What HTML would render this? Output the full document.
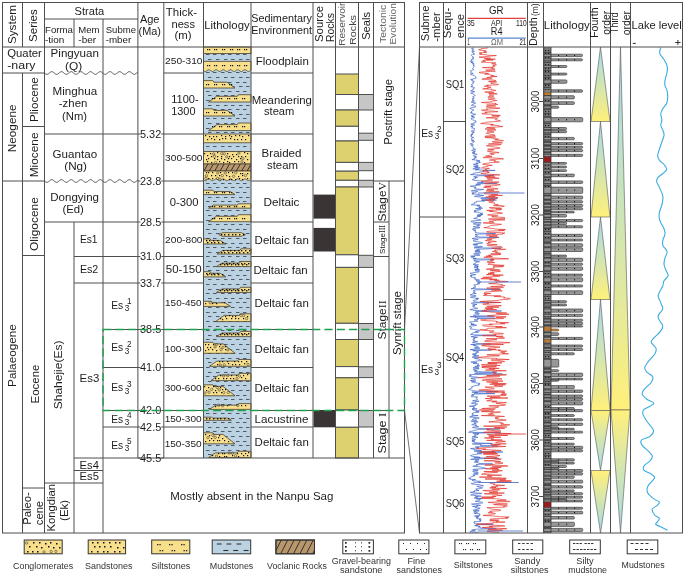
<!DOCTYPE html>
<html><head><meta charset="utf-8"><style>
html,body{margin:0;padding:0;background:#fff;}
svg{display:block;font-family:"Liberation Sans", sans-serif;will-change:transform;}
</style></head><body>
<svg width="685" height="576" viewBox="0 0 685 576">
<rect x="0" y="0" width="685" height="576" fill="#fff"/>
<rect x="335.5" y="74" width="23.0" height="20.5" fill="#dcd16e" stroke="#4e4e4e" stroke-width="1"/>
<rect x="335.5" y="94.5" width="23.0" height="15.5" fill="#ffffff" stroke="#4e4e4e" stroke-width="1"/>
<rect x="335.5" y="110" width="23.0" height="16.299999999999997" fill="#dcd16e" stroke="#4e4e4e" stroke-width="1"/>
<rect x="335.5" y="126.3" width="23.0" height="14.700000000000003" fill="#ffffff" stroke="#4e4e4e" stroke-width="1"/>
<rect x="335.5" y="141" width="23.0" height="21.400000000000006" fill="#dcd16e" stroke="#4e4e4e" stroke-width="1"/>
<rect x="335.5" y="162.4" width="23.0" height="8.799999999999983" fill="#ffffff" stroke="#4e4e4e" stroke-width="1"/>
<rect x="335.5" y="171.2" width="23.0" height="9.100000000000023" fill="#dcd16e" stroke="#4e4e4e" stroke-width="1"/>
<rect x="335.5" y="180.3" width="23.0" height="6.699999999999989" fill="#ffffff" stroke="#4e4e4e" stroke-width="1"/>
<rect x="335.5" y="187" width="23.0" height="67.80000000000001" fill="#dcd16e" stroke="#4e4e4e" stroke-width="1"/>
<rect x="335.5" y="254.8" width="23.0" height="12.599999999999966" fill="#ffffff" stroke="#4e4e4e" stroke-width="1"/>
<rect x="335.5" y="267.4" width="23.0" height="55.900000000000034" fill="#dcd16e" stroke="#4e4e4e" stroke-width="1"/>
<rect x="335.5" y="323.3" width="23.0" height="16.19999999999999" fill="#ffffff" stroke="#4e4e4e" stroke-width="1"/>
<rect x="335.5" y="339.5" width="23.0" height="27.100000000000023" fill="#dcd16e" stroke="#4e4e4e" stroke-width="1"/>
<rect x="335.5" y="366.6" width="23.0" height="11.199999999999989" fill="#ffffff" stroke="#4e4e4e" stroke-width="1"/>
<rect x="335.5" y="377.8" width="23.0" height="32.19999999999999" fill="#dcd16e" stroke="#4e4e4e" stroke-width="1"/>
<rect x="335.5" y="410" width="23.0" height="17.30000000000001" fill="#ffffff" stroke="#4e4e4e" stroke-width="1"/>
<rect x="335.5" y="427.3" width="23.0" height="30.69999999999999" fill="#dcd16e" stroke="#4e4e4e" stroke-width="1"/>
<rect x="358.5" y="94.5" width="15.0" height="15.5" fill="#c6c6c6" stroke="#4e4e4e" stroke-width="1"/>
<rect x="358.5" y="133.2" width="15.0" height="7.100000000000023" fill="#c6c6c6" stroke="#4e4e4e" stroke-width="1"/>
<rect x="358.5" y="162.4" width="15.0" height="8.299999999999983" fill="#c6c6c6" stroke="#4e4e4e" stroke-width="1"/>
<rect x="358.5" y="180.3" width="15.0" height="6.699999999999989" fill="#c6c6c6" stroke="#4e4e4e" stroke-width="1"/>
<rect x="358.5" y="255.3" width="15.0" height="12.099999999999966" fill="#c6c6c6" stroke="#4e4e4e" stroke-width="1"/>
<rect x="358.5" y="323.5" width="15.0" height="16.0" fill="#c6c6c6" stroke="#4e4e4e" stroke-width="1"/>
<rect x="358.5" y="366.8" width="15.0" height="10.800000000000011" fill="#c6c6c6" stroke="#4e4e4e" stroke-width="1"/>
<rect x="358.5" y="410.5" width="15.0" height="16.5" fill="#c6c6c6" stroke="#4e4e4e" stroke-width="1"/>
<rect x="313.5" y="194.6" width="21.5" height="24.0" fill="#3b3434" stroke="none" stroke-width="1"/>
<rect x="313.5" y="227.9" width="21.5" height="23.599999999999994" fill="#3b3434" stroke="none" stroke-width="1"/>
<rect x="313.5" y="410" width="21.5" height="17.30000000000001" fill="#3b3434" stroke="none" stroke-width="1"/>
<rect x="203.5" y="47" width="47.5" height="411" fill="#bad2e2" stroke="none" stroke-width="1"/>
<line x1="208" y1="50.5" x2="211.5" y2="50.5" stroke="#4f5a64" stroke-width="1"/>
<line x1="216" y1="50.5" x2="219.5" y2="50.5" stroke="#4f5a64" stroke-width="1"/>
<line x1="224" y1="50.5" x2="227.5" y2="50.5" stroke="#4f5a64" stroke-width="1"/>
<line x1="231" y1="50.5" x2="234.5" y2="50.5" stroke="#4f5a64" stroke-width="1"/>
<line x1="239" y1="50.5" x2="242.5" y2="50.5" stroke="#4f5a64" stroke-width="1"/>
<line x1="246" y1="50.5" x2="249.5" y2="50.5" stroke="#4f5a64" stroke-width="1"/>
<line x1="206" y1="54.5" x2="209.5" y2="54.5" stroke="#4f5a64" stroke-width="1"/>
<line x1="213" y1="54.5" x2="216.5" y2="54.5" stroke="#4f5a64" stroke-width="1"/>
<line x1="221" y1="54.5" x2="224.5" y2="54.5" stroke="#4f5a64" stroke-width="1"/>
<line x1="228" y1="54.5" x2="231.5" y2="54.5" stroke="#4f5a64" stroke-width="1"/>
<line x1="236" y1="54.5" x2="239.5" y2="54.5" stroke="#4f5a64" stroke-width="1"/>
<line x1="243" y1="54.5" x2="246.5" y2="54.5" stroke="#4f5a64" stroke-width="1"/>
<line x1="208" y1="59.5" x2="211.5" y2="59.5" stroke="#4f5a64" stroke-width="1"/>
<line x1="216" y1="59.5" x2="219.5" y2="59.5" stroke="#4f5a64" stroke-width="1"/>
<line x1="224" y1="59.5" x2="227.5" y2="59.5" stroke="#4f5a64" stroke-width="1"/>
<line x1="231" y1="59.5" x2="234.5" y2="59.5" stroke="#4f5a64" stroke-width="1"/>
<line x1="239" y1="59.5" x2="242.5" y2="59.5" stroke="#4f5a64" stroke-width="1"/>
<line x1="246" y1="59.5" x2="249.5" y2="59.5" stroke="#4f5a64" stroke-width="1"/>
<line x1="206" y1="63.5" x2="209.5" y2="63.5" stroke="#4f5a64" stroke-width="1"/>
<line x1="213" y1="63.5" x2="216.5" y2="63.5" stroke="#4f5a64" stroke-width="1"/>
<line x1="221" y1="63.5" x2="224.5" y2="63.5" stroke="#4f5a64" stroke-width="1"/>
<line x1="228" y1="63.5" x2="231.5" y2="63.5" stroke="#4f5a64" stroke-width="1"/>
<line x1="236" y1="63.5" x2="239.5" y2="63.5" stroke="#4f5a64" stroke-width="1"/>
<line x1="243" y1="63.5" x2="246.5" y2="63.5" stroke="#4f5a64" stroke-width="1"/>
<line x1="208" y1="68.5" x2="211.5" y2="68.5" stroke="#4f5a64" stroke-width="1"/>
<line x1="216" y1="68.5" x2="219.5" y2="68.5" stroke="#4f5a64" stroke-width="1"/>
<line x1="224" y1="68.5" x2="227.5" y2="68.5" stroke="#4f5a64" stroke-width="1"/>
<line x1="231" y1="68.5" x2="234.5" y2="68.5" stroke="#4f5a64" stroke-width="1"/>
<line x1="239" y1="68.5" x2="242.5" y2="68.5" stroke="#4f5a64" stroke-width="1"/>
<line x1="246" y1="68.5" x2="249.5" y2="68.5" stroke="#4f5a64" stroke-width="1"/>
<line x1="206" y1="72.5" x2="209.5" y2="72.5" stroke="#4f5a64" stroke-width="1"/>
<line x1="213" y1="72.5" x2="216.5" y2="72.5" stroke="#4f5a64" stroke-width="1"/>
<line x1="221" y1="72.5" x2="224.5" y2="72.5" stroke="#4f5a64" stroke-width="1"/>
<line x1="228" y1="72.5" x2="231.5" y2="72.5" stroke="#4f5a64" stroke-width="1"/>
<line x1="236" y1="72.5" x2="239.5" y2="72.5" stroke="#4f5a64" stroke-width="1"/>
<line x1="243" y1="72.5" x2="246.5" y2="72.5" stroke="#4f5a64" stroke-width="1"/>
<line x1="208" y1="77.5" x2="211.5" y2="77.5" stroke="#4f5a64" stroke-width="1"/>
<line x1="216" y1="77.5" x2="219.5" y2="77.5" stroke="#4f5a64" stroke-width="1"/>
<line x1="224" y1="77.5" x2="227.5" y2="77.5" stroke="#4f5a64" stroke-width="1"/>
<line x1="231" y1="77.5" x2="234.5" y2="77.5" stroke="#4f5a64" stroke-width="1"/>
<line x1="239" y1="77.5" x2="242.5" y2="77.5" stroke="#4f5a64" stroke-width="1"/>
<line x1="246" y1="77.5" x2="249.5" y2="77.5" stroke="#4f5a64" stroke-width="1"/>
<line x1="206" y1="82.5" x2="209.5" y2="82.5" stroke="#4f5a64" stroke-width="1"/>
<line x1="213" y1="82.5" x2="216.5" y2="82.5" stroke="#4f5a64" stroke-width="1"/>
<line x1="221" y1="82.5" x2="224.5" y2="82.5" stroke="#4f5a64" stroke-width="1"/>
<line x1="228" y1="82.5" x2="231.5" y2="82.5" stroke="#4f5a64" stroke-width="1"/>
<line x1="236" y1="82.5" x2="239.5" y2="82.5" stroke="#4f5a64" stroke-width="1"/>
<line x1="243" y1="82.5" x2="246.5" y2="82.5" stroke="#4f5a64" stroke-width="1"/>
<line x1="208" y1="86.5" x2="211.5" y2="86.5" stroke="#4f5a64" stroke-width="1"/>
<line x1="216" y1="86.5" x2="219.5" y2="86.5" stroke="#4f5a64" stroke-width="1"/>
<line x1="224" y1="86.5" x2="227.5" y2="86.5" stroke="#4f5a64" stroke-width="1"/>
<line x1="231" y1="86.5" x2="234.5" y2="86.5" stroke="#4f5a64" stroke-width="1"/>
<line x1="239" y1="86.5" x2="242.5" y2="86.5" stroke="#4f5a64" stroke-width="1"/>
<line x1="246" y1="86.5" x2="249.5" y2="86.5" stroke="#4f5a64" stroke-width="1"/>
<line x1="206" y1="91.5" x2="209.5" y2="91.5" stroke="#4f5a64" stroke-width="1"/>
<line x1="213" y1="91.5" x2="216.5" y2="91.5" stroke="#4f5a64" stroke-width="1"/>
<line x1="221" y1="91.5" x2="224.5" y2="91.5" stroke="#4f5a64" stroke-width="1"/>
<line x1="228" y1="91.5" x2="231.5" y2="91.5" stroke="#4f5a64" stroke-width="1"/>
<line x1="236" y1="91.5" x2="239.5" y2="91.5" stroke="#4f5a64" stroke-width="1"/>
<line x1="243" y1="91.5" x2="246.5" y2="91.5" stroke="#4f5a64" stroke-width="1"/>
<line x1="208" y1="95.5" x2="211.5" y2="95.5" stroke="#4f5a64" stroke-width="1"/>
<line x1="216" y1="95.5" x2="219.5" y2="95.5" stroke="#4f5a64" stroke-width="1"/>
<line x1="224" y1="95.5" x2="227.5" y2="95.5" stroke="#4f5a64" stroke-width="1"/>
<line x1="231" y1="95.5" x2="234.5" y2="95.5" stroke="#4f5a64" stroke-width="1"/>
<line x1="239" y1="95.5" x2="242.5" y2="95.5" stroke="#4f5a64" stroke-width="1"/>
<line x1="246" y1="95.5" x2="249.5" y2="95.5" stroke="#4f5a64" stroke-width="1"/>
<line x1="206" y1="100.5" x2="209.5" y2="100.5" stroke="#4f5a64" stroke-width="1"/>
<line x1="213" y1="100.5" x2="216.5" y2="100.5" stroke="#4f5a64" stroke-width="1"/>
<line x1="221" y1="100.5" x2="224.5" y2="100.5" stroke="#4f5a64" stroke-width="1"/>
<line x1="228" y1="100.5" x2="231.5" y2="100.5" stroke="#4f5a64" stroke-width="1"/>
<line x1="236" y1="100.5" x2="239.5" y2="100.5" stroke="#4f5a64" stroke-width="1"/>
<line x1="243" y1="100.5" x2="246.5" y2="100.5" stroke="#4f5a64" stroke-width="1"/>
<line x1="208" y1="105.5" x2="211.5" y2="105.5" stroke="#4f5a64" stroke-width="1"/>
<line x1="216" y1="105.5" x2="219.5" y2="105.5" stroke="#4f5a64" stroke-width="1"/>
<line x1="224" y1="105.5" x2="227.5" y2="105.5" stroke="#4f5a64" stroke-width="1"/>
<line x1="231" y1="105.5" x2="234.5" y2="105.5" stroke="#4f5a64" stroke-width="1"/>
<line x1="239" y1="105.5" x2="242.5" y2="105.5" stroke="#4f5a64" stroke-width="1"/>
<line x1="246" y1="105.5" x2="249.5" y2="105.5" stroke="#4f5a64" stroke-width="1"/>
<line x1="206" y1="109.5" x2="209.5" y2="109.5" stroke="#4f5a64" stroke-width="1"/>
<line x1="213" y1="109.5" x2="216.5" y2="109.5" stroke="#4f5a64" stroke-width="1"/>
<line x1="221" y1="109.5" x2="224.5" y2="109.5" stroke="#4f5a64" stroke-width="1"/>
<line x1="228" y1="109.5" x2="231.5" y2="109.5" stroke="#4f5a64" stroke-width="1"/>
<line x1="236" y1="109.5" x2="239.5" y2="109.5" stroke="#4f5a64" stroke-width="1"/>
<line x1="243" y1="109.5" x2="246.5" y2="109.5" stroke="#4f5a64" stroke-width="1"/>
<line x1="208" y1="114.5" x2="211.5" y2="114.5" stroke="#4f5a64" stroke-width="1"/>
<line x1="216" y1="114.5" x2="219.5" y2="114.5" stroke="#4f5a64" stroke-width="1"/>
<line x1="224" y1="114.5" x2="227.5" y2="114.5" stroke="#4f5a64" stroke-width="1"/>
<line x1="231" y1="114.5" x2="234.5" y2="114.5" stroke="#4f5a64" stroke-width="1"/>
<line x1="239" y1="114.5" x2="242.5" y2="114.5" stroke="#4f5a64" stroke-width="1"/>
<line x1="246" y1="114.5" x2="249.5" y2="114.5" stroke="#4f5a64" stroke-width="1"/>
<line x1="206" y1="118.5" x2="209.5" y2="118.5" stroke="#4f5a64" stroke-width="1"/>
<line x1="213" y1="118.5" x2="216.5" y2="118.5" stroke="#4f5a64" stroke-width="1"/>
<line x1="221" y1="118.5" x2="224.5" y2="118.5" stroke="#4f5a64" stroke-width="1"/>
<line x1="228" y1="118.5" x2="231.5" y2="118.5" stroke="#4f5a64" stroke-width="1"/>
<line x1="236" y1="118.5" x2="239.5" y2="118.5" stroke="#4f5a64" stroke-width="1"/>
<line x1="243" y1="118.5" x2="246.5" y2="118.5" stroke="#4f5a64" stroke-width="1"/>
<line x1="208" y1="123.5" x2="211.5" y2="123.5" stroke="#4f5a64" stroke-width="1"/>
<line x1="216" y1="123.5" x2="219.5" y2="123.5" stroke="#4f5a64" stroke-width="1"/>
<line x1="224" y1="123.5" x2="227.5" y2="123.5" stroke="#4f5a64" stroke-width="1"/>
<line x1="231" y1="123.5" x2="234.5" y2="123.5" stroke="#4f5a64" stroke-width="1"/>
<line x1="239" y1="123.5" x2="242.5" y2="123.5" stroke="#4f5a64" stroke-width="1"/>
<line x1="246" y1="123.5" x2="249.5" y2="123.5" stroke="#4f5a64" stroke-width="1"/>
<line x1="206" y1="128.5" x2="209.5" y2="128.5" stroke="#4f5a64" stroke-width="1"/>
<line x1="213" y1="128.5" x2="216.5" y2="128.5" stroke="#4f5a64" stroke-width="1"/>
<line x1="221" y1="128.5" x2="224.5" y2="128.5" stroke="#4f5a64" stroke-width="1"/>
<line x1="228" y1="128.5" x2="231.5" y2="128.5" stroke="#4f5a64" stroke-width="1"/>
<line x1="236" y1="128.5" x2="239.5" y2="128.5" stroke="#4f5a64" stroke-width="1"/>
<line x1="243" y1="128.5" x2="246.5" y2="128.5" stroke="#4f5a64" stroke-width="1"/>
<line x1="208" y1="132.5" x2="211.5" y2="132.5" stroke="#4f5a64" stroke-width="1"/>
<line x1="216" y1="132.5" x2="219.5" y2="132.5" stroke="#4f5a64" stroke-width="1"/>
<line x1="224" y1="132.5" x2="227.5" y2="132.5" stroke="#4f5a64" stroke-width="1"/>
<line x1="231" y1="132.5" x2="234.5" y2="132.5" stroke="#4f5a64" stroke-width="1"/>
<line x1="239" y1="132.5" x2="242.5" y2="132.5" stroke="#4f5a64" stroke-width="1"/>
<line x1="246" y1="132.5" x2="249.5" y2="132.5" stroke="#4f5a64" stroke-width="1"/>
<line x1="206" y1="137.5" x2="209.5" y2="137.5" stroke="#4f5a64" stroke-width="1"/>
<line x1="213" y1="137.5" x2="216.5" y2="137.5" stroke="#4f5a64" stroke-width="1"/>
<line x1="221" y1="137.5" x2="224.5" y2="137.5" stroke="#4f5a64" stroke-width="1"/>
<line x1="228" y1="137.5" x2="231.5" y2="137.5" stroke="#4f5a64" stroke-width="1"/>
<line x1="236" y1="137.5" x2="239.5" y2="137.5" stroke="#4f5a64" stroke-width="1"/>
<line x1="243" y1="137.5" x2="246.5" y2="137.5" stroke="#4f5a64" stroke-width="1"/>
<line x1="208" y1="141.5" x2="211.5" y2="141.5" stroke="#4f5a64" stroke-width="1"/>
<line x1="216" y1="141.5" x2="219.5" y2="141.5" stroke="#4f5a64" stroke-width="1"/>
<line x1="224" y1="141.5" x2="227.5" y2="141.5" stroke="#4f5a64" stroke-width="1"/>
<line x1="231" y1="141.5" x2="234.5" y2="141.5" stroke="#4f5a64" stroke-width="1"/>
<line x1="239" y1="141.5" x2="242.5" y2="141.5" stroke="#4f5a64" stroke-width="1"/>
<line x1="246" y1="141.5" x2="249.5" y2="141.5" stroke="#4f5a64" stroke-width="1"/>
<line x1="206" y1="146.5" x2="209.5" y2="146.5" stroke="#4f5a64" stroke-width="1"/>
<line x1="213" y1="146.5" x2="216.5" y2="146.5" stroke="#4f5a64" stroke-width="1"/>
<line x1="221" y1="146.5" x2="224.5" y2="146.5" stroke="#4f5a64" stroke-width="1"/>
<line x1="228" y1="146.5" x2="231.5" y2="146.5" stroke="#4f5a64" stroke-width="1"/>
<line x1="236" y1="146.5" x2="239.5" y2="146.5" stroke="#4f5a64" stroke-width="1"/>
<line x1="243" y1="146.5" x2="246.5" y2="146.5" stroke="#4f5a64" stroke-width="1"/>
<line x1="208" y1="151.5" x2="211.5" y2="151.5" stroke="#4f5a64" stroke-width="1"/>
<line x1="216" y1="151.5" x2="219.5" y2="151.5" stroke="#4f5a64" stroke-width="1"/>
<line x1="224" y1="151.5" x2="227.5" y2="151.5" stroke="#4f5a64" stroke-width="1"/>
<line x1="231" y1="151.5" x2="234.5" y2="151.5" stroke="#4f5a64" stroke-width="1"/>
<line x1="239" y1="151.5" x2="242.5" y2="151.5" stroke="#4f5a64" stroke-width="1"/>
<line x1="246" y1="151.5" x2="249.5" y2="151.5" stroke="#4f5a64" stroke-width="1"/>
<line x1="206" y1="155.5" x2="209.5" y2="155.5" stroke="#4f5a64" stroke-width="1"/>
<line x1="213" y1="155.5" x2="216.5" y2="155.5" stroke="#4f5a64" stroke-width="1"/>
<line x1="221" y1="155.5" x2="224.5" y2="155.5" stroke="#4f5a64" stroke-width="1"/>
<line x1="228" y1="155.5" x2="231.5" y2="155.5" stroke="#4f5a64" stroke-width="1"/>
<line x1="236" y1="155.5" x2="239.5" y2="155.5" stroke="#4f5a64" stroke-width="1"/>
<line x1="243" y1="155.5" x2="246.5" y2="155.5" stroke="#4f5a64" stroke-width="1"/>
<line x1="208" y1="160.5" x2="211.5" y2="160.5" stroke="#4f5a64" stroke-width="1"/>
<line x1="216" y1="160.5" x2="219.5" y2="160.5" stroke="#4f5a64" stroke-width="1"/>
<line x1="224" y1="160.5" x2="227.5" y2="160.5" stroke="#4f5a64" stroke-width="1"/>
<line x1="231" y1="160.5" x2="234.5" y2="160.5" stroke="#4f5a64" stroke-width="1"/>
<line x1="239" y1="160.5" x2="242.5" y2="160.5" stroke="#4f5a64" stroke-width="1"/>
<line x1="246" y1="160.5" x2="249.5" y2="160.5" stroke="#4f5a64" stroke-width="1"/>
<line x1="206" y1="164.5" x2="209.5" y2="164.5" stroke="#4f5a64" stroke-width="1"/>
<line x1="213" y1="164.5" x2="216.5" y2="164.5" stroke="#4f5a64" stroke-width="1"/>
<line x1="221" y1="164.5" x2="224.5" y2="164.5" stroke="#4f5a64" stroke-width="1"/>
<line x1="228" y1="164.5" x2="231.5" y2="164.5" stroke="#4f5a64" stroke-width="1"/>
<line x1="236" y1="164.5" x2="239.5" y2="164.5" stroke="#4f5a64" stroke-width="1"/>
<line x1="243" y1="164.5" x2="246.5" y2="164.5" stroke="#4f5a64" stroke-width="1"/>
<line x1="208" y1="169.5" x2="211.5" y2="169.5" stroke="#4f5a64" stroke-width="1"/>
<line x1="216" y1="169.5" x2="219.5" y2="169.5" stroke="#4f5a64" stroke-width="1"/>
<line x1="224" y1="169.5" x2="227.5" y2="169.5" stroke="#4f5a64" stroke-width="1"/>
<line x1="231" y1="169.5" x2="234.5" y2="169.5" stroke="#4f5a64" stroke-width="1"/>
<line x1="239" y1="169.5" x2="242.5" y2="169.5" stroke="#4f5a64" stroke-width="1"/>
<line x1="246" y1="169.5" x2="249.5" y2="169.5" stroke="#4f5a64" stroke-width="1"/>
<line x1="206" y1="174.5" x2="209.5" y2="174.5" stroke="#4f5a64" stroke-width="1"/>
<line x1="213" y1="174.5" x2="216.5" y2="174.5" stroke="#4f5a64" stroke-width="1"/>
<line x1="221" y1="174.5" x2="224.5" y2="174.5" stroke="#4f5a64" stroke-width="1"/>
<line x1="228" y1="174.5" x2="231.5" y2="174.5" stroke="#4f5a64" stroke-width="1"/>
<line x1="236" y1="174.5" x2="239.5" y2="174.5" stroke="#4f5a64" stroke-width="1"/>
<line x1="243" y1="174.5" x2="246.5" y2="174.5" stroke="#4f5a64" stroke-width="1"/>
<line x1="208" y1="178.5" x2="211.5" y2="178.5" stroke="#4f5a64" stroke-width="1"/>
<line x1="216" y1="178.5" x2="219.5" y2="178.5" stroke="#4f5a64" stroke-width="1"/>
<line x1="224" y1="178.5" x2="227.5" y2="178.5" stroke="#4f5a64" stroke-width="1"/>
<line x1="231" y1="178.5" x2="234.5" y2="178.5" stroke="#4f5a64" stroke-width="1"/>
<line x1="239" y1="178.5" x2="242.5" y2="178.5" stroke="#4f5a64" stroke-width="1"/>
<line x1="246" y1="178.5" x2="249.5" y2="178.5" stroke="#4f5a64" stroke-width="1"/>
<line x1="206" y1="183.5" x2="209.5" y2="183.5" stroke="#4f5a64" stroke-width="1"/>
<line x1="213" y1="183.5" x2="216.5" y2="183.5" stroke="#4f5a64" stroke-width="1"/>
<line x1="221" y1="183.5" x2="224.5" y2="183.5" stroke="#4f5a64" stroke-width="1"/>
<line x1="228" y1="183.5" x2="231.5" y2="183.5" stroke="#4f5a64" stroke-width="1"/>
<line x1="236" y1="183.5" x2="239.5" y2="183.5" stroke="#4f5a64" stroke-width="1"/>
<line x1="243" y1="183.5" x2="246.5" y2="183.5" stroke="#4f5a64" stroke-width="1"/>
<line x1="208" y1="187.5" x2="211.5" y2="187.5" stroke="#4f5a64" stroke-width="1"/>
<line x1="216" y1="187.5" x2="219.5" y2="187.5" stroke="#4f5a64" stroke-width="1"/>
<line x1="224" y1="187.5" x2="227.5" y2="187.5" stroke="#4f5a64" stroke-width="1"/>
<line x1="231" y1="187.5" x2="234.5" y2="187.5" stroke="#4f5a64" stroke-width="1"/>
<line x1="239" y1="187.5" x2="242.5" y2="187.5" stroke="#4f5a64" stroke-width="1"/>
<line x1="246" y1="187.5" x2="249.5" y2="187.5" stroke="#4f5a64" stroke-width="1"/>
<line x1="206" y1="192.5" x2="209.5" y2="192.5" stroke="#4f5a64" stroke-width="1"/>
<line x1="213" y1="192.5" x2="216.5" y2="192.5" stroke="#4f5a64" stroke-width="1"/>
<line x1="221" y1="192.5" x2="224.5" y2="192.5" stroke="#4f5a64" stroke-width="1"/>
<line x1="228" y1="192.5" x2="231.5" y2="192.5" stroke="#4f5a64" stroke-width="1"/>
<line x1="236" y1="192.5" x2="239.5" y2="192.5" stroke="#4f5a64" stroke-width="1"/>
<line x1="243" y1="192.5" x2="246.5" y2="192.5" stroke="#4f5a64" stroke-width="1"/>
<line x1="208" y1="197.5" x2="211.5" y2="197.5" stroke="#4f5a64" stroke-width="1"/>
<line x1="216" y1="197.5" x2="219.5" y2="197.5" stroke="#4f5a64" stroke-width="1"/>
<line x1="224" y1="197.5" x2="227.5" y2="197.5" stroke="#4f5a64" stroke-width="1"/>
<line x1="231" y1="197.5" x2="234.5" y2="197.5" stroke="#4f5a64" stroke-width="1"/>
<line x1="239" y1="197.5" x2="242.5" y2="197.5" stroke="#4f5a64" stroke-width="1"/>
<line x1="246" y1="197.5" x2="249.5" y2="197.5" stroke="#4f5a64" stroke-width="1"/>
<line x1="206" y1="201.5" x2="209.5" y2="201.5" stroke="#4f5a64" stroke-width="1"/>
<line x1="213" y1="201.5" x2="216.5" y2="201.5" stroke="#4f5a64" stroke-width="1"/>
<line x1="221" y1="201.5" x2="224.5" y2="201.5" stroke="#4f5a64" stroke-width="1"/>
<line x1="228" y1="201.5" x2="231.5" y2="201.5" stroke="#4f5a64" stroke-width="1"/>
<line x1="236" y1="201.5" x2="239.5" y2="201.5" stroke="#4f5a64" stroke-width="1"/>
<line x1="243" y1="201.5" x2="246.5" y2="201.5" stroke="#4f5a64" stroke-width="1"/>
<line x1="208" y1="206.5" x2="211.5" y2="206.5" stroke="#4f5a64" stroke-width="1"/>
<line x1="216" y1="206.5" x2="219.5" y2="206.5" stroke="#4f5a64" stroke-width="1"/>
<line x1="224" y1="206.5" x2="227.5" y2="206.5" stroke="#4f5a64" stroke-width="1"/>
<line x1="231" y1="206.5" x2="234.5" y2="206.5" stroke="#4f5a64" stroke-width="1"/>
<line x1="239" y1="206.5" x2="242.5" y2="206.5" stroke="#4f5a64" stroke-width="1"/>
<line x1="246" y1="206.5" x2="249.5" y2="206.5" stroke="#4f5a64" stroke-width="1"/>
<line x1="206" y1="210.5" x2="209.5" y2="210.5" stroke="#4f5a64" stroke-width="1"/>
<line x1="213" y1="210.5" x2="216.5" y2="210.5" stroke="#4f5a64" stroke-width="1"/>
<line x1="221" y1="210.5" x2="224.5" y2="210.5" stroke="#4f5a64" stroke-width="1"/>
<line x1="228" y1="210.5" x2="231.5" y2="210.5" stroke="#4f5a64" stroke-width="1"/>
<line x1="236" y1="210.5" x2="239.5" y2="210.5" stroke="#4f5a64" stroke-width="1"/>
<line x1="243" y1="210.5" x2="246.5" y2="210.5" stroke="#4f5a64" stroke-width="1"/>
<line x1="208" y1="215.5" x2="211.5" y2="215.5" stroke="#4f5a64" stroke-width="1"/>
<line x1="216" y1="215.5" x2="219.5" y2="215.5" stroke="#4f5a64" stroke-width="1"/>
<line x1="224" y1="215.5" x2="227.5" y2="215.5" stroke="#4f5a64" stroke-width="1"/>
<line x1="231" y1="215.5" x2="234.5" y2="215.5" stroke="#4f5a64" stroke-width="1"/>
<line x1="239" y1="215.5" x2="242.5" y2="215.5" stroke="#4f5a64" stroke-width="1"/>
<line x1="246" y1="215.5" x2="249.5" y2="215.5" stroke="#4f5a64" stroke-width="1"/>
<line x1="206" y1="220.5" x2="209.5" y2="220.5" stroke="#4f5a64" stroke-width="1"/>
<line x1="213" y1="220.5" x2="216.5" y2="220.5" stroke="#4f5a64" stroke-width="1"/>
<line x1="221" y1="220.5" x2="224.5" y2="220.5" stroke="#4f5a64" stroke-width="1"/>
<line x1="228" y1="220.5" x2="231.5" y2="220.5" stroke="#4f5a64" stroke-width="1"/>
<line x1="236" y1="220.5" x2="239.5" y2="220.5" stroke="#4f5a64" stroke-width="1"/>
<line x1="243" y1="220.5" x2="246.5" y2="220.5" stroke="#4f5a64" stroke-width="1"/>
<line x1="208" y1="224.5" x2="211.5" y2="224.5" stroke="#4f5a64" stroke-width="1"/>
<line x1="216" y1="224.5" x2="219.5" y2="224.5" stroke="#4f5a64" stroke-width="1"/>
<line x1="224" y1="224.5" x2="227.5" y2="224.5" stroke="#4f5a64" stroke-width="1"/>
<line x1="231" y1="224.5" x2="234.5" y2="224.5" stroke="#4f5a64" stroke-width="1"/>
<line x1="239" y1="224.5" x2="242.5" y2="224.5" stroke="#4f5a64" stroke-width="1"/>
<line x1="246" y1="224.5" x2="249.5" y2="224.5" stroke="#4f5a64" stroke-width="1"/>
<line x1="206" y1="229.5" x2="209.5" y2="229.5" stroke="#4f5a64" stroke-width="1"/>
<line x1="213" y1="229.5" x2="216.5" y2="229.5" stroke="#4f5a64" stroke-width="1"/>
<line x1="221" y1="229.5" x2="224.5" y2="229.5" stroke="#4f5a64" stroke-width="1"/>
<line x1="228" y1="229.5" x2="231.5" y2="229.5" stroke="#4f5a64" stroke-width="1"/>
<line x1="236" y1="229.5" x2="239.5" y2="229.5" stroke="#4f5a64" stroke-width="1"/>
<line x1="243" y1="229.5" x2="246.5" y2="229.5" stroke="#4f5a64" stroke-width="1"/>
<line x1="208" y1="233.5" x2="211.5" y2="233.5" stroke="#4f5a64" stroke-width="1"/>
<line x1="216" y1="233.5" x2="219.5" y2="233.5" stroke="#4f5a64" stroke-width="1"/>
<line x1="224" y1="233.5" x2="227.5" y2="233.5" stroke="#4f5a64" stroke-width="1"/>
<line x1="231" y1="233.5" x2="234.5" y2="233.5" stroke="#4f5a64" stroke-width="1"/>
<line x1="239" y1="233.5" x2="242.5" y2="233.5" stroke="#4f5a64" stroke-width="1"/>
<line x1="246" y1="233.5" x2="249.5" y2="233.5" stroke="#4f5a64" stroke-width="1"/>
<line x1="206" y1="238.5" x2="209.5" y2="238.5" stroke="#4f5a64" stroke-width="1"/>
<line x1="213" y1="238.5" x2="216.5" y2="238.5" stroke="#4f5a64" stroke-width="1"/>
<line x1="221" y1="238.5" x2="224.5" y2="238.5" stroke="#4f5a64" stroke-width="1"/>
<line x1="228" y1="238.5" x2="231.5" y2="238.5" stroke="#4f5a64" stroke-width="1"/>
<line x1="236" y1="238.5" x2="239.5" y2="238.5" stroke="#4f5a64" stroke-width="1"/>
<line x1="243" y1="238.5" x2="246.5" y2="238.5" stroke="#4f5a64" stroke-width="1"/>
<line x1="208" y1="243.5" x2="211.5" y2="243.5" stroke="#4f5a64" stroke-width="1"/>
<line x1="216" y1="243.5" x2="219.5" y2="243.5" stroke="#4f5a64" stroke-width="1"/>
<line x1="224" y1="243.5" x2="227.5" y2="243.5" stroke="#4f5a64" stroke-width="1"/>
<line x1="231" y1="243.5" x2="234.5" y2="243.5" stroke="#4f5a64" stroke-width="1"/>
<line x1="239" y1="243.5" x2="242.5" y2="243.5" stroke="#4f5a64" stroke-width="1"/>
<line x1="246" y1="243.5" x2="249.5" y2="243.5" stroke="#4f5a64" stroke-width="1"/>
<line x1="206" y1="247.5" x2="209.5" y2="247.5" stroke="#4f5a64" stroke-width="1"/>
<line x1="213" y1="247.5" x2="216.5" y2="247.5" stroke="#4f5a64" stroke-width="1"/>
<line x1="221" y1="247.5" x2="224.5" y2="247.5" stroke="#4f5a64" stroke-width="1"/>
<line x1="228" y1="247.5" x2="231.5" y2="247.5" stroke="#4f5a64" stroke-width="1"/>
<line x1="236" y1="247.5" x2="239.5" y2="247.5" stroke="#4f5a64" stroke-width="1"/>
<line x1="243" y1="247.5" x2="246.5" y2="247.5" stroke="#4f5a64" stroke-width="1"/>
<line x1="208" y1="252.5" x2="211.5" y2="252.5" stroke="#4f5a64" stroke-width="1"/>
<line x1="216" y1="252.5" x2="219.5" y2="252.5" stroke="#4f5a64" stroke-width="1"/>
<line x1="224" y1="252.5" x2="227.5" y2="252.5" stroke="#4f5a64" stroke-width="1"/>
<line x1="231" y1="252.5" x2="234.5" y2="252.5" stroke="#4f5a64" stroke-width="1"/>
<line x1="239" y1="252.5" x2="242.5" y2="252.5" stroke="#4f5a64" stroke-width="1"/>
<line x1="246" y1="252.5" x2="249.5" y2="252.5" stroke="#4f5a64" stroke-width="1"/>
<line x1="206" y1="256.5" x2="209.5" y2="256.5" stroke="#4f5a64" stroke-width="1"/>
<line x1="213" y1="256.5" x2="216.5" y2="256.5" stroke="#4f5a64" stroke-width="1"/>
<line x1="221" y1="256.5" x2="224.5" y2="256.5" stroke="#4f5a64" stroke-width="1"/>
<line x1="228" y1="256.5" x2="231.5" y2="256.5" stroke="#4f5a64" stroke-width="1"/>
<line x1="236" y1="256.5" x2="239.5" y2="256.5" stroke="#4f5a64" stroke-width="1"/>
<line x1="243" y1="256.5" x2="246.5" y2="256.5" stroke="#4f5a64" stroke-width="1"/>
<line x1="208" y1="261.5" x2="211.5" y2="261.5" stroke="#4f5a64" stroke-width="1"/>
<line x1="216" y1="261.5" x2="219.5" y2="261.5" stroke="#4f5a64" stroke-width="1"/>
<line x1="224" y1="261.5" x2="227.5" y2="261.5" stroke="#4f5a64" stroke-width="1"/>
<line x1="231" y1="261.5" x2="234.5" y2="261.5" stroke="#4f5a64" stroke-width="1"/>
<line x1="239" y1="261.5" x2="242.5" y2="261.5" stroke="#4f5a64" stroke-width="1"/>
<line x1="246" y1="261.5" x2="249.5" y2="261.5" stroke="#4f5a64" stroke-width="1"/>
<line x1="206" y1="266.5" x2="209.5" y2="266.5" stroke="#4f5a64" stroke-width="1"/>
<line x1="213" y1="266.5" x2="216.5" y2="266.5" stroke="#4f5a64" stroke-width="1"/>
<line x1="221" y1="266.5" x2="224.5" y2="266.5" stroke="#4f5a64" stroke-width="1"/>
<line x1="228" y1="266.5" x2="231.5" y2="266.5" stroke="#4f5a64" stroke-width="1"/>
<line x1="236" y1="266.5" x2="239.5" y2="266.5" stroke="#4f5a64" stroke-width="1"/>
<line x1="243" y1="266.5" x2="246.5" y2="266.5" stroke="#4f5a64" stroke-width="1"/>
<line x1="208" y1="270.5" x2="211.5" y2="270.5" stroke="#4f5a64" stroke-width="1"/>
<line x1="216" y1="270.5" x2="219.5" y2="270.5" stroke="#4f5a64" stroke-width="1"/>
<line x1="224" y1="270.5" x2="227.5" y2="270.5" stroke="#4f5a64" stroke-width="1"/>
<line x1="231" y1="270.5" x2="234.5" y2="270.5" stroke="#4f5a64" stroke-width="1"/>
<line x1="239" y1="270.5" x2="242.5" y2="270.5" stroke="#4f5a64" stroke-width="1"/>
<line x1="246" y1="270.5" x2="249.5" y2="270.5" stroke="#4f5a64" stroke-width="1"/>
<line x1="206" y1="275.5" x2="209.5" y2="275.5" stroke="#4f5a64" stroke-width="1"/>
<line x1="213" y1="275.5" x2="216.5" y2="275.5" stroke="#4f5a64" stroke-width="1"/>
<line x1="221" y1="275.5" x2="224.5" y2="275.5" stroke="#4f5a64" stroke-width="1"/>
<line x1="228" y1="275.5" x2="231.5" y2="275.5" stroke="#4f5a64" stroke-width="1"/>
<line x1="236" y1="275.5" x2="239.5" y2="275.5" stroke="#4f5a64" stroke-width="1"/>
<line x1="243" y1="275.5" x2="246.5" y2="275.5" stroke="#4f5a64" stroke-width="1"/>
<line x1="208" y1="279.5" x2="211.5" y2="279.5" stroke="#4f5a64" stroke-width="1"/>
<line x1="216" y1="279.5" x2="219.5" y2="279.5" stroke="#4f5a64" stroke-width="1"/>
<line x1="224" y1="279.5" x2="227.5" y2="279.5" stroke="#4f5a64" stroke-width="1"/>
<line x1="231" y1="279.5" x2="234.5" y2="279.5" stroke="#4f5a64" stroke-width="1"/>
<line x1="239" y1="279.5" x2="242.5" y2="279.5" stroke="#4f5a64" stroke-width="1"/>
<line x1="246" y1="279.5" x2="249.5" y2="279.5" stroke="#4f5a64" stroke-width="1"/>
<line x1="206" y1="284.5" x2="209.5" y2="284.5" stroke="#4f5a64" stroke-width="1"/>
<line x1="213" y1="284.5" x2="216.5" y2="284.5" stroke="#4f5a64" stroke-width="1"/>
<line x1="221" y1="284.5" x2="224.5" y2="284.5" stroke="#4f5a64" stroke-width="1"/>
<line x1="228" y1="284.5" x2="231.5" y2="284.5" stroke="#4f5a64" stroke-width="1"/>
<line x1="236" y1="284.5" x2="239.5" y2="284.5" stroke="#4f5a64" stroke-width="1"/>
<line x1="243" y1="284.5" x2="246.5" y2="284.5" stroke="#4f5a64" stroke-width="1"/>
<line x1="208" y1="289.5" x2="211.5" y2="289.5" stroke="#4f5a64" stroke-width="1"/>
<line x1="216" y1="289.5" x2="219.5" y2="289.5" stroke="#4f5a64" stroke-width="1"/>
<line x1="224" y1="289.5" x2="227.5" y2="289.5" stroke="#4f5a64" stroke-width="1"/>
<line x1="231" y1="289.5" x2="234.5" y2="289.5" stroke="#4f5a64" stroke-width="1"/>
<line x1="239" y1="289.5" x2="242.5" y2="289.5" stroke="#4f5a64" stroke-width="1"/>
<line x1="246" y1="289.5" x2="249.5" y2="289.5" stroke="#4f5a64" stroke-width="1"/>
<line x1="206" y1="293.5" x2="209.5" y2="293.5" stroke="#4f5a64" stroke-width="1"/>
<line x1="213" y1="293.5" x2="216.5" y2="293.5" stroke="#4f5a64" stroke-width="1"/>
<line x1="221" y1="293.5" x2="224.5" y2="293.5" stroke="#4f5a64" stroke-width="1"/>
<line x1="228" y1="293.5" x2="231.5" y2="293.5" stroke="#4f5a64" stroke-width="1"/>
<line x1="236" y1="293.5" x2="239.5" y2="293.5" stroke="#4f5a64" stroke-width="1"/>
<line x1="243" y1="293.5" x2="246.5" y2="293.5" stroke="#4f5a64" stroke-width="1"/>
<line x1="208" y1="298.5" x2="211.5" y2="298.5" stroke="#4f5a64" stroke-width="1"/>
<line x1="216" y1="298.5" x2="219.5" y2="298.5" stroke="#4f5a64" stroke-width="1"/>
<line x1="224" y1="298.5" x2="227.5" y2="298.5" stroke="#4f5a64" stroke-width="1"/>
<line x1="231" y1="298.5" x2="234.5" y2="298.5" stroke="#4f5a64" stroke-width="1"/>
<line x1="239" y1="298.5" x2="242.5" y2="298.5" stroke="#4f5a64" stroke-width="1"/>
<line x1="246" y1="298.5" x2="249.5" y2="298.5" stroke="#4f5a64" stroke-width="1"/>
<line x1="206" y1="302.5" x2="209.5" y2="302.5" stroke="#4f5a64" stroke-width="1"/>
<line x1="213" y1="302.5" x2="216.5" y2="302.5" stroke="#4f5a64" stroke-width="1"/>
<line x1="221" y1="302.5" x2="224.5" y2="302.5" stroke="#4f5a64" stroke-width="1"/>
<line x1="228" y1="302.5" x2="231.5" y2="302.5" stroke="#4f5a64" stroke-width="1"/>
<line x1="236" y1="302.5" x2="239.5" y2="302.5" stroke="#4f5a64" stroke-width="1"/>
<line x1="243" y1="302.5" x2="246.5" y2="302.5" stroke="#4f5a64" stroke-width="1"/>
<line x1="208" y1="307.5" x2="211.5" y2="307.5" stroke="#4f5a64" stroke-width="1"/>
<line x1="216" y1="307.5" x2="219.5" y2="307.5" stroke="#4f5a64" stroke-width="1"/>
<line x1="224" y1="307.5" x2="227.5" y2="307.5" stroke="#4f5a64" stroke-width="1"/>
<line x1="231" y1="307.5" x2="234.5" y2="307.5" stroke="#4f5a64" stroke-width="1"/>
<line x1="239" y1="307.5" x2="242.5" y2="307.5" stroke="#4f5a64" stroke-width="1"/>
<line x1="246" y1="307.5" x2="249.5" y2="307.5" stroke="#4f5a64" stroke-width="1"/>
<line x1="206" y1="312.5" x2="209.5" y2="312.5" stroke="#4f5a64" stroke-width="1"/>
<line x1="213" y1="312.5" x2="216.5" y2="312.5" stroke="#4f5a64" stroke-width="1"/>
<line x1="221" y1="312.5" x2="224.5" y2="312.5" stroke="#4f5a64" stroke-width="1"/>
<line x1="228" y1="312.5" x2="231.5" y2="312.5" stroke="#4f5a64" stroke-width="1"/>
<line x1="236" y1="312.5" x2="239.5" y2="312.5" stroke="#4f5a64" stroke-width="1"/>
<line x1="243" y1="312.5" x2="246.5" y2="312.5" stroke="#4f5a64" stroke-width="1"/>
<line x1="208" y1="316.5" x2="211.5" y2="316.5" stroke="#4f5a64" stroke-width="1"/>
<line x1="216" y1="316.5" x2="219.5" y2="316.5" stroke="#4f5a64" stroke-width="1"/>
<line x1="224" y1="316.5" x2="227.5" y2="316.5" stroke="#4f5a64" stroke-width="1"/>
<line x1="231" y1="316.5" x2="234.5" y2="316.5" stroke="#4f5a64" stroke-width="1"/>
<line x1="239" y1="316.5" x2="242.5" y2="316.5" stroke="#4f5a64" stroke-width="1"/>
<line x1="246" y1="316.5" x2="249.5" y2="316.5" stroke="#4f5a64" stroke-width="1"/>
<line x1="206" y1="321.5" x2="209.5" y2="321.5" stroke="#4f5a64" stroke-width="1"/>
<line x1="213" y1="321.5" x2="216.5" y2="321.5" stroke="#4f5a64" stroke-width="1"/>
<line x1="221" y1="321.5" x2="224.5" y2="321.5" stroke="#4f5a64" stroke-width="1"/>
<line x1="228" y1="321.5" x2="231.5" y2="321.5" stroke="#4f5a64" stroke-width="1"/>
<line x1="236" y1="321.5" x2="239.5" y2="321.5" stroke="#4f5a64" stroke-width="1"/>
<line x1="243" y1="321.5" x2="246.5" y2="321.5" stroke="#4f5a64" stroke-width="1"/>
<line x1="208" y1="326.5" x2="211.5" y2="326.5" stroke="#4f5a64" stroke-width="1"/>
<line x1="216" y1="326.5" x2="219.5" y2="326.5" stroke="#4f5a64" stroke-width="1"/>
<line x1="224" y1="326.5" x2="227.5" y2="326.5" stroke="#4f5a64" stroke-width="1"/>
<line x1="231" y1="326.5" x2="234.5" y2="326.5" stroke="#4f5a64" stroke-width="1"/>
<line x1="239" y1="326.5" x2="242.5" y2="326.5" stroke="#4f5a64" stroke-width="1"/>
<line x1="246" y1="326.5" x2="249.5" y2="326.5" stroke="#4f5a64" stroke-width="1"/>
<line x1="206" y1="330.5" x2="209.5" y2="330.5" stroke="#4f5a64" stroke-width="1"/>
<line x1="213" y1="330.5" x2="216.5" y2="330.5" stroke="#4f5a64" stroke-width="1"/>
<line x1="221" y1="330.5" x2="224.5" y2="330.5" stroke="#4f5a64" stroke-width="1"/>
<line x1="228" y1="330.5" x2="231.5" y2="330.5" stroke="#4f5a64" stroke-width="1"/>
<line x1="236" y1="330.5" x2="239.5" y2="330.5" stroke="#4f5a64" stroke-width="1"/>
<line x1="243" y1="330.5" x2="246.5" y2="330.5" stroke="#4f5a64" stroke-width="1"/>
<line x1="208" y1="335.5" x2="211.5" y2="335.5" stroke="#4f5a64" stroke-width="1"/>
<line x1="216" y1="335.5" x2="219.5" y2="335.5" stroke="#4f5a64" stroke-width="1"/>
<line x1="224" y1="335.5" x2="227.5" y2="335.5" stroke="#4f5a64" stroke-width="1"/>
<line x1="231" y1="335.5" x2="234.5" y2="335.5" stroke="#4f5a64" stroke-width="1"/>
<line x1="239" y1="335.5" x2="242.5" y2="335.5" stroke="#4f5a64" stroke-width="1"/>
<line x1="246" y1="335.5" x2="249.5" y2="335.5" stroke="#4f5a64" stroke-width="1"/>
<line x1="206" y1="339.5" x2="209.5" y2="339.5" stroke="#4f5a64" stroke-width="1"/>
<line x1="213" y1="339.5" x2="216.5" y2="339.5" stroke="#4f5a64" stroke-width="1"/>
<line x1="221" y1="339.5" x2="224.5" y2="339.5" stroke="#4f5a64" stroke-width="1"/>
<line x1="228" y1="339.5" x2="231.5" y2="339.5" stroke="#4f5a64" stroke-width="1"/>
<line x1="236" y1="339.5" x2="239.5" y2="339.5" stroke="#4f5a64" stroke-width="1"/>
<line x1="243" y1="339.5" x2="246.5" y2="339.5" stroke="#4f5a64" stroke-width="1"/>
<line x1="208" y1="344.5" x2="211.5" y2="344.5" stroke="#4f5a64" stroke-width="1"/>
<line x1="216" y1="344.5" x2="219.5" y2="344.5" stroke="#4f5a64" stroke-width="1"/>
<line x1="224" y1="344.5" x2="227.5" y2="344.5" stroke="#4f5a64" stroke-width="1"/>
<line x1="231" y1="344.5" x2="234.5" y2="344.5" stroke="#4f5a64" stroke-width="1"/>
<line x1="239" y1="344.5" x2="242.5" y2="344.5" stroke="#4f5a64" stroke-width="1"/>
<line x1="246" y1="344.5" x2="249.5" y2="344.5" stroke="#4f5a64" stroke-width="1"/>
<line x1="206" y1="349.5" x2="209.5" y2="349.5" stroke="#4f5a64" stroke-width="1"/>
<line x1="213" y1="349.5" x2="216.5" y2="349.5" stroke="#4f5a64" stroke-width="1"/>
<line x1="221" y1="349.5" x2="224.5" y2="349.5" stroke="#4f5a64" stroke-width="1"/>
<line x1="228" y1="349.5" x2="231.5" y2="349.5" stroke="#4f5a64" stroke-width="1"/>
<line x1="236" y1="349.5" x2="239.5" y2="349.5" stroke="#4f5a64" stroke-width="1"/>
<line x1="243" y1="349.5" x2="246.5" y2="349.5" stroke="#4f5a64" stroke-width="1"/>
<line x1="208" y1="353.5" x2="211.5" y2="353.5" stroke="#4f5a64" stroke-width="1"/>
<line x1="216" y1="353.5" x2="219.5" y2="353.5" stroke="#4f5a64" stroke-width="1"/>
<line x1="224" y1="353.5" x2="227.5" y2="353.5" stroke="#4f5a64" stroke-width="1"/>
<line x1="231" y1="353.5" x2="234.5" y2="353.5" stroke="#4f5a64" stroke-width="1"/>
<line x1="239" y1="353.5" x2="242.5" y2="353.5" stroke="#4f5a64" stroke-width="1"/>
<line x1="246" y1="353.5" x2="249.5" y2="353.5" stroke="#4f5a64" stroke-width="1"/>
<line x1="206" y1="358.5" x2="209.5" y2="358.5" stroke="#4f5a64" stroke-width="1"/>
<line x1="213" y1="358.5" x2="216.5" y2="358.5" stroke="#4f5a64" stroke-width="1"/>
<line x1="221" y1="358.5" x2="224.5" y2="358.5" stroke="#4f5a64" stroke-width="1"/>
<line x1="228" y1="358.5" x2="231.5" y2="358.5" stroke="#4f5a64" stroke-width="1"/>
<line x1="236" y1="358.5" x2="239.5" y2="358.5" stroke="#4f5a64" stroke-width="1"/>
<line x1="243" y1="358.5" x2="246.5" y2="358.5" stroke="#4f5a64" stroke-width="1"/>
<line x1="208" y1="362.5" x2="211.5" y2="362.5" stroke="#4f5a64" stroke-width="1"/>
<line x1="216" y1="362.5" x2="219.5" y2="362.5" stroke="#4f5a64" stroke-width="1"/>
<line x1="224" y1="362.5" x2="227.5" y2="362.5" stroke="#4f5a64" stroke-width="1"/>
<line x1="231" y1="362.5" x2="234.5" y2="362.5" stroke="#4f5a64" stroke-width="1"/>
<line x1="239" y1="362.5" x2="242.5" y2="362.5" stroke="#4f5a64" stroke-width="1"/>
<line x1="246" y1="362.5" x2="249.5" y2="362.5" stroke="#4f5a64" stroke-width="1"/>
<line x1="206" y1="367.5" x2="209.5" y2="367.5" stroke="#4f5a64" stroke-width="1"/>
<line x1="213" y1="367.5" x2="216.5" y2="367.5" stroke="#4f5a64" stroke-width="1"/>
<line x1="221" y1="367.5" x2="224.5" y2="367.5" stroke="#4f5a64" stroke-width="1"/>
<line x1="228" y1="367.5" x2="231.5" y2="367.5" stroke="#4f5a64" stroke-width="1"/>
<line x1="236" y1="367.5" x2="239.5" y2="367.5" stroke="#4f5a64" stroke-width="1"/>
<line x1="243" y1="367.5" x2="246.5" y2="367.5" stroke="#4f5a64" stroke-width="1"/>
<line x1="208" y1="372.5" x2="211.5" y2="372.5" stroke="#4f5a64" stroke-width="1"/>
<line x1="216" y1="372.5" x2="219.5" y2="372.5" stroke="#4f5a64" stroke-width="1"/>
<line x1="224" y1="372.5" x2="227.5" y2="372.5" stroke="#4f5a64" stroke-width="1"/>
<line x1="231" y1="372.5" x2="234.5" y2="372.5" stroke="#4f5a64" stroke-width="1"/>
<line x1="239" y1="372.5" x2="242.5" y2="372.5" stroke="#4f5a64" stroke-width="1"/>
<line x1="246" y1="372.5" x2="249.5" y2="372.5" stroke="#4f5a64" stroke-width="1"/>
<line x1="206" y1="376.5" x2="209.5" y2="376.5" stroke="#4f5a64" stroke-width="1"/>
<line x1="213" y1="376.5" x2="216.5" y2="376.5" stroke="#4f5a64" stroke-width="1"/>
<line x1="221" y1="376.5" x2="224.5" y2="376.5" stroke="#4f5a64" stroke-width="1"/>
<line x1="228" y1="376.5" x2="231.5" y2="376.5" stroke="#4f5a64" stroke-width="1"/>
<line x1="236" y1="376.5" x2="239.5" y2="376.5" stroke="#4f5a64" stroke-width="1"/>
<line x1="243" y1="376.5" x2="246.5" y2="376.5" stroke="#4f5a64" stroke-width="1"/>
<line x1="208" y1="381.5" x2="211.5" y2="381.5" stroke="#4f5a64" stroke-width="1"/>
<line x1="216" y1="381.5" x2="219.5" y2="381.5" stroke="#4f5a64" stroke-width="1"/>
<line x1="224" y1="381.5" x2="227.5" y2="381.5" stroke="#4f5a64" stroke-width="1"/>
<line x1="231" y1="381.5" x2="234.5" y2="381.5" stroke="#4f5a64" stroke-width="1"/>
<line x1="239" y1="381.5" x2="242.5" y2="381.5" stroke="#4f5a64" stroke-width="1"/>
<line x1="246" y1="381.5" x2="249.5" y2="381.5" stroke="#4f5a64" stroke-width="1"/>
<line x1="206" y1="385.5" x2="209.5" y2="385.5" stroke="#4f5a64" stroke-width="1"/>
<line x1="213" y1="385.5" x2="216.5" y2="385.5" stroke="#4f5a64" stroke-width="1"/>
<line x1="221" y1="385.5" x2="224.5" y2="385.5" stroke="#4f5a64" stroke-width="1"/>
<line x1="228" y1="385.5" x2="231.5" y2="385.5" stroke="#4f5a64" stroke-width="1"/>
<line x1="236" y1="385.5" x2="239.5" y2="385.5" stroke="#4f5a64" stroke-width="1"/>
<line x1="243" y1="385.5" x2="246.5" y2="385.5" stroke="#4f5a64" stroke-width="1"/>
<line x1="208" y1="390.5" x2="211.5" y2="390.5" stroke="#4f5a64" stroke-width="1"/>
<line x1="216" y1="390.5" x2="219.5" y2="390.5" stroke="#4f5a64" stroke-width="1"/>
<line x1="224" y1="390.5" x2="227.5" y2="390.5" stroke="#4f5a64" stroke-width="1"/>
<line x1="231" y1="390.5" x2="234.5" y2="390.5" stroke="#4f5a64" stroke-width="1"/>
<line x1="239" y1="390.5" x2="242.5" y2="390.5" stroke="#4f5a64" stroke-width="1"/>
<line x1="246" y1="390.5" x2="249.5" y2="390.5" stroke="#4f5a64" stroke-width="1"/>
<line x1="206" y1="395.5" x2="209.5" y2="395.5" stroke="#4f5a64" stroke-width="1"/>
<line x1="213" y1="395.5" x2="216.5" y2="395.5" stroke="#4f5a64" stroke-width="1"/>
<line x1="221" y1="395.5" x2="224.5" y2="395.5" stroke="#4f5a64" stroke-width="1"/>
<line x1="228" y1="395.5" x2="231.5" y2="395.5" stroke="#4f5a64" stroke-width="1"/>
<line x1="236" y1="395.5" x2="239.5" y2="395.5" stroke="#4f5a64" stroke-width="1"/>
<line x1="243" y1="395.5" x2="246.5" y2="395.5" stroke="#4f5a64" stroke-width="1"/>
<line x1="208" y1="399.5" x2="211.5" y2="399.5" stroke="#4f5a64" stroke-width="1"/>
<line x1="216" y1="399.5" x2="219.5" y2="399.5" stroke="#4f5a64" stroke-width="1"/>
<line x1="224" y1="399.5" x2="227.5" y2="399.5" stroke="#4f5a64" stroke-width="1"/>
<line x1="231" y1="399.5" x2="234.5" y2="399.5" stroke="#4f5a64" stroke-width="1"/>
<line x1="239" y1="399.5" x2="242.5" y2="399.5" stroke="#4f5a64" stroke-width="1"/>
<line x1="246" y1="399.5" x2="249.5" y2="399.5" stroke="#4f5a64" stroke-width="1"/>
<line x1="206" y1="404.5" x2="209.5" y2="404.5" stroke="#4f5a64" stroke-width="1"/>
<line x1="213" y1="404.5" x2="216.5" y2="404.5" stroke="#4f5a64" stroke-width="1"/>
<line x1="221" y1="404.5" x2="224.5" y2="404.5" stroke="#4f5a64" stroke-width="1"/>
<line x1="228" y1="404.5" x2="231.5" y2="404.5" stroke="#4f5a64" stroke-width="1"/>
<line x1="236" y1="404.5" x2="239.5" y2="404.5" stroke="#4f5a64" stroke-width="1"/>
<line x1="243" y1="404.5" x2="246.5" y2="404.5" stroke="#4f5a64" stroke-width="1"/>
<line x1="208" y1="408.5" x2="211.5" y2="408.5" stroke="#4f5a64" stroke-width="1"/>
<line x1="216" y1="408.5" x2="219.5" y2="408.5" stroke="#4f5a64" stroke-width="1"/>
<line x1="224" y1="408.5" x2="227.5" y2="408.5" stroke="#4f5a64" stroke-width="1"/>
<line x1="231" y1="408.5" x2="234.5" y2="408.5" stroke="#4f5a64" stroke-width="1"/>
<line x1="239" y1="408.5" x2="242.5" y2="408.5" stroke="#4f5a64" stroke-width="1"/>
<line x1="246" y1="408.5" x2="249.5" y2="408.5" stroke="#4f5a64" stroke-width="1"/>
<line x1="206" y1="413.5" x2="209.5" y2="413.5" stroke="#4f5a64" stroke-width="1"/>
<line x1="213" y1="413.5" x2="216.5" y2="413.5" stroke="#4f5a64" stroke-width="1"/>
<line x1="221" y1="413.5" x2="224.5" y2="413.5" stroke="#4f5a64" stroke-width="1"/>
<line x1="228" y1="413.5" x2="231.5" y2="413.5" stroke="#4f5a64" stroke-width="1"/>
<line x1="236" y1="413.5" x2="239.5" y2="413.5" stroke="#4f5a64" stroke-width="1"/>
<line x1="243" y1="413.5" x2="246.5" y2="413.5" stroke="#4f5a64" stroke-width="1"/>
<line x1="208" y1="418.5" x2="211.5" y2="418.5" stroke="#4f5a64" stroke-width="1"/>
<line x1="216" y1="418.5" x2="219.5" y2="418.5" stroke="#4f5a64" stroke-width="1"/>
<line x1="224" y1="418.5" x2="227.5" y2="418.5" stroke="#4f5a64" stroke-width="1"/>
<line x1="231" y1="418.5" x2="234.5" y2="418.5" stroke="#4f5a64" stroke-width="1"/>
<line x1="239" y1="418.5" x2="242.5" y2="418.5" stroke="#4f5a64" stroke-width="1"/>
<line x1="246" y1="418.5" x2="249.5" y2="418.5" stroke="#4f5a64" stroke-width="1"/>
<line x1="206" y1="422.5" x2="209.5" y2="422.5" stroke="#4f5a64" stroke-width="1"/>
<line x1="213" y1="422.5" x2="216.5" y2="422.5" stroke="#4f5a64" stroke-width="1"/>
<line x1="221" y1="422.5" x2="224.5" y2="422.5" stroke="#4f5a64" stroke-width="1"/>
<line x1="228" y1="422.5" x2="231.5" y2="422.5" stroke="#4f5a64" stroke-width="1"/>
<line x1="236" y1="422.5" x2="239.5" y2="422.5" stroke="#4f5a64" stroke-width="1"/>
<line x1="243" y1="422.5" x2="246.5" y2="422.5" stroke="#4f5a64" stroke-width="1"/>
<line x1="208" y1="427.5" x2="211.5" y2="427.5" stroke="#4f5a64" stroke-width="1"/>
<line x1="216" y1="427.5" x2="219.5" y2="427.5" stroke="#4f5a64" stroke-width="1"/>
<line x1="224" y1="427.5" x2="227.5" y2="427.5" stroke="#4f5a64" stroke-width="1"/>
<line x1="231" y1="427.5" x2="234.5" y2="427.5" stroke="#4f5a64" stroke-width="1"/>
<line x1="239" y1="427.5" x2="242.5" y2="427.5" stroke="#4f5a64" stroke-width="1"/>
<line x1="246" y1="427.5" x2="249.5" y2="427.5" stroke="#4f5a64" stroke-width="1"/>
<line x1="206" y1="431.5" x2="209.5" y2="431.5" stroke="#4f5a64" stroke-width="1"/>
<line x1="213" y1="431.5" x2="216.5" y2="431.5" stroke="#4f5a64" stroke-width="1"/>
<line x1="221" y1="431.5" x2="224.5" y2="431.5" stroke="#4f5a64" stroke-width="1"/>
<line x1="228" y1="431.5" x2="231.5" y2="431.5" stroke="#4f5a64" stroke-width="1"/>
<line x1="236" y1="431.5" x2="239.5" y2="431.5" stroke="#4f5a64" stroke-width="1"/>
<line x1="243" y1="431.5" x2="246.5" y2="431.5" stroke="#4f5a64" stroke-width="1"/>
<line x1="208" y1="436.5" x2="211.5" y2="436.5" stroke="#4f5a64" stroke-width="1"/>
<line x1="216" y1="436.5" x2="219.5" y2="436.5" stroke="#4f5a64" stroke-width="1"/>
<line x1="224" y1="436.5" x2="227.5" y2="436.5" stroke="#4f5a64" stroke-width="1"/>
<line x1="231" y1="436.5" x2="234.5" y2="436.5" stroke="#4f5a64" stroke-width="1"/>
<line x1="239" y1="436.5" x2="242.5" y2="436.5" stroke="#4f5a64" stroke-width="1"/>
<line x1="246" y1="436.5" x2="249.5" y2="436.5" stroke="#4f5a64" stroke-width="1"/>
<line x1="206" y1="441.5" x2="209.5" y2="441.5" stroke="#4f5a64" stroke-width="1"/>
<line x1="213" y1="441.5" x2="216.5" y2="441.5" stroke="#4f5a64" stroke-width="1"/>
<line x1="221" y1="441.5" x2="224.5" y2="441.5" stroke="#4f5a64" stroke-width="1"/>
<line x1="228" y1="441.5" x2="231.5" y2="441.5" stroke="#4f5a64" stroke-width="1"/>
<line x1="236" y1="441.5" x2="239.5" y2="441.5" stroke="#4f5a64" stroke-width="1"/>
<line x1="243" y1="441.5" x2="246.5" y2="441.5" stroke="#4f5a64" stroke-width="1"/>
<line x1="208" y1="445.5" x2="211.5" y2="445.5" stroke="#4f5a64" stroke-width="1"/>
<line x1="216" y1="445.5" x2="219.5" y2="445.5" stroke="#4f5a64" stroke-width="1"/>
<line x1="224" y1="445.5" x2="227.5" y2="445.5" stroke="#4f5a64" stroke-width="1"/>
<line x1="231" y1="445.5" x2="234.5" y2="445.5" stroke="#4f5a64" stroke-width="1"/>
<line x1="239" y1="445.5" x2="242.5" y2="445.5" stroke="#4f5a64" stroke-width="1"/>
<line x1="246" y1="445.5" x2="249.5" y2="445.5" stroke="#4f5a64" stroke-width="1"/>
<line x1="206" y1="450.5" x2="209.5" y2="450.5" stroke="#4f5a64" stroke-width="1"/>
<line x1="213" y1="450.5" x2="216.5" y2="450.5" stroke="#4f5a64" stroke-width="1"/>
<line x1="221" y1="450.5" x2="224.5" y2="450.5" stroke="#4f5a64" stroke-width="1"/>
<line x1="228" y1="450.5" x2="231.5" y2="450.5" stroke="#4f5a64" stroke-width="1"/>
<line x1="236" y1="450.5" x2="239.5" y2="450.5" stroke="#4f5a64" stroke-width="1"/>
<line x1="243" y1="450.5" x2="246.5" y2="450.5" stroke="#4f5a64" stroke-width="1"/>
<line x1="208" y1="454.5" x2="211.5" y2="454.5" stroke="#4f5a64" stroke-width="1"/>
<line x1="216" y1="454.5" x2="219.5" y2="454.5" stroke="#4f5a64" stroke-width="1"/>
<line x1="224" y1="454.5" x2="227.5" y2="454.5" stroke="#4f5a64" stroke-width="1"/>
<line x1="231" y1="454.5" x2="234.5" y2="454.5" stroke="#4f5a64" stroke-width="1"/>
<line x1="239" y1="454.5" x2="242.5" y2="454.5" stroke="#4f5a64" stroke-width="1"/>
<line x1="246" y1="454.5" x2="249.5" y2="454.5" stroke="#4f5a64" stroke-width="1"/>
<rect x="203.5" y="47" width="47.5" height="6.600000000000001" fill="#f8df8c" stroke="#4a4030" stroke-width="0.8"/>
<polygon points="203.50,61.40 251.00,61.40 251.00,70.08 250.50,70.44 250.00,70.83 249.50,71.18 249.00,71.42 248.50,71.50 248.00,71.42 247.50,71.18 247.00,70.83 246.50,70.44 246.00,70.08 245.50,69.82 245.00,69.70 244.50,69.75 244.00,69.96 243.50,70.29 243.00,70.68 242.50,71.05 242.00,71.34 241.50,71.49 241.00,71.47 240.50,71.29 240.00,70.98 239.50,70.60 239.00,70.22 238.50,69.91 238.00,69.73 237.50,69.71 237.00,69.86 236.50,70.15 236.00,70.52 235.50,70.91 235.00,71.24 234.50,71.45 234.00,71.50 233.50,71.38 233.00,71.12 232.50,70.76 232.00,70.37 231.50,70.02 231.00,69.78 230.50,69.70 230.00,69.78 229.50,70.02 229.00,70.37 228.50,70.76 228.00,71.12 227.50,71.38 227.00,71.50 226.50,71.45 226.00,71.24 225.50,70.91 225.00,70.52 224.50,70.15 224.00,69.86 223.50,69.71 223.00,69.73 222.50,69.91 222.00,70.22 221.50,70.60 221.00,70.98 220.50,71.29 220.00,71.47 219.50,71.49 219.00,71.34 218.50,71.05 218.00,70.68 217.50,70.29 217.00,69.96 216.50,69.75 216.00,69.70 215.50,69.82 215.00,70.08 214.50,70.44 214.00,70.83 213.50,71.18 213.00,71.42 212.50,71.50 212.00,71.42 211.50,71.18 211.00,70.83 210.50,70.44 210.00,70.08 209.50,69.82 209.00,69.70 208.50,69.75 208.00,69.96 207.50,70.29 207.00,70.68 206.50,71.05 206.00,71.34 205.50,71.49 205.00,71.47 204.50,71.29 204.00,70.98 203.50,70.60" fill="#f8df8c" stroke="#4a4030" stroke-width="0.8"/>
<rect x="207" y="49" width="1.2" height="1.2" fill="#111"/>
<rect x="209" y="49" width="1.2" height="1.2" fill="#111"/>
<rect x="214" y="49" width="1.2" height="1.2" fill="#111"/>
<rect x="216" y="49" width="1.2" height="1.2" fill="#111"/>
<rect x="222" y="49" width="1.2" height="1.2" fill="#111"/>
<rect x="224" y="49" width="1.2" height="1.2" fill="#111"/>
<rect x="230" y="49" width="1.2" height="1.2" fill="#111"/>
<rect x="232" y="49" width="1.2" height="1.2" fill="#111"/>
<rect x="237" y="49" width="1.2" height="1.2" fill="#111"/>
<rect x="239" y="49" width="1.2" height="1.2" fill="#111"/>
<rect x="244" y="49" width="1.2" height="1.2" fill="#111"/>
<rect x="246" y="49" width="1.2" height="1.2" fill="#111"/>
<rect x="207" y="65" width="1.2" height="1.2" fill="#111"/>
<rect x="209" y="65" width="1.2" height="1.2" fill="#111"/>
<rect x="214" y="65" width="1.2" height="1.2" fill="#111"/>
<rect x="216" y="65" width="1.2" height="1.2" fill="#111"/>
<rect x="222" y="65" width="1.2" height="1.2" fill="#111"/>
<rect x="224" y="65" width="1.2" height="1.2" fill="#111"/>
<rect x="230" y="65" width="1.2" height="1.2" fill="#111"/>
<rect x="232" y="65" width="1.2" height="1.2" fill="#111"/>
<rect x="237" y="65" width="1.2" height="1.2" fill="#111"/>
<rect x="239" y="65" width="1.2" height="1.2" fill="#111"/>
<rect x="244" y="65" width="1.2" height="1.2" fill="#111"/>
<rect x="246" y="65" width="1.2" height="1.2" fill="#111"/>
<polygon points="203.5,80.6 212.9,80.6 213.9,82.2 226.9,82.2 235.0,88.0 203.5,88.0" fill="#f8df8c" stroke="#4a4030" stroke-width="0.8"/>
<rect x="206" y="84" width="1.2" height="1.2" fill="#111"/>
<rect x="208" y="84" width="1.2" height="1.2" fill="#111"/>
<rect x="214" y="84" width="1.2" height="1.2" fill="#111"/>
<rect x="216" y="84" width="1.2" height="1.2" fill="#111"/>
<rect x="222" y="84" width="1.2" height="1.2" fill="#111"/>
<rect x="224" y="84" width="1.2" height="1.2" fill="#111"/>
<rect x="229" y="84" width="1.2" height="1.2" fill="#111"/>
<rect x="231" y="84" width="1.2" height="1.2" fill="#111"/>
<polygon points="216.6,96.3 237.3,96.3 238.3,94.7 251.0,94.7 251.0,102.0 208.6,102.0" fill="#f8df8c" stroke="#4a4030" stroke-width="0.8"/>
<rect x="212" y="98" width="1.2" height="1.2" fill="#111"/>
<rect x="214" y="98" width="1.2" height="1.2" fill="#111"/>
<rect x="219" y="98" width="1.2" height="1.2" fill="#111"/>
<rect x="221" y="98" width="1.2" height="1.2" fill="#111"/>
<rect x="227" y="98" width="1.2" height="1.2" fill="#111"/>
<rect x="229" y="98" width="1.2" height="1.2" fill="#111"/>
<rect x="234" y="98" width="1.2" height="1.2" fill="#111"/>
<rect x="236" y="98" width="1.2" height="1.2" fill="#111"/>
<rect x="242" y="98" width="1.2" height="1.2" fill="#111"/>
<rect x="244" y="98" width="1.2" height="1.2" fill="#111"/>
<polygon points="203.5,108.8 212.9,108.8 213.9,110.4 227.1,110.4 235.0,116.0 203.5,116.0" fill="#f8df8c" stroke="#4a4030" stroke-width="0.8"/>
<rect x="206" y="112" width="1.2" height="1.2" fill="#111"/>
<rect x="208" y="112" width="1.2" height="1.2" fill="#111"/>
<rect x="214" y="112" width="1.2" height="1.2" fill="#111"/>
<rect x="216" y="112" width="1.2" height="1.2" fill="#111"/>
<rect x="222" y="112" width="1.2" height="1.2" fill="#111"/>
<rect x="224" y="112" width="1.2" height="1.2" fill="#111"/>
<rect x="229" y="112" width="1.2" height="1.2" fill="#111"/>
<rect x="231" y="112" width="1.2" height="1.2" fill="#111"/>
<polygon points="217.0,124.6 237.3,124.6 238.3,123.0 251.0,123.0 251.0,130.6 208.6,130.6" fill="#f8df8c" stroke="#4a4030" stroke-width="0.8"/>
<rect x="212" y="126" width="1.2" height="1.2" fill="#111"/>
<rect x="214" y="126" width="1.2" height="1.2" fill="#111"/>
<rect x="219" y="126" width="1.2" height="1.2" fill="#111"/>
<rect x="221" y="126" width="1.2" height="1.2" fill="#111"/>
<rect x="227" y="126" width="1.2" height="1.2" fill="#111"/>
<rect x="229" y="126" width="1.2" height="1.2" fill="#111"/>
<rect x="234" y="126" width="1.2" height="1.2" fill="#111"/>
<rect x="236" y="126" width="1.2" height="1.2" fill="#111"/>
<rect x="242" y="126" width="1.2" height="1.2" fill="#111"/>
<rect x="244" y="126" width="1.2" height="1.2" fill="#111"/>
<polygon points="203.5,190.2 212.9,190.2 213.9,191.5 230.2,191.5 235.0,194.6 203.5,194.6" fill="#f8df8c" stroke="#4a4030" stroke-width="0.8"/>
<rect x="206" y="192" width="1.2" height="1.2" fill="#111"/>
<rect x="208" y="192" width="1.2" height="1.2" fill="#111"/>
<rect x="214" y="192" width="1.2" height="1.2" fill="#111"/>
<rect x="216" y="192" width="1.2" height="1.2" fill="#111"/>
<rect x="222" y="192" width="1.2" height="1.2" fill="#111"/>
<rect x="224" y="192" width="1.2" height="1.2" fill="#111"/>
<rect x="229" y="192" width="1.2" height="1.2" fill="#111"/>
<rect x="231" y="192" width="1.2" height="1.2" fill="#111"/>
<polygon points="213.4,205.1 237.3,205.1 238.3,203.8 251.0,203.8 251.0,208.2 208.6,208.2" fill="#f8df8c" stroke="#4a4030" stroke-width="0.8"/>
<rect x="212" y="206" width="1.2" height="1.2" fill="#111"/>
<rect x="214" y="206" width="1.2" height="1.2" fill="#111"/>
<rect x="219" y="206" width="1.2" height="1.2" fill="#111"/>
<rect x="221" y="206" width="1.2" height="1.2" fill="#111"/>
<rect x="227" y="206" width="1.2" height="1.2" fill="#111"/>
<rect x="229" y="206" width="1.2" height="1.2" fill="#111"/>
<rect x="234" y="206" width="1.2" height="1.2" fill="#111"/>
<rect x="236" y="206" width="1.2" height="1.2" fill="#111"/>
<rect x="242" y="206" width="1.2" height="1.2" fill="#111"/>
<rect x="244" y="206" width="1.2" height="1.2" fill="#111"/>
<polygon points="216.3,216.3 237.3,216.3 238.3,214.7 251.0,214.7 251.0,221.7 208.6,221.7" fill="#f8df8c" stroke="#4a4030" stroke-width="0.8"/>
<rect x="212" y="218" width="1.2" height="1.2" fill="#111"/>
<rect x="214" y="218" width="1.2" height="1.2" fill="#111"/>
<rect x="219" y="218" width="1.2" height="1.2" fill="#111"/>
<rect x="221" y="218" width="1.2" height="1.2" fill="#111"/>
<rect x="227" y="218" width="1.2" height="1.2" fill="#111"/>
<rect x="229" y="218" width="1.2" height="1.2" fill="#111"/>
<rect x="234" y="218" width="1.2" height="1.2" fill="#111"/>
<rect x="236" y="218" width="1.2" height="1.2" fill="#111"/>
<rect x="242" y="218" width="1.2" height="1.2" fill="#111"/>
<rect x="244" y="218" width="1.2" height="1.2" fill="#111"/>
<polygon points="222.7,232.7 241.3,232.7 245.3,234.5 241.3,236.3 222.7,236.3 218.7,234.5" fill="#f8df8c" stroke="#4a4030" stroke-width="0.8"/>
<rect x="221" y="234" width="1.4" height="1.4" fill="#111"/>
<rect x="224" y="234" width="1.4" height="1.4" fill="#111"/>
<rect x="228" y="234" width="1.4" height="1.4" fill="#111"/>
<rect x="232" y="234" width="1.4" height="1.4" fill="#111"/>
<rect x="235" y="234" width="1.4" height="1.4" fill="#111"/>
<rect x="239" y="234" width="1.4" height="1.4" fill="#111"/>
<rect x="243" y="234" width="1.4" height="1.4" fill="#111"/>
<polygon points="203.5,238.9 210.2,238.9 211.2,240.4 220.2,240.4 225.8,244.0 203.5,244.0" fill="#f8df8c" stroke="#4a4030" stroke-width="0.8"/>
<rect x="206" y="240" width="1.4" height="1.4" fill="#111"/>
<rect x="209" y="240" width="1.4" height="1.4" fill="#111"/>
<rect x="213" y="240" width="1.4" height="1.4" fill="#111"/>
<rect x="217" y="240" width="1.4" height="1.4" fill="#111"/>
<rect x="207" y="242" width="1.4" height="1.4" fill="#111"/>
<rect x="211" y="242" width="1.4" height="1.4" fill="#111"/>
<rect x="214" y="242" width="1.4" height="1.4" fill="#111"/>
<rect x="218" y="242" width="1.4" height="1.4" fill="#111"/>
<rect x="222" y="242" width="1.4" height="1.4" fill="#111"/>
<polygon points="222.9,250.4 239.9,250.4 240.9,248.8 251.0,248.8 251.0,254.0 217.2,254.0" fill="#f8df8c" stroke="#4a4030" stroke-width="0.8"/>
<rect x="223" y="250" width="1.4" height="1.4" fill="#111"/>
<rect x="227" y="250" width="1.4" height="1.4" fill="#111"/>
<rect x="230" y="250" width="1.4" height="1.4" fill="#111"/>
<rect x="234" y="250" width="1.4" height="1.4" fill="#111"/>
<rect x="238" y="250" width="1.4" height="1.4" fill="#111"/>
<rect x="241" y="250" width="1.4" height="1.4" fill="#111"/>
<rect x="245" y="250" width="1.4" height="1.4" fill="#111"/>
<rect x="249" y="250" width="1.4" height="1.4" fill="#111"/>
<rect x="221" y="252" width="1.4" height="1.4" fill="#111"/>
<rect x="224" y="252" width="1.4" height="1.4" fill="#111"/>
<rect x="228" y="252" width="1.4" height="1.4" fill="#111"/>
<rect x="232" y="252" width="1.4" height="1.4" fill="#111"/>
<rect x="236" y="252" width="1.4" height="1.4" fill="#111"/>
<rect x="239" y="252" width="1.4" height="1.4" fill="#111"/>
<rect x="243" y="252" width="1.4" height="1.4" fill="#111"/>
<rect x="247" y="252" width="1.4" height="1.4" fill="#111"/>
<polygon points="221.9,263.1 239.6,263.1 240.6,261.6 251.0,261.6 251.0,266.6 216.4,266.6" fill="#f8df8c" stroke="#4a4030" stroke-width="0.8"/>
<rect x="222" y="263" width="1.4" height="1.4" fill="#111"/>
<rect x="226" y="263" width="1.4" height="1.4" fill="#111"/>
<rect x="229" y="263" width="1.4" height="1.4" fill="#111"/>
<rect x="233" y="263" width="1.4" height="1.4" fill="#111"/>
<rect x="237" y="263" width="1.4" height="1.4" fill="#111"/>
<rect x="241" y="263" width="1.4" height="1.4" fill="#111"/>
<rect x="244" y="263" width="1.4" height="1.4" fill="#111"/>
<rect x="248" y="263" width="1.4" height="1.4" fill="#111"/>
<rect x="220" y="264" width="1.4" height="1.4" fill="#111"/>
<rect x="224" y="264" width="1.4" height="1.4" fill="#111"/>
<rect x="227" y="264" width="1.4" height="1.4" fill="#111"/>
<rect x="231" y="264" width="1.4" height="1.4" fill="#111"/>
<rect x="235" y="264" width="1.4" height="1.4" fill="#111"/>
<rect x="238" y="264" width="1.4" height="1.4" fill="#111"/>
<rect x="242" y="264" width="1.4" height="1.4" fill="#111"/>
<rect x="246" y="264" width="1.4" height="1.4" fill="#111"/>
<polygon points="203.5,271.7 210.2,271.7 211.2,273.3 220.1,273.3 225.8,276.9 203.5,276.9" fill="#f8df8c" stroke="#4a4030" stroke-width="0.8"/>
<rect x="206" y="273" width="1.4" height="1.4" fill="#111"/>
<rect x="209" y="273" width="1.4" height="1.4" fill="#111"/>
<rect x="213" y="273" width="1.4" height="1.4" fill="#111"/>
<rect x="217" y="273" width="1.4" height="1.4" fill="#111"/>
<rect x="207" y="274" width="1.4" height="1.4" fill="#111"/>
<rect x="211" y="274" width="1.4" height="1.4" fill="#111"/>
<rect x="214" y="274" width="1.4" height="1.4" fill="#111"/>
<rect x="218" y="274" width="1.4" height="1.4" fill="#111"/>
<rect x="222" y="274" width="1.4" height="1.4" fill="#111"/>
<polygon points="222.1,288.9 239.6,288.9 240.6,287.3 251.0,287.3 251.0,292.5 216.4,292.5" fill="#f8df8c" stroke="#4a4030" stroke-width="0.8"/>
<rect x="222" y="289" width="1.4" height="1.4" fill="#111"/>
<rect x="226" y="289" width="1.4" height="1.4" fill="#111"/>
<rect x="229" y="289" width="1.4" height="1.4" fill="#111"/>
<rect x="233" y="289" width="1.4" height="1.4" fill="#111"/>
<rect x="237" y="289" width="1.4" height="1.4" fill="#111"/>
<rect x="241" y="289" width="1.4" height="1.4" fill="#111"/>
<rect x="244" y="289" width="1.4" height="1.4" fill="#111"/>
<rect x="248" y="289" width="1.4" height="1.4" fill="#111"/>
<rect x="220" y="290" width="1.4" height="1.4" fill="#111"/>
<rect x="224" y="290" width="1.4" height="1.4" fill="#111"/>
<rect x="227" y="290" width="1.4" height="1.4" fill="#111"/>
<rect x="231" y="290" width="1.4" height="1.4" fill="#111"/>
<rect x="235" y="290" width="1.4" height="1.4" fill="#111"/>
<rect x="238" y="290" width="1.4" height="1.4" fill="#111"/>
<rect x="242" y="290" width="1.4" height="1.4" fill="#111"/>
<rect x="246" y="290" width="1.4" height="1.4" fill="#111"/>
<polygon points="203.5,301.3 211.6,301.3 212.6,302.8 224.9,302.8 230.5,306.4 203.5,306.4" fill="#f8df8c" stroke="#4a4030" stroke-width="0.8"/>
<rect x="205" y="303" width="1.2" height="1.2" fill="#111"/>
<circle cx="210.2" cy="302.8" r="1.2" fill="none" stroke="#333" stroke-width="0.55"/>
<rect x="212" y="303" width="1.2" height="1.2" fill="#111"/>
<rect x="216" y="303" width="1.2" height="1.2" fill="#111"/>
<rect x="224" y="302" width="1.2" height="1.2" fill="#111"/>
<polygon points="224.2,315.4 239.4,315.4 240.4,313.8 251.0,313.8 251.0,321.6 215.6,321.6" fill="#f8df8c" stroke="#4a4030" stroke-width="0.8"/>
<rect x="225" y="316" width="1.2" height="1.2" fill="#111"/>
<rect x="229" y="315" width="1.2" height="1.2" fill="#111"/>
<rect x="232" y="316" width="1.2" height="1.2" fill="#111"/>
<rect x="235" y="316" width="1.2" height="1.2" fill="#111"/>
<circle cx="240.9" cy="315.4" r="1.2" fill="none" stroke="#333" stroke-width="0.55"/>
<circle cx="243.6" cy="315.6" r="1.2" fill="none" stroke="#333" stroke-width="0.55"/>
<rect x="247" y="316" width="1.2" height="1.2" fill="#111"/>
<rect x="220" y="318" width="1.2" height="1.2" fill="#111"/>
<rect x="222" y="319" width="1.2" height="1.2" fill="#111"/>
<rect x="226" y="318" width="1.2" height="1.2" fill="#111"/>
<rect x="231" y="318" width="1.2" height="1.2" fill="#111"/>
<rect x="235" y="318" width="1.2" height="1.2" fill="#111"/>
<rect x="238" y="318" width="1.2" height="1.2" fill="#111"/>
<rect x="243" y="318" width="1.2" height="1.2" fill="#111"/>
<circle cx="246.6" cy="318.6" r="1.2" fill="none" stroke="#333" stroke-width="0.55"/>
<polygon points="222.1,333.0 239.6,333.0 240.6,331.4 251.0,331.4 251.0,336.6 216.4,336.6" fill="#f8df8c" stroke="#4a4030" stroke-width="0.8"/>
<rect x="222" y="333" width="1.4" height="1.4" fill="#111"/>
<rect x="226" y="333" width="1.4" height="1.4" fill="#111"/>
<rect x="229" y="333" width="1.4" height="1.4" fill="#111"/>
<rect x="233" y="333" width="1.4" height="1.4" fill="#111"/>
<rect x="237" y="333" width="1.4" height="1.4" fill="#111"/>
<rect x="241" y="333" width="1.4" height="1.4" fill="#111"/>
<rect x="244" y="333" width="1.4" height="1.4" fill="#111"/>
<rect x="248" y="333" width="1.4" height="1.4" fill="#111"/>
<rect x="220" y="334" width="1.4" height="1.4" fill="#111"/>
<rect x="224" y="334" width="1.4" height="1.4" fill="#111"/>
<rect x="227" y="334" width="1.4" height="1.4" fill="#111"/>
<rect x="231" y="334" width="1.4" height="1.4" fill="#111"/>
<rect x="235" y="334" width="1.4" height="1.4" fill="#111"/>
<rect x="238" y="334" width="1.4" height="1.4" fill="#111"/>
<rect x="242" y="334" width="1.4" height="1.4" fill="#111"/>
<rect x="246" y="334" width="1.4" height="1.4" fill="#111"/>
<polygon points="203.5,342.3 213.0,342.3 214.0,343.9 223.1,343.9 235.2,353.3 203.5,353.3" fill="#f8df8c" stroke="#4a4030" stroke-width="0.8"/>
<rect x="205" y="344" width="1.2" height="1.2" fill="#111"/>
<rect x="208" y="344" width="1.2" height="1.2" fill="#111"/>
<rect x="213" y="344" width="1.2" height="1.2" fill="#111"/>
<circle cx="216.5" cy="344.5" r="1.2" fill="none" stroke="#333" stroke-width="0.55"/>
<rect x="220" y="344" width="1.2" height="1.2" fill="#111"/>
<rect x="207" y="347" width="1.2" height="1.2" fill="#111"/>
<rect x="210" y="347" width="1.2" height="1.2" fill="#111"/>
<circle cx="215.0" cy="347.0" r="1.2" fill="none" stroke="#333" stroke-width="0.55"/>
<rect x="219" y="346" width="1.2" height="1.2" fill="#111"/>
<circle cx="222.9" cy="347.3" r="1.2" fill="none" stroke="#333" stroke-width="0.55"/>
<rect x="225" y="346" width="1.2" height="1.2" fill="#111"/>
<rect x="205" y="350" width="1.2" height="1.2" fill="#111"/>
<rect x="208" y="349" width="1.2" height="1.2" fill="#111"/>
<rect x="212" y="349" width="1.2" height="1.2" fill="#111"/>
<rect x="216" y="350" width="1.2" height="1.2" fill="#111"/>
<circle cx="221.1" cy="349.6" r="1.2" fill="none" stroke="#333" stroke-width="0.55"/>
<rect x="225" y="349" width="1.2" height="1.2" fill="#111"/>
<circle cx="227.8" cy="349.9" r="1.2" fill="none" stroke="#333" stroke-width="0.55"/>
<polygon points="216.9,361.1 237.5,361.1 238.5,359.5 251.0,359.5 251.0,366.3 209.4,366.3" fill="#f8df8c" stroke="#4a4030" stroke-width="0.8"/>
<rect x="219" y="361" width="1.2" height="1.2" fill="#111"/>
<rect x="222" y="361" width="1.2" height="1.2" fill="#111"/>
<rect x="227" y="361" width="1.2" height="1.2" fill="#111"/>
<rect x="234" y="361" width="1.2" height="1.2" fill="#111"/>
<rect x="238" y="361" width="1.2" height="1.2" fill="#111"/>
<rect x="241" y="361" width="1.2" height="1.2" fill="#111"/>
<rect x="246" y="361" width="1.2" height="1.2" fill="#111"/>
<rect x="217" y="364" width="1.2" height="1.2" fill="#111"/>
<circle cx="220.2" cy="364.9" r="1.2" fill="none" stroke="#333" stroke-width="0.55"/>
<circle cx="224.3" cy="364.8" r="1.2" fill="none" stroke="#333" stroke-width="0.55"/>
<rect x="228" y="363" width="1.2" height="1.2" fill="#111"/>
<rect x="232" y="364" width="1.2" height="1.2" fill="#111"/>
<rect x="235" y="364" width="1.2" height="1.2" fill="#111"/>
<rect x="239" y="364" width="1.2" height="1.2" fill="#111"/>
<rect x="244" y="363" width="1.2" height="1.2" fill="#111"/>
<circle cx="248.0" cy="364.4" r="1.2" fill="none" stroke="#333" stroke-width="0.55"/>
<polygon points="218.9,375.0 238.0,375.0 239.0,373.4 251.0,373.4 251.0,380.6 211.0,380.6" fill="#f8df8c" stroke="#4a4030" stroke-width="0.8"/>
<rect x="220" y="375" width="1.2" height="1.2" fill="#111"/>
<circle cx="223.6" cy="375.9" r="1.2" fill="none" stroke="#333" stroke-width="0.55"/>
<circle cx="227.7" cy="375.6" r="1.2" fill="none" stroke="#333" stroke-width="0.55"/>
<rect x="231" y="375" width="1.2" height="1.2" fill="#111"/>
<rect x="236" y="375" width="1.2" height="1.2" fill="#111"/>
<circle cx="239.4" cy="376.0" r="1.2" fill="none" stroke="#333" stroke-width="0.55"/>
<rect x="243" y="375" width="1.2" height="1.2" fill="#111"/>
<rect x="247" y="374" width="1.2" height="1.2" fill="#111"/>
<rect x="215" y="378" width="1.2" height="1.2" fill="#111"/>
<rect x="218" y="378" width="1.2" height="1.2" fill="#111"/>
<rect x="223" y="378" width="1.2" height="1.2" fill="#111"/>
<rect x="226" y="378" width="1.2" height="1.2" fill="#111"/>
<rect x="230" y="378" width="1.2" height="1.2" fill="#111"/>
<rect x="233" y="378" width="1.2" height="1.2" fill="#111"/>
<circle cx="237.0" cy="378.7" r="1.2" fill="none" stroke="#333" stroke-width="0.55"/>
<rect x="241" y="377" width="1.2" height="1.2" fill="#111"/>
<rect x="245" y="378" width="1.2" height="1.2" fill="#111"/>
<polygon points="203.5,384.8 212.9,384.8 213.9,386.4 222.9,386.4 235.0,395.8 203.5,395.8" fill="#f8df8c" stroke="#4a4030" stroke-width="0.8"/>
<rect x="204" y="386" width="1.2" height="1.2" fill="#111"/>
<rect x="208" y="387" width="1.2" height="1.2" fill="#111"/>
<rect x="213" y="386" width="1.2" height="1.2" fill="#111"/>
<circle cx="217.2" cy="387.4" r="1.2" fill="none" stroke="#333" stroke-width="0.55"/>
<rect x="220" y="387" width="1.2" height="1.2" fill="#111"/>
<rect x="206" y="390" width="1.2" height="1.2" fill="#111"/>
<circle cx="211.7" cy="389.4" r="1.2" fill="none" stroke="#333" stroke-width="0.55"/>
<rect x="215" y="390" width="1.2" height="1.2" fill="#111"/>
<circle cx="219.3" cy="389.9" r="1.2" fill="none" stroke="#333" stroke-width="0.55"/>
<rect x="222" y="389" width="1.2" height="1.2" fill="#111"/>
<rect x="225" y="389" width="1.2" height="1.2" fill="#111"/>
<circle cx="205.0" cy="393.0" r="1.2" fill="none" stroke="#333" stroke-width="0.55"/>
<circle cx="209.0" cy="392.2" r="1.2" fill="none" stroke="#333" stroke-width="0.55"/>
<rect x="213" y="392" width="1.2" height="1.2" fill="#111"/>
<rect x="216" y="392" width="1.2" height="1.2" fill="#111"/>
<rect x="221" y="392" width="1.2" height="1.2" fill="#111"/>
<circle cx="223.8" cy="392.6" r="1.2" fill="none" stroke="#333" stroke-width="0.55"/>
<circle cx="228.3" cy="392.5" r="1.2" fill="none" stroke="#333" stroke-width="0.55"/>
<polygon points="215.8,405.2 237.5,405.2 238.5,403.6 251.0,403.6 251.0,409.4 209.4,409.4" fill="#f8df8c" stroke="#4a4030" stroke-width="0.8"/>
<rect x="215" y="406" width="1.2" height="1.2" fill="#111"/>
<circle cx="218.7" cy="405.3" r="1.2" fill="none" stroke="#333" stroke-width="0.55"/>
<circle cx="222.6" cy="405.7" r="1.2" fill="none" stroke="#333" stroke-width="0.55"/>
<rect x="227" y="405" width="1.2" height="1.2" fill="#111"/>
<circle cx="237.8" cy="405.6" r="1.2" fill="none" stroke="#333" stroke-width="0.55"/>
<rect x="241" y="405" width="1.2" height="1.2" fill="#111"/>
<rect x="245" y="405" width="1.2" height="1.2" fill="#111"/>
<polygon points="203.5,417.2 211.8,417.2 212.8,418.1 227.9,418.1 231.3,420.3 203.5,420.3" fill="#f8df8c" stroke="#4a4030" stroke-width="0.8"/>
<rect x="206" y="418" width="1.4" height="1.4" fill="#111"/>
<rect x="209" y="418" width="1.4" height="1.4" fill="#111"/>
<rect x="213" y="418" width="1.4" height="1.4" fill="#111"/>
<rect x="217" y="418" width="1.4" height="1.4" fill="#111"/>
<rect x="220" y="418" width="1.4" height="1.4" fill="#111"/>
<rect x="224" y="418" width="1.4" height="1.4" fill="#111"/>
<rect x="228" y="418" width="1.4" height="1.4" fill="#111"/>
<polygon points="203.5,432.8 212.9,432.8 213.9,434.4 222.9,434.4 235.0,443.8 203.5,443.8" fill="#f8df8c" stroke="#4a4030" stroke-width="0.8"/>
<rect x="205" y="434" width="1.2" height="1.2" fill="#111"/>
<rect x="209" y="435" width="1.2" height="1.2" fill="#111"/>
<circle cx="212.9" cy="435.3" r="1.2" fill="none" stroke="#333" stroke-width="0.55"/>
<rect x="219" y="435" width="1.2" height="1.2" fill="#111"/>
<circle cx="207.9" cy="437.6" r="1.2" fill="none" stroke="#333" stroke-width="0.55"/>
<rect x="211" y="438" width="1.2" height="1.2" fill="#111"/>
<circle cx="215.2" cy="437.4" r="1.2" fill="none" stroke="#333" stroke-width="0.55"/>
<rect x="218" y="437" width="1.2" height="1.2" fill="#111"/>
<rect x="222" y="438" width="1.2" height="1.2" fill="#111"/>
<rect x="205" y="441" width="1.2" height="1.2" fill="#111"/>
<rect x="209" y="440" width="1.2" height="1.2" fill="#111"/>
<rect x="213" y="440" width="1.2" height="1.2" fill="#111"/>
<rect x="217" y="440" width="1.2" height="1.2" fill="#111"/>
<rect x="219" y="440" width="1.2" height="1.2" fill="#111"/>
<rect x="224" y="440" width="1.2" height="1.2" fill="#111"/>
<rect x="228" y="441" width="1.2" height="1.2" fill="#111"/>
<polygon points="215.4,452.9 237.3,452.9 238.3,451.3 251.0,451.3 251.0,457.5 208.6,457.5" fill="#f8df8c" stroke="#4a4030" stroke-width="0.8"/>
<rect x="218" y="453" width="1.2" height="1.2" fill="#111"/>
<rect x="222" y="453" width="1.2" height="1.2" fill="#111"/>
<rect x="224" y="453" width="1.2" height="1.2" fill="#111"/>
<circle cx="229.2" cy="453.1" r="1.2" fill="none" stroke="#333" stroke-width="0.55"/>
<circle cx="232.5" cy="453.3" r="1.2" fill="none" stroke="#333" stroke-width="0.55"/>
<rect x="237" y="453" width="1.2" height="1.2" fill="#111"/>
<rect x="241" y="453" width="1.2" height="1.2" fill="#111"/>
<rect x="245" y="453" width="1.2" height="1.2" fill="#111"/>
<rect x="248" y="452" width="1.2" height="1.2" fill="#111"/>
<rect x="212" y="455" width="1.2" height="1.2" fill="#111"/>
<circle cx="216.5" cy="456.1" r="1.2" fill="none" stroke="#333" stroke-width="0.55"/>
<rect x="219" y="456" width="1.2" height="1.2" fill="#111"/>
<rect x="224" y="456" width="1.2" height="1.2" fill="#111"/>
<rect x="226" y="456" width="1.2" height="1.2" fill="#111"/>
<rect x="232" y="455" width="1.2" height="1.2" fill="#111"/>
<circle cx="235.6" cy="455.8" r="1.2" fill="none" stroke="#333" stroke-width="0.55"/>
<rect x="238" y="456" width="1.2" height="1.2" fill="#111"/>
<rect x="243" y="455" width="1.2" height="1.2" fill="#111"/>
<rect x="247" y="455" width="1.2" height="1.2" fill="#111"/>
<rect x="203.5" y="134" width="47.5" height="8.800000000000011" fill="#f8df8c" stroke="#4a4030" stroke-width="0.8"/>
<rect x="203.5" y="151.4" width="47.5" height="12.599999999999994" fill="#f8df8c" stroke="#4a4030" stroke-width="0.8"/>
<rect x="203.5" y="164" width="47.5" height="7" fill="#b7976b" stroke="#4a4030" stroke-width="0.8"/>
<polygon points="203.50,171.00 251.00,171.00 251.00,179.28 250.50,179.64 250.00,180.03 249.50,180.38 249.00,180.62 248.50,180.70 248.00,180.62 247.50,180.38 247.00,180.03 246.50,179.64 246.00,179.28 245.50,179.02 245.00,178.90 244.50,178.95 244.00,179.16 243.50,179.49 243.00,179.88 242.50,180.25 242.00,180.54 241.50,180.69 241.00,180.67 240.50,180.49 240.00,180.18 239.50,179.80 239.00,179.42 238.50,179.11 238.00,178.93 237.50,178.91 237.00,179.06 236.50,179.35 236.00,179.72 235.50,180.11 235.00,180.44 234.50,180.65 234.00,180.70 233.50,180.58 233.00,180.32 232.50,179.96 232.00,179.57 231.50,179.22 231.00,178.98 230.50,178.90 230.00,178.98 229.50,179.22 229.00,179.57 228.50,179.96 228.00,180.32 227.50,180.58 227.00,180.70 226.50,180.65 226.00,180.44 225.50,180.11 225.00,179.72 224.50,179.35 224.00,179.06 223.50,178.91 223.00,178.93 222.50,179.11 222.00,179.42 221.50,179.80 221.00,180.18 220.50,180.49 220.00,180.67 219.50,180.69 219.00,180.54 218.50,180.25 218.00,179.88 217.50,179.49 217.00,179.16 216.50,178.95 216.00,178.90 215.50,179.02 215.00,179.28 214.50,179.64 214.00,180.03 213.50,180.38 213.00,180.62 212.50,180.70 212.00,180.62 211.50,180.38 211.00,180.03 210.50,179.64 210.00,179.28 209.50,179.02 209.00,178.90 208.50,178.95 208.00,179.16 207.50,179.49 207.00,179.88 206.50,180.25 206.00,180.54 205.50,180.69 205.00,180.67 204.50,180.49 204.00,180.18 203.50,179.80" fill="#f8df8c" stroke="#4a4030" stroke-width="0.8"/>
<rect x="205" y="135" width="1.2" height="1.2" fill="#111"/>
<rect x="209" y="136" width="1.2" height="1.2" fill="#111"/>
<rect x="213" y="136" width="1.2" height="1.2" fill="#111"/>
<rect x="216" y="136" width="1.2" height="1.2" fill="#111"/>
<rect x="221" y="135" width="1.2" height="1.2" fill="#111"/>
<rect x="225" y="136" width="1.2" height="1.2" fill="#111"/>
<rect x="229" y="135" width="1.2" height="1.2" fill="#111"/>
<rect x="231" y="136" width="1.2" height="1.2" fill="#111"/>
<rect x="235" y="135" width="1.2" height="1.2" fill="#111"/>
<rect x="239" y="135" width="1.2" height="1.2" fill="#111"/>
<rect x="242" y="136" width="1.2" height="1.2" fill="#111"/>
<rect x="248" y="135" width="1.2" height="1.2" fill="#111"/>
<rect x="207" y="139" width="1.2" height="1.2" fill="#111"/>
<rect x="211" y="138" width="1.2" height="1.2" fill="#111"/>
<rect x="214" y="139" width="1.2" height="1.2" fill="#111"/>
<rect x="219" y="139" width="1.2" height="1.2" fill="#111"/>
<rect x="222" y="138" width="1.2" height="1.2" fill="#111"/>
<rect x="225" y="138" width="1.2" height="1.2" fill="#111"/>
<rect x="230" y="138" width="1.2" height="1.2" fill="#111"/>
<rect x="234" y="139" width="1.2" height="1.2" fill="#111"/>
<rect x="237" y="139" width="1.2" height="1.2" fill="#111"/>
<rect x="241" y="139" width="1.2" height="1.2" fill="#111"/>
<rect x="245" y="139" width="1.2" height="1.2" fill="#111"/>
<rect x="204" y="153" width="1.2" height="1.2" fill="#111"/>
<rect x="210" y="153" width="1.2" height="1.2" fill="#111"/>
<circle cx="213.7" cy="153.9" r="1.2" fill="none" stroke="#333" stroke-width="0.55"/>
<rect x="217" y="152" width="1.2" height="1.2" fill="#111"/>
<circle cx="221.6" cy="153.5" r="1.2" fill="none" stroke="#333" stroke-width="0.55"/>
<circle cx="224.3" cy="153.8" r="1.2" fill="none" stroke="#333" stroke-width="0.55"/>
<rect x="227" y="153" width="1.2" height="1.2" fill="#111"/>
<rect x="232" y="154" width="1.2" height="1.2" fill="#111"/>
<rect x="236" y="154" width="1.2" height="1.2" fill="#111"/>
<circle cx="238.9" cy="153.1" r="1.2" fill="none" stroke="#333" stroke-width="0.55"/>
<rect x="244" y="152" width="1.2" height="1.2" fill="#111"/>
<rect x="247" y="153" width="1.2" height="1.2" fill="#111"/>
<rect x="207" y="155" width="1.2" height="1.2" fill="#111"/>
<rect x="211" y="156" width="1.2" height="1.2" fill="#111"/>
<circle cx="214.5" cy="156.3" r="1.2" fill="none" stroke="#333" stroke-width="0.55"/>
<rect x="217" y="156" width="1.2" height="1.2" fill="#111"/>
<rect x="221" y="156" width="1.2" height="1.2" fill="#111"/>
<circle cx="226.8" cy="156.8" r="1.2" fill="none" stroke="#333" stroke-width="0.55"/>
<rect x="229" y="156" width="1.2" height="1.2" fill="#111"/>
<rect x="233" y="156" width="1.2" height="1.2" fill="#111"/>
<rect x="238" y="156" width="1.2" height="1.2" fill="#111"/>
<rect x="241" y="156" width="1.2" height="1.2" fill="#111"/>
<rect x="245" y="156" width="1.2" height="1.2" fill="#111"/>
<rect x="206" y="159" width="1.2" height="1.2" fill="#111"/>
<rect x="208" y="158" width="1.2" height="1.2" fill="#111"/>
<rect x="214" y="158" width="1.2" height="1.2" fill="#111"/>
<rect x="217" y="159" width="1.2" height="1.2" fill="#111"/>
<rect x="221" y="158" width="1.2" height="1.2" fill="#111"/>
<rect x="224" y="159" width="1.2" height="1.2" fill="#111"/>
<rect x="228" y="158" width="1.2" height="1.2" fill="#111"/>
<rect x="231" y="158" width="1.2" height="1.2" fill="#111"/>
<rect x="236" y="159" width="1.2" height="1.2" fill="#111"/>
<rect x="240" y="158" width="1.2" height="1.2" fill="#111"/>
<circle cx="242.9" cy="158.7" r="1.2" fill="none" stroke="#333" stroke-width="0.55"/>
<rect x="247" y="159" width="1.2" height="1.2" fill="#111"/>
<rect x="207" y="161" width="1.2" height="1.2" fill="#111"/>
<rect x="211" y="162" width="1.2" height="1.2" fill="#111"/>
<circle cx="215.5" cy="162.6" r="1.2" fill="none" stroke="#333" stroke-width="0.55"/>
<rect x="219" y="161" width="1.2" height="1.2" fill="#111"/>
<rect x="223" y="162" width="1.2" height="1.2" fill="#111"/>
<rect x="227" y="161" width="1.2" height="1.2" fill="#111"/>
<rect x="229" y="162" width="1.2" height="1.2" fill="#111"/>
<rect x="234" y="161" width="1.2" height="1.2" fill="#111"/>
<rect x="238" y="161" width="1.2" height="1.2" fill="#111"/>
<circle cx="241.9" cy="161.8" r="1.2" fill="none" stroke="#333" stroke-width="0.55"/>
<rect x="244" y="162" width="1.2" height="1.2" fill="#111"/>
<rect x="206" y="172" width="1.2" height="1.2" fill="#111"/>
<rect x="208" y="172" width="1.2" height="1.2" fill="#111"/>
<rect x="212" y="172" width="1.2" height="1.2" fill="#111"/>
<circle cx="217.8" cy="173.0" r="1.2" fill="none" stroke="#333" stroke-width="0.55"/>
<rect x="220" y="172" width="1.2" height="1.2" fill="#111"/>
<circle cx="225.3" cy="172.9" r="1.2" fill="none" stroke="#333" stroke-width="0.55"/>
<rect x="228" y="172" width="1.2" height="1.2" fill="#111"/>
<rect x="232" y="172" width="1.2" height="1.2" fill="#111"/>
<circle cx="235.8" cy="172.6" r="1.2" fill="none" stroke="#333" stroke-width="0.55"/>
<rect x="240" y="173" width="1.2" height="1.2" fill="#111"/>
<rect x="242" y="173" width="1.2" height="1.2" fill="#111"/>
<rect x="247" y="173" width="1.2" height="1.2" fill="#111"/>
<circle cx="206.4" cy="175.8" r="1.2" fill="none" stroke="#333" stroke-width="0.55"/>
<rect x="211" y="175" width="1.2" height="1.2" fill="#111"/>
<rect x="215" y="175" width="1.2" height="1.2" fill="#111"/>
<rect x="219" y="175" width="1.2" height="1.2" fill="#111"/>
<circle cx="222.3" cy="175.6" r="1.2" fill="none" stroke="#333" stroke-width="0.55"/>
<rect x="226" y="175" width="1.2" height="1.2" fill="#111"/>
<rect x="229" y="176" width="1.2" height="1.2" fill="#111"/>
<circle cx="233.6" cy="176.3" r="1.2" fill="none" stroke="#333" stroke-width="0.55"/>
<rect x="238" y="176" width="1.2" height="1.2" fill="#111"/>
<rect x="242" y="175" width="1.2" height="1.2" fill="#111"/>
<circle cx="245.5" cy="175.4" r="1.2" fill="none" stroke="#333" stroke-width="0.55"/>
<circle cx="205.9" cy="178.4" r="1.2" fill="none" stroke="#333" stroke-width="0.55"/>
<rect x="208" y="178" width="1.2" height="1.2" fill="#111"/>
<rect x="212" y="178" width="1.2" height="1.2" fill="#111"/>
<circle cx="217.6" cy="178.4" r="1.2" fill="none" stroke="#333" stroke-width="0.55"/>
<circle cx="220.0" cy="179.3" r="1.2" fill="none" stroke="#333" stroke-width="0.55"/>
<rect x="223" y="179" width="1.2" height="1.2" fill="#111"/>
<rect x="229" y="179" width="1.2" height="1.2" fill="#111"/>
<rect x="231" y="179" width="1.2" height="1.2" fill="#111"/>
<rect x="235" y="179" width="1.2" height="1.2" fill="#111"/>
<rect x="239" y="178" width="1.2" height="1.2" fill="#111"/>
<rect x="242" y="179" width="1.2" height="1.2" fill="#111"/>
<rect x="247" y="178" width="1.2" height="1.2" fill="#111"/>
<clipPath id="cv1"><rect x="203.5" y="164" width="47.5" height="7"/></clipPath>
<g clip-path="url(#cv1)">
<line x1="198.5" y1="171" x2="202.5" y2="164" stroke="#333" stroke-width="1"/>
<line x1="203.9" y1="171" x2="207.9" y2="164" stroke="#333" stroke-width="1"/>
<line x1="209.3" y1="171" x2="213.3" y2="164" stroke="#333" stroke-width="1"/>
<line x1="214.7" y1="171" x2="218.7" y2="164" stroke="#333" stroke-width="1"/>
<line x1="220.1" y1="171" x2="224.1" y2="164" stroke="#333" stroke-width="1"/>
<line x1="225.5" y1="171" x2="229.5" y2="164" stroke="#333" stroke-width="1"/>
<line x1="230.9" y1="171" x2="234.9" y2="164" stroke="#333" stroke-width="1"/>
<line x1="236.3" y1="171" x2="240.3" y2="164" stroke="#333" stroke-width="1"/>
<line x1="241.7" y1="171" x2="245.7" y2="164" stroke="#333" stroke-width="1"/>
<line x1="247.1" y1="171" x2="251.1" y2="164" stroke="#333" stroke-width="1"/>
<line x1="252.5" y1="171" x2="256.5" y2="164" stroke="#333" stroke-width="1"/>
</g>
<rect x="2.5" y="2.5" width="402.0" height="530.5" fill="none" stroke="#4e4e4e" stroke-width="1"/>
<line x1="2.5" y1="47" x2="404.5" y2="47" stroke="#4e4e4e" stroke-width="1"/>
<line x1="44.5" y1="19" x2="137.9" y2="19" stroke="#4e4e4e" stroke-width="1"/>
<line x1="22.5" y1="2.5" x2="22.5" y2="47" stroke="#4e4e4e" stroke-width="1"/>
<line x1="22.5" y1="73" x2="22.5" y2="533" stroke="#4e4e4e" stroke-width="1"/>
<line x1="44.5" y1="2.5" x2="44.5" y2="533" stroke="#4e4e4e" stroke-width="1"/>
<line x1="74" y1="19" x2="74" y2="47" stroke="#4e4e4e" stroke-width="1"/>
<line x1="74" y1="222" x2="74" y2="533" stroke="#4e4e4e" stroke-width="1"/>
<line x1="103" y1="19" x2="103" y2="533" stroke="#4e4e4e" stroke-width="1"/>
<line x1="137.9" y1="2.5" x2="137.9" y2="458" stroke="#4e4e4e" stroke-width="1"/>
<line x1="163.8" y1="2.5" x2="163.8" y2="458" stroke="#4e4e4e" stroke-width="1"/>
<line x1="203.5" y1="2.5" x2="203.5" y2="458" stroke="#4e4e4e" stroke-width="1"/>
<line x1="251" y1="2.5" x2="251" y2="458" stroke="#4e4e4e" stroke-width="1"/>
<line x1="313" y1="2.5" x2="313" y2="458" stroke="#4e4e4e" stroke-width="1"/>
<line x1="335.5" y1="2.5" x2="335.5" y2="458" stroke="#4e4e4e" stroke-width="1"/>
<line x1="358.5" y1="2.5" x2="358.5" y2="458" stroke="#4e4e4e" stroke-width="1"/>
<line x1="373.5" y1="2.5" x2="373.5" y2="458" stroke="#4e4e4e" stroke-width="1"/>
<line x1="389" y1="181" x2="389" y2="458" stroke="#4e4e4e" stroke-width="1"/>
<line x1="2.5" y1="73" x2="44.5" y2="73" stroke="#4e4e4e" stroke-width="1"/>
<polyline points="44.50,73.00 45.00,73.43 45.50,73.82 46.01,74.12 46.51,74.30 47.01,74.35 47.51,74.25 48.02,74.03 48.52,73.69 49.02,73.29 49.52,72.85 50.02,72.43 50.53,72.07 51.03,71.80 51.53,71.67 52.03,71.67 52.53,71.81 53.04,72.08 53.54,72.44 54.04,72.86 54.54,73.30 55.05,73.70 55.55,74.03 56.05,74.26 56.55,74.35 57.05,74.30 57.56,74.11 58.06,73.81 58.56,73.42 59.06,72.99 59.56,72.56 60.07,72.17 60.57,71.88 61.07,71.70 61.57,71.65 62.08,71.75 62.58,71.98 63.08,72.32 63.58,72.72 64.08,73.16 64.59,73.58 65.09,73.94 65.59,74.20 66.09,74.33 66.59,74.33 67.10,74.18 67.60,73.92 68.10,73.55 68.60,73.13 69.11,72.69 69.61,72.29 70.11,71.96 70.61,71.74 71.11,71.65 71.62,71.70 72.12,71.89 72.62,72.20 73.12,72.59 73.62,73.02 74.13,73.45 74.63,73.83 75.13,74.13 75.63,74.31 76.14,74.35 76.64,74.25 77.14,74.01 77.64,73.67 78.14,73.27 78.65,72.83 79.15,72.41 79.65,72.05 80.15,71.80 80.65,71.66 81.16,71.67 81.66,71.82 82.16,72.09 82.66,72.46 83.17,72.88 83.67,73.32 84.17,73.72 84.67,74.05 85.17,74.26 85.68,74.35 86.18,74.29 86.68,74.10 87.18,73.79 87.68,73.40 88.19,72.97 88.69,72.54 89.19,72.16 89.69,71.86 90.20,71.69 90.70,71.65 91.20,71.76 91.70,71.99 92.20,72.33 92.71,72.74 93.21,73.18 93.71,73.60 94.21,73.95 94.72,74.21 95.22,74.34 95.72,74.33 96.22,74.17 96.72,73.90 97.23,73.53 97.73,73.11 98.23,72.67 98.73,72.27 99.23,71.95 99.74,71.73 100.24,71.65 100.74,71.71 101.24,71.91 101.75,72.22 102.25,72.61 102.75,73.04 103.25,73.47 103.75,73.85 104.26,74.14 104.76,74.31 105.26,74.34 105.76,74.24 106.26,74.00 106.77,73.66 107.27,73.24 107.77,72.81 108.27,72.39 108.78,72.04 109.28,71.79 109.78,71.66 110.28,71.68 110.78,71.83 111.29,72.11 111.79,72.48 112.29,72.90 112.79,73.34 113.29,73.74 113.80,74.06 114.30,74.27 114.80,74.35 115.30,74.29 115.81,74.09 116.31,73.77 116.81,73.38 117.31,72.95 117.81,72.52 118.32,72.14 118.82,71.85 119.32,71.69 119.82,71.66 120.32,71.77 120.83,72.01 121.33,72.35 121.83,72.77 122.33,73.20 122.84,73.62 123.34,73.97 123.84,74.22 124.34,74.34 124.84,74.32 125.35,74.16 125.85,73.88 126.35,73.51 126.85,73.09 127.35,72.65 127.86,72.25 128.36,71.93 128.86,71.72 129.36,71.65 129.87,71.72 130.37,71.92 130.87,72.23 131.37,72.63 131.87,73.06 132.38,73.49 132.88,73.87 133.38,74.15 133.88,74.32 134.38,74.34 134.89,74.23 135.39,73.98 135.89,73.64 136.39,73.22 136.90,72.79 137.40,72.37 137.90,72.02" fill="none" stroke="#4e4e4e" stroke-width="1"/>
<line x1="163.8" y1="73" x2="203.5" y2="73" stroke="#4e4e4e" stroke-width="1"/>
<line x1="251" y1="73" x2="313" y2="73" stroke="#4e4e4e" stroke-width="1"/>
<line x1="22.5" y1="126.5" x2="44.5" y2="126.5" stroke="#4e4e4e" stroke-width="1"/>
<line x1="44.5" y1="134" x2="137.9" y2="134" stroke="#4e4e4e" stroke-width="1"/>
<line x1="163.8" y1="134" x2="203.5" y2="134" stroke="#4e4e4e" stroke-width="1"/>
<line x1="251" y1="134" x2="313" y2="134" stroke="#4e4e4e" stroke-width="1"/>
<line x1="2.5" y1="181" x2="44.5" y2="181" stroke="#4e4e4e" stroke-width="1"/>
<polyline points="44.50,181.00 45.00,181.43 45.50,181.82 46.01,182.12 46.51,182.30 47.01,182.35 47.51,182.25 48.02,182.03 48.52,181.69 49.02,181.29 49.52,180.85 50.02,180.43 50.53,180.07 51.03,179.80 51.53,179.67 52.03,179.67 52.53,179.81 53.04,180.08 53.54,180.44 54.04,180.86 54.54,181.30 55.05,181.70 55.55,182.03 56.05,182.26 56.55,182.35 57.05,182.30 57.56,182.11 58.06,181.81 58.56,181.42 59.06,180.99 59.56,180.56 60.07,180.17 60.57,179.88 61.07,179.70 61.57,179.65 62.08,179.75 62.58,179.98 63.08,180.32 63.58,180.72 64.08,181.16 64.59,181.58 65.09,181.94 65.59,182.20 66.09,182.33 66.59,182.33 67.10,182.18 67.60,181.92 68.10,181.55 68.60,181.13 69.11,180.69 69.61,180.29 70.11,179.96 70.61,179.74 71.11,179.65 71.62,179.70 72.12,179.89 72.62,180.20 73.12,180.59 73.62,181.02 74.13,181.45 74.63,181.83 75.13,182.13 75.63,182.31 76.14,182.35 76.64,182.25 77.14,182.01 77.64,181.67 78.14,181.27 78.65,180.83 79.15,180.41 79.65,180.05 80.15,179.80 80.65,179.66 81.16,179.67 81.66,179.82 82.16,180.09 82.66,180.46 83.17,180.88 83.67,181.32 84.17,181.72 84.67,182.05 85.17,182.26 85.68,182.35 86.18,182.29 86.68,182.10 87.18,181.79 87.68,181.40 88.19,180.97 88.69,180.54 89.19,180.16 89.69,179.86 90.20,179.69 90.70,179.65 91.20,179.76 91.70,179.99 92.20,180.33 92.71,180.74 93.21,181.18 93.71,181.60 94.21,181.95 94.72,182.21 95.22,182.34 95.72,182.33 96.22,182.17 96.72,181.90 97.23,181.53 97.73,181.11 98.23,180.67 98.73,180.27 99.23,179.95 99.74,179.73 100.24,179.65 100.74,179.71 101.24,179.91 101.75,180.22 102.25,180.61 102.75,181.04 103.25,181.47 103.75,181.85 104.26,182.14 104.76,182.31 105.26,182.34 105.76,182.24 106.26,182.00 106.77,181.66 107.27,181.24 107.77,180.81 108.27,180.39 108.78,180.04 109.28,179.79 109.78,179.66 110.28,179.68 110.78,179.83 111.29,180.11 111.79,180.48 112.29,180.90 112.79,181.34 113.29,181.74 113.80,182.06 114.30,182.27 114.80,182.35 115.30,182.29 115.81,182.09 116.31,181.77 116.81,181.38 117.31,180.95 117.81,180.52 118.32,180.14 118.82,179.85 119.32,179.69 119.82,179.66 120.32,179.77 120.83,180.01 121.33,180.35 121.83,180.77 122.33,181.20 122.84,181.62 123.34,181.97 123.84,182.22 124.34,182.34 124.84,182.32 125.35,182.16 125.85,181.88 126.35,181.51 126.85,181.09 127.35,180.65 127.86,180.25 128.36,179.93 128.86,179.72 129.36,179.65 129.87,179.72 130.37,179.92 130.87,180.23 131.37,180.63 131.87,181.06 132.38,181.49 132.88,181.87 133.38,182.15 133.88,182.32 134.38,182.34 134.89,182.23 135.39,181.98 135.89,181.64 136.39,181.22 136.90,180.79 137.40,180.37 137.90,180.02" fill="none" stroke="#4e4e4e" stroke-width="1"/>
<line x1="163.8" y1="181" x2="203.5" y2="181" stroke="#4e4e4e" stroke-width="1"/>
<line x1="251" y1="181" x2="313" y2="181" stroke="#4e4e4e" stroke-width="1"/>
<line x1="373.5" y1="181" x2="404.5" y2="181" stroke="#4e4e4e" stroke-width="1"/>
<line x1="44.5" y1="222" x2="137.9" y2="222" stroke="#4e4e4e" stroke-width="1"/>
<line x1="163.8" y1="222" x2="203.5" y2="222" stroke="#4e4e4e" stroke-width="1"/>
<line x1="251" y1="222" x2="313" y2="222" stroke="#4e4e4e" stroke-width="1"/>
<line x1="373.5" y1="222" x2="389" y2="222" stroke="#4e4e4e" stroke-width="1"/>
<line x1="22.5" y1="255.5" x2="44.5" y2="255.5" stroke="#4e4e4e" stroke-width="1"/>
<line x1="74" y1="256.5" x2="137.9" y2="256.5" stroke="#4e4e4e" stroke-width="1"/>
<line x1="163.8" y1="256.5" x2="203.5" y2="256.5" stroke="#4e4e4e" stroke-width="1"/>
<line x1="251" y1="256.5" x2="313" y2="256.5" stroke="#4e4e4e" stroke-width="1"/>
<line x1="373.5" y1="256.5" x2="389" y2="256.5" stroke="#4e4e4e" stroke-width="1"/>
<line x1="74" y1="283" x2="137.9" y2="283" stroke="#4e4e4e" stroke-width="1"/>
<line x1="163.8" y1="283" x2="203.5" y2="283" stroke="#4e4e4e" stroke-width="1"/>
<line x1="251" y1="283" x2="313" y2="283" stroke="#4e4e4e" stroke-width="1"/>
<line x1="103" y1="329.5" x2="137.9" y2="329.5" stroke="#4e4e4e" stroke-width="1"/>
<line x1="163.8" y1="329.5" x2="203.5" y2="329.5" stroke="#4e4e4e" stroke-width="1"/>
<line x1="251" y1="329.5" x2="313" y2="329.5" stroke="#4e4e4e" stroke-width="1"/>
<line x1="103" y1="367.5" x2="137.9" y2="367.5" stroke="#4e4e4e" stroke-width="1"/>
<line x1="163.8" y1="367.5" x2="203.5" y2="367.5" stroke="#4e4e4e" stroke-width="1"/>
<line x1="251" y1="367.5" x2="313" y2="367.5" stroke="#4e4e4e" stroke-width="1"/>
<line x1="103" y1="410.5" x2="137.9" y2="410.5" stroke="#4e4e4e" stroke-width="1"/>
<line x1="163.8" y1="410.5" x2="203.5" y2="410.5" stroke="#4e4e4e" stroke-width="1"/>
<line x1="251" y1="410.5" x2="313" y2="410.5" stroke="#4e4e4e" stroke-width="1"/>
<line x1="373.5" y1="410.5" x2="389" y2="410.5" stroke="#4e4e4e" stroke-width="1"/>
<line x1="103" y1="427" x2="137.9" y2="427" stroke="#4e4e4e" stroke-width="1"/>
<line x1="163.8" y1="427" x2="203.5" y2="427" stroke="#4e4e4e" stroke-width="1"/>
<line x1="251" y1="427" x2="313" y2="427" stroke="#4e4e4e" stroke-width="1"/>
<line x1="74" y1="458" x2="404.5" y2="458" stroke="#4e4e4e" stroke-width="1"/>
<line x1="74" y1="470.5" x2="103" y2="470.5" stroke="#4e4e4e" stroke-width="1"/>
<line x1="44.5" y1="483" x2="103" y2="483" stroke="#4e4e4e" stroke-width="1"/>
<line x1="22.5" y1="488" x2="44.5" y2="488" stroke="#4e4e4e" stroke-width="1"/>
<line x1="137.9" y1="134" x2="140.4" y2="134" stroke="#4e4e4e" stroke-width="1"/>
<line x1="161.3" y1="134" x2="163.8" y2="134" stroke="#4e4e4e" stroke-width="1"/>
<line x1="137.9" y1="181" x2="140.4" y2="181" stroke="#4e4e4e" stroke-width="1"/>
<line x1="161.3" y1="181" x2="163.8" y2="181" stroke="#4e4e4e" stroke-width="1"/>
<line x1="137.9" y1="222" x2="140.4" y2="222" stroke="#4e4e4e" stroke-width="1"/>
<line x1="161.3" y1="222" x2="163.8" y2="222" stroke="#4e4e4e" stroke-width="1"/>
<line x1="137.9" y1="256.5" x2="140.4" y2="256.5" stroke="#4e4e4e" stroke-width="1"/>
<line x1="161.3" y1="256.5" x2="163.8" y2="256.5" stroke="#4e4e4e" stroke-width="1"/>
<line x1="137.9" y1="283" x2="140.4" y2="283" stroke="#4e4e4e" stroke-width="1"/>
<line x1="161.3" y1="283" x2="163.8" y2="283" stroke="#4e4e4e" stroke-width="1"/>
<line x1="137.9" y1="329.5" x2="140.4" y2="329.5" stroke="#4e4e4e" stroke-width="1"/>
<line x1="161.3" y1="329.5" x2="163.8" y2="329.5" stroke="#4e4e4e" stroke-width="1"/>
<line x1="137.9" y1="367.5" x2="140.4" y2="367.5" stroke="#4e4e4e" stroke-width="1"/>
<line x1="161.3" y1="367.5" x2="163.8" y2="367.5" stroke="#4e4e4e" stroke-width="1"/>
<line x1="137.9" y1="410.5" x2="140.4" y2="410.5" stroke="#4e4e4e" stroke-width="1"/>
<line x1="161.3" y1="410.5" x2="163.8" y2="410.5" stroke="#4e4e4e" stroke-width="1"/>
<line x1="137.9" y1="427" x2="140.4" y2="427" stroke="#4e4e4e" stroke-width="1"/>
<line x1="161.3" y1="427" x2="163.8" y2="427" stroke="#4e4e4e" stroke-width="1"/>
<line x1="137.9" y1="458" x2="140.4" y2="458" stroke="#4e4e4e" stroke-width="1"/>
<line x1="161.3" y1="458" x2="163.8" y2="458" stroke="#4e4e4e" stroke-width="1"/>
<text transform="translate(16.0,44) rotate(-90)" x="0" y="0" font-size="11.6" fill="#1c1c1c" textLength="38.9" lengthAdjust="spacingAndGlyphs">System</text>
<text transform="translate(37.0,41.9) rotate(-90)" x="0" y="0" font-size="11.6" fill="#1c1c1c" textLength="32.7" lengthAdjust="spacingAndGlyphs">Series</text>
<text x="74.6" y="15.3" font-size="11.2" fill="#1c1c1c" textLength="29.700000000000003" lengthAdjust="spacingAndGlyphs">Strata</text>
<text x="45" y="32.7" font-size="9.8" fill="#1c1c1c" textLength="28" lengthAdjust="spacingAndGlyphs">Forma</text>
<text x="45" y="43" font-size="9.8" fill="#1c1c1c" textLength="19.400000000000006" lengthAdjust="spacingAndGlyphs">-tion</text>
<text x="78.3" y="32.7" font-size="9.8" fill="#1c1c1c" textLength="21.299999999999997" lengthAdjust="spacingAndGlyphs">Mem</text>
<text x="78.3" y="43" font-size="9.8" fill="#1c1c1c" textLength="17.799999999999997" lengthAdjust="spacingAndGlyphs">-ber</text>
<text x="105.7" y="32.7" font-size="9.8" fill="#1c1c1c" textLength="30.299999999999997" lengthAdjust="spacingAndGlyphs">Subme</text>
<text x="105.7" y="43" font-size="9.8" fill="#1c1c1c" textLength="25.60000000000001" lengthAdjust="spacingAndGlyphs">-mber</text>
<text x="139.9" y="22.8" font-size="11" fill="#1c1c1c" textLength="19.599999999999994" lengthAdjust="spacingAndGlyphs">Age</text>
<text x="138.6" y="35.2" font-size="11" fill="#1c1c1c" textLength="22.400000000000006" lengthAdjust="spacingAndGlyphs">(Ma)</text>
<text x="165.8" y="15.8" font-size="11" fill="#1c1c1c" textLength="31.19999999999999" lengthAdjust="spacingAndGlyphs">Thick-</text>
<text x="171.5" y="27.5" font-size="11" fill="#1c1c1c" textLength="23.5" lengthAdjust="spacingAndGlyphs">ness</text>
<text x="174.5" y="39" font-size="11" fill="#1c1c1c" textLength="17.0" lengthAdjust="spacingAndGlyphs">(m)</text>
<text x="204.2" y="28.9" font-size="11.3" fill="#1c1c1c" textLength="45.5" lengthAdjust="spacingAndGlyphs">Lithology</text>
<text x="251.2" y="22.2" font-size="10.2" fill="#1c1c1c" textLength="60.80000000000001" lengthAdjust="spacingAndGlyphs">Sedimentary</text>
<text x="251.2" y="33.9" font-size="10.2" fill="#1c1c1c" textLength="60.80000000000001" lengthAdjust="spacingAndGlyphs">Environment</text>
<text transform="translate(322.6,42) rotate(-90)" x="0" y="0" font-size="10.5" fill="#1c1c1c" textLength="36" lengthAdjust="spacingAndGlyphs">Source</text>
<text transform="translate(334.4,42) rotate(-90)" x="0" y="0" font-size="10.5" fill="#1c1c1c" textLength="29" lengthAdjust="spacingAndGlyphs">Rocks</text>
<text transform="translate(344.5,45.8) rotate(-90)" x="0" y="0" font-size="9" fill="#555" textLength="43.199999999999996" lengthAdjust="spacingAndGlyphs">Reservoir</text>
<text transform="translate(355.8,45) rotate(-90)" x="0" y="0" font-size="9" fill="#444" textLength="30" lengthAdjust="spacingAndGlyphs">Rocks</text>
<text transform="translate(370.0,39.8) rotate(-90)" x="0" y="0" font-size="10.5" fill="#1c1c1c" textLength="27.799999999999997" lengthAdjust="spacingAndGlyphs">Seals</text>
<text transform="translate(386.0,42.9) rotate(-90)" x="0" y="0" font-size="9" fill="#666" textLength="38.1" lengthAdjust="spacingAndGlyphs">Tectonic</text>
<text transform="translate(396.4,44.6) rotate(-90)" x="0" y="0" font-size="9" fill="#666" textLength="41.4" lengthAdjust="spacingAndGlyphs">Evolution</text>
<text x="7.2" y="57.2" font-size="10.8" fill="#1c1c1c" textLength="34.699999999999996" lengthAdjust="spacingAndGlyphs">Quater</text>
<text x="7.2" y="69.2" font-size="10.8" fill="#1c1c1c" textLength="28.3" lengthAdjust="spacingAndGlyphs">-nary</text>
<text x="50.6" y="57.2" font-size="10.8" fill="#1c1c1c" textLength="48.4" lengthAdjust="spacingAndGlyphs">Pingyuan</text>
<text x="65.1" y="69.8" font-size="10.8" fill="#1c1c1c" textLength="17.200000000000003" lengthAdjust="spacingAndGlyphs">(Q)</text>
<text transform="translate(16.0,152.3) rotate(-90)" x="0" y="0" font-size="11.2" fill="#1c1c1c" textLength="47.900000000000006" lengthAdjust="spacingAndGlyphs">Neogene</text>
<text transform="translate(37.6,122) rotate(-90)" x="0" y="0" font-size="11.2" fill="#1c1c1c" textLength="44.7" lengthAdjust="spacingAndGlyphs">Pliocene</text>
<text transform="translate(37.6,177.3) rotate(-90)" x="0" y="0" font-size="11.2" fill="#1c1c1c" textLength="44.80000000000001" lengthAdjust="spacingAndGlyphs">Miocene</text>
<text x="52.6" y="95" font-size="10.8" fill="#1c1c1c" textLength="44.49999999999999" lengthAdjust="spacingAndGlyphs">Minghua</text>
<text x="58.8" y="107.3" font-size="10.8" fill="#1c1c1c" textLength="28.60000000000001" lengthAdjust="spacingAndGlyphs">-zhen</text>
<text x="62" y="119.6" font-size="10.8" fill="#1c1c1c" textLength="25" lengthAdjust="spacingAndGlyphs">(Nm)</text>
<text x="52.6" y="158.1" font-size="10.8" fill="#1c1c1c" textLength="44.49999999999999" lengthAdjust="spacingAndGlyphs">Guantao</text>
<text x="64.3" y="170" font-size="10.8" fill="#1c1c1c" textLength="22.700000000000003" lengthAdjust="spacingAndGlyphs">(Ng)</text>
<text transform="translate(37.6,250.9) rotate(-90)" x="0" y="0" font-size="11.2" fill="#1c1c1c" textLength="53.70000000000002" lengthAdjust="spacingAndGlyphs">Oligocene</text>
<text x="50.3" y="200.6" font-size="10.8" fill="#1c1c1c" textLength="48.7" lengthAdjust="spacingAndGlyphs">Dongying</text>
<text x="62.4" y="213" font-size="10.8" fill="#1c1c1c" textLength="21.4" lengthAdjust="spacingAndGlyphs">(Ed)</text>
<text transform="translate(15.9,386.9) rotate(-90)" x="0" y="0" font-size="11.2" fill="#1c1c1c" textLength="62.799999999999955" lengthAdjust="spacingAndGlyphs">Palaeogene</text>
<text transform="translate(38.8,403.4) rotate(-90)" x="0" y="0" font-size="11.2" fill="#1c1c1c" textLength="38.799999999999955" lengthAdjust="spacingAndGlyphs">Eocene</text>
<text transform="translate(62.4,409.2) rotate(-90)" x="0" y="0" font-size="11.2" fill="#1c1c1c" textLength="68.59999999999997" lengthAdjust="spacingAndGlyphs">Shahejie(Es)</text>
<text x="79.6" y="381.9" font-size="10.6" fill="#1c1c1c" textLength="19.700000000000003" lengthAdjust="spacingAndGlyphs">Es3</text>
<text x="79.9" y="242.5" font-size="10.6" fill="#1c1c1c" textLength="17.69999999999999" lengthAdjust="spacingAndGlyphs">Es1</text>
<text x="79.9" y="273.1" font-size="10.6" fill="#1c1c1c" textLength="18.39999999999999" lengthAdjust="spacingAndGlyphs">Es2</text>
<text x="79.6" y="468.8" font-size="10.2" fill="#1c1c1c" textLength="19.30000000000001" lengthAdjust="spacingAndGlyphs">Es4</text>
<text x="79.6" y="480.4" font-size="10.2" fill="#1c1c1c" textLength="19.30000000000001" lengthAdjust="spacingAndGlyphs">Es5</text>
<text transform="translate(30.9,524.7) rotate(-90)" x="0" y="0" font-size="10.4" fill="#1c1c1c" textLength="32.50000000000006" lengthAdjust="spacingAndGlyphs">Paleo-</text>
<text transform="translate(43.4,525.2) rotate(-90)" x="0" y="0" font-size="11" fill="#1c1c1c" textLength="24.300000000000068" lengthAdjust="spacingAndGlyphs">cene</text>
<text transform="translate(55.4,531.6) rotate(-90)" x="0" y="0" font-size="10.4" fill="#1c1c1c" textLength="47.700000000000045" lengthAdjust="spacingAndGlyphs">Kongdian</text>
<text transform="translate(67.9,520.9) rotate(-90)" x="0" y="0" font-size="10.4" fill="#1c1c1c" textLength="20.899999999999977" lengthAdjust="spacingAndGlyphs">(Ek)</text>
<text x="111.2" y="308.6" font-size="10.6" fill="#1c1c1c" textLength="11.9" lengthAdjust="spacingAndGlyphs">Es</text>
<text x="124.7" y="310.8" font-size="8.2" fill="#1c1c1c">3</text>
<text x="127.0" y="303.8" font-size="8.2" fill="#1c1c1c">1</text>
<text x="111.3" y="351.4" font-size="10.6" fill="#1c1c1c" textLength="11.9" lengthAdjust="spacingAndGlyphs">Es</text>
<text x="124.8" y="353.59999999999997" font-size="8.2" fill="#1c1c1c">3</text>
<text x="127.1" y="346.59999999999997" font-size="8.2" fill="#1c1c1c">2</text>
<text x="111.3" y="391.4" font-size="10.6" fill="#1c1c1c" textLength="11.9" lengthAdjust="spacingAndGlyphs">Es</text>
<text x="124.8" y="393.59999999999997" font-size="8.2" fill="#1c1c1c">3</text>
<text x="127.1" y="386.59999999999997" font-size="8.2" fill="#1c1c1c">3</text>
<text x="111.3" y="422.5" font-size="10.6" fill="#1c1c1c" textLength="11.9" lengthAdjust="spacingAndGlyphs">Es</text>
<text x="124.8" y="424.7" font-size="8.2" fill="#1c1c1c">3</text>
<text x="127.1" y="417.7" font-size="8.2" fill="#1c1c1c">4</text>
<text x="111.3" y="448.5" font-size="10.6" fill="#1c1c1c" textLength="11.9" lengthAdjust="spacingAndGlyphs">Es</text>
<text x="124.8" y="450.7" font-size="8.2" fill="#1c1c1c">3</text>
<text x="127.1" y="443.7" font-size="8.2" fill="#1c1c1c">5</text>
<text x="140" y="137.7" font-size="10.4" fill="#1c1c1c" textLength="21.25" lengthAdjust="spacingAndGlyphs">5.32</text>
<text x="140" y="184.7" font-size="10.4" fill="#1c1c1c" textLength="21.25" lengthAdjust="spacingAndGlyphs">23.8</text>
<text x="140" y="225.7" font-size="10.4" fill="#1c1c1c" textLength="21.25" lengthAdjust="spacingAndGlyphs">28.5</text>
<text x="140" y="260.2" font-size="10.4" fill="#1c1c1c" textLength="21.25" lengthAdjust="spacingAndGlyphs">31.0</text>
<text x="140" y="286.7" font-size="10.4" fill="#1c1c1c" textLength="21.25" lengthAdjust="spacingAndGlyphs">33.7</text>
<text x="140" y="333.2" font-size="10.4" fill="#1c1c1c" textLength="21.25" lengthAdjust="spacingAndGlyphs">38.5</text>
<text x="140" y="371.2" font-size="10.4" fill="#1c1c1c" textLength="21.25" lengthAdjust="spacingAndGlyphs">41.0</text>
<text x="140" y="414.2" font-size="10.4" fill="#1c1c1c" textLength="21.25" lengthAdjust="spacingAndGlyphs">42.0</text>
<text x="140" y="430.7" font-size="10.4" fill="#1c1c1c" textLength="21.25" lengthAdjust="spacingAndGlyphs">42.5</text>
<text x="140" y="461.7" font-size="10.4" fill="#1c1c1c" textLength="21.25" lengthAdjust="spacingAndGlyphs">45.5</text>
<text x="165.1" y="64.2" font-size="9.4" fill="#1c1c1c" textLength="37.400000000000006" lengthAdjust="spacingAndGlyphs">250-310</text>
<text x="165.1" y="161.1" font-size="9.4" fill="#1c1c1c" textLength="37.400000000000006" lengthAdjust="spacingAndGlyphs">300-500</text>
<text x="169.8" y="205.9" font-size="11.3" fill="#1c1c1c" textLength="28.799999999999983" lengthAdjust="spacingAndGlyphs">0-300</text>
<text x="165.1" y="242.6" font-size="9.2" fill="#1c1c1c" textLength="37.400000000000006" lengthAdjust="spacingAndGlyphs">200-800</text>
<text x="165.8" y="273.4" font-size="10.6" fill="#1c1c1c" textLength="35.79999999999998" lengthAdjust="spacingAndGlyphs">50-150</text>
<text x="165.1" y="306.4" font-size="9.4" fill="#1c1c1c" textLength="36.5" lengthAdjust="spacingAndGlyphs">150-450</text>
<text x="164.7" y="352.4" font-size="9.6" fill="#1c1c1c" textLength="36.900000000000006" lengthAdjust="spacingAndGlyphs">100-300</text>
<text x="164.7" y="391.2" font-size="9.4" fill="#1c1c1c" textLength="36.900000000000006" lengthAdjust="spacingAndGlyphs">300-600</text>
<text x="164.7" y="422.2" font-size="9.4" fill="#1c1c1c" textLength="36.900000000000006" lengthAdjust="spacingAndGlyphs">150-300</text>
<text x="164.7" y="446.8" font-size="9.8" fill="#1c1c1c" textLength="36.900000000000006" lengthAdjust="spacingAndGlyphs">150-350</text>
<text x="171.2" y="103.4" font-size="11.4" fill="#1c1c1c" textLength="27.400000000000006" lengthAdjust="spacingAndGlyphs">1100-</text>
<text x="171.2" y="114.6" font-size="11.4" fill="#1c1c1c" textLength="24.30000000000001" lengthAdjust="spacingAndGlyphs">1300</text>
<text x="255.8" y="64.9" font-size="10.8" fill="#1c1c1c" textLength="53.0" lengthAdjust="spacingAndGlyphs">Floodplain</text>
<text x="263.5" y="205.9" font-size="10.8" fill="#1c1c1c" textLength="36.0" lengthAdjust="spacingAndGlyphs">Deltaic</text>
<text x="254.6" y="243.5" font-size="10.8" fill="#1c1c1c" textLength="54.20000000000002" lengthAdjust="spacingAndGlyphs">Deltaic fan</text>
<text x="253.5" y="273.9" font-size="10.8" fill="#1c1c1c" textLength="54.19999999999999" lengthAdjust="spacingAndGlyphs">Deltaic fan</text>
<text x="254.6" y="306.9" font-size="10.8" fill="#1c1c1c" textLength="54.20000000000002" lengthAdjust="spacingAndGlyphs">Deltaic fan</text>
<text x="254.6" y="352.9" font-size="10.8" fill="#1c1c1c" textLength="54.20000000000002" lengthAdjust="spacingAndGlyphs">Deltaic fan</text>
<text x="254.6" y="391.9" font-size="10.8" fill="#1c1c1c" textLength="54.20000000000002" lengthAdjust="spacingAndGlyphs">Deltaic fan</text>
<text x="254.6" y="422.7" font-size="10.8" fill="#1c1c1c" textLength="53.79999999999998" lengthAdjust="spacingAndGlyphs">Lacustrine</text>
<text x="254.6" y="446.1" font-size="10.8" fill="#1c1c1c" textLength="54.20000000000002" lengthAdjust="spacingAndGlyphs">Deltaic fan</text>
<text x="251.8" y="103.9" font-size="10.8" fill="#1c1c1c" textLength="60.099999999999966" lengthAdjust="spacingAndGlyphs">Meandering</text>
<text x="264" y="115.1" font-size="10.8" fill="#1c1c1c" textLength="30.30000000000001" lengthAdjust="spacingAndGlyphs">steam</text>
<text x="261.6" y="156.9" font-size="10.8" fill="#1c1c1c" textLength="39.799999999999955" lengthAdjust="spacingAndGlyphs">Braided</text>
<text x="267" y="168.6" font-size="10.8" fill="#1c1c1c" textLength="30.899999999999977" lengthAdjust="spacingAndGlyphs">steam</text>
<text transform="translate(392.0,144.7) rotate(-90)" x="0" y="0" font-size="11.2" fill="#1c1c1c" textLength="65.79999999999998" lengthAdjust="spacingAndGlyphs">Postrift stage</text>
<text transform="translate(385.6,221.5) rotate(-90)" x="0" y="0" font-size="11" fill="#1c1c1c" textLength="39.69999999999999" lengthAdjust="spacingAndGlyphs">Stage<tspan font-family="Liberation Serif">V</tspan></text>
<text transform="translate(384.8,253.9) rotate(-90)" x="0" y="0" font-size="8" fill="#1c1c1c" textLength="28.900000000000006" lengthAdjust="spacingAndGlyphs">Stage<tspan font-family="Liberation Serif">III</tspan></text>
<text transform="translate(385.6,339.4) rotate(-90)" x="0" y="0" font-size="10.6" fill="#1c1c1c" textLength="39.099999999999966" lengthAdjust="spacingAndGlyphs">Stage<tspan font-family="Liberation Serif">II</tspan></text>
<text transform="translate(385.6,453.4) rotate(-90)" x="0" y="0" font-size="10.6" fill="#1c1c1c" textLength="40.599999999999966" lengthAdjust="spacingAndGlyphs">Stage <tspan font-family="Liberation Serif">I</tspan></text>
<text transform="translate(401.3,355) rotate(-90)" x="0" y="0" font-size="10.6" fill="#1c1c1c" textLength="64" lengthAdjust="spacingAndGlyphs">Synrift stage</text>
<text x="170.2" y="500.3" font-size="11.4" fill="#1c1c1c" textLength="163.2" lengthAdjust="spacingAndGlyphs">Mostly absent in the Nanpu Sag</text>
<rect x="103" y="329.5" width="301.5" height="81.0" fill="none" stroke="#1fa04c" stroke-width="1.4" stroke-dasharray="8.2,4.1"/>
<line x1="404.5" y1="329.5" x2="419.5" y2="47" stroke="#4e4e4e" stroke-width="0.8"/>
<line x1="404.5" y1="410.5" x2="419.5" y2="533" stroke="#4e4e4e" stroke-width="0.8"/>
<defs>
<linearGradient id="gup" x1="0" y1="0" x2="0" y2="1"><stop offset="0" stop-color="#a4dbec"/><stop offset="1" stop-color="#fff07a"/></linearGradient>
<linearGradient id="gdn" x1="0" y1="0" x2="0" y2="1"><stop offset="0" stop-color="#fff07a"/><stop offset="1" stop-color="#a4dbec"/></linearGradient>
</defs>
<polygon points="600.5,47 610.0,121.5 591.0,121.5" fill="url(#gup)" stroke="#555" stroke-width="0.6"/>
<polygon points="600.5,121.5 610.0,217 591.0,217" fill="url(#gup)" stroke="#555" stroke-width="0.6"/>
<polygon points="600.5,217 610.0,299.5 591.0,299.5" fill="url(#gup)" stroke="#555" stroke-width="0.6"/>
<polygon points="600.5,299.5 610.0,410.5 591.0,410.5" fill="url(#gup)" stroke="#555" stroke-width="0.6"/>
<polygon points="591.0,410.5 610.0,410.5 600.5,470.5" fill="url(#gdn)" stroke="#555" stroke-width="0.6"/>
<polygon points="591.0,470.5 610.0,470.5 600.5,533" fill="url(#gdn)" stroke="#555" stroke-width="0.6"/>
<polygon points="620.5,47 630.0,410 611.0,410" fill="url(#gup)" stroke="#555" stroke-width="0.6"/>
<polygon points="611.0,410 630.0,410 620.5,533" fill="url(#gdn)" stroke="#555" stroke-width="0.6"/>
<rect x="543.5" y="47" width="7.5" height="486" fill="#7c7c7c" stroke="none" stroke-width="1"/>
<rect x="545" y="50" width="1.2" height="1.2" fill="#1a1a1a"/><rect x="548" y="50" width="1.2" height="1.2" fill="#1a1a1a"/>
<line x1="543.5" y1="52.5" x2="551" y2="52.5" stroke="#2a2a2a" stroke-width="0.6"/>
<rect x="545" y="53" width="1.2" height="1.2" fill="#1a1a1a"/><rect x="548" y="53" width="1.2" height="1.2" fill="#1a1a1a"/>
<line x1="543.5" y1="55.5" x2="551" y2="55.5" stroke="#2a2a2a" stroke-width="0.6"/>
<rect x="545" y="57" width="1.2" height="1.2" fill="#1a1a1a"/><rect x="548" y="57" width="1.2" height="1.2" fill="#1a1a1a"/>
<line x1="543.5" y1="59.5" x2="551" y2="59.5" stroke="#2a2a2a" stroke-width="0.6"/>
<rect x="545" y="60" width="1.2" height="1.2" fill="#1a1a1a"/><rect x="548" y="60" width="1.2" height="1.2" fill="#1a1a1a"/>
<line x1="543.5" y1="62.5" x2="551" y2="62.5" stroke="#2a2a2a" stroke-width="0.6"/>
<rect x="545" y="64" width="1.2" height="1.2" fill="#1a1a1a"/><rect x="548" y="64" width="1.2" height="1.2" fill="#1a1a1a"/>
<line x1="543.5" y1="66.5" x2="551" y2="66.5" stroke="#2a2a2a" stroke-width="0.6"/>
<rect x="545" y="68" width="1.2" height="1.2" fill="#1a1a1a"/><rect x="548" y="68" width="1.2" height="1.2" fill="#1a1a1a"/>
<line x1="543.5" y1="70.5" x2="551" y2="70.5" stroke="#2a2a2a" stroke-width="0.6"/>
<rect x="545" y="71" width="1.2" height="1.2" fill="#1a1a1a"/><rect x="548" y="71" width="1.2" height="1.2" fill="#1a1a1a"/>
<line x1="543.5" y1="73.5" x2="551" y2="73.5" stroke="#2a2a2a" stroke-width="0.6"/>
<rect x="545" y="75" width="1.2" height="1.2" fill="#1a1a1a"/><rect x="548" y="75" width="1.2" height="1.2" fill="#1a1a1a"/>
<line x1="543.5" y1="77.5" x2="551" y2="77.5" stroke="#2a2a2a" stroke-width="0.6"/>
<rect x="545" y="78" width="1.2" height="1.2" fill="#1a1a1a"/><rect x="548" y="78" width="1.2" height="1.2" fill="#1a1a1a"/>
<line x1="543.5" y1="80.5" x2="551" y2="80.5" stroke="#2a2a2a" stroke-width="0.6"/>
<rect x="545" y="82" width="1.2" height="1.2" fill="#1a1a1a"/><rect x="548" y="82" width="1.2" height="1.2" fill="#1a1a1a"/>
<line x1="543.5" y1="84.5" x2="551" y2="84.5" stroke="#2a2a2a" stroke-width="0.6"/>
<rect x="545" y="85" width="1.2" height="1.2" fill="#1a1a1a"/><rect x="548" y="85" width="1.2" height="1.2" fill="#1a1a1a"/>
<line x1="543.5" y1="87.5" x2="551" y2="87.5" stroke="#2a2a2a" stroke-width="0.6"/>
<rect x="545" y="89" width="1.2" height="1.2" fill="#1a1a1a"/><rect x="548" y="89" width="1.2" height="1.2" fill="#1a1a1a"/>
<line x1="543.5" y1="91.5" x2="551" y2="91.5" stroke="#2a2a2a" stroke-width="0.6"/>
<rect x="545" y="93" width="1.2" height="1.2" fill="#1a1a1a"/><rect x="548" y="93" width="1.2" height="1.2" fill="#1a1a1a"/>
<line x1="543.5" y1="95.5" x2="551" y2="95.5" stroke="#2a2a2a" stroke-width="0.6"/>
<rect x="545" y="96" width="1.2" height="1.2" fill="#1a1a1a"/><rect x="548" y="96" width="1.2" height="1.2" fill="#1a1a1a"/>
<line x1="543.5" y1="98.5" x2="551" y2="98.5" stroke="#2a2a2a" stroke-width="0.6"/>
<rect x="545" y="100" width="1.2" height="1.2" fill="#1a1a1a"/><rect x="548" y="100" width="1.2" height="1.2" fill="#1a1a1a"/>
<line x1="543.5" y1="102.5" x2="551" y2="102.5" stroke="#2a2a2a" stroke-width="0.6"/>
<rect x="545" y="103" width="1.2" height="1.2" fill="#1a1a1a"/><rect x="548" y="103" width="1.2" height="1.2" fill="#1a1a1a"/>
<line x1="543.5" y1="105.5" x2="551" y2="105.5" stroke="#2a2a2a" stroke-width="0.6"/>
<rect x="545" y="107" width="1.2" height="1.2" fill="#1a1a1a"/><rect x="548" y="107" width="1.2" height="1.2" fill="#1a1a1a"/>
<line x1="543.5" y1="109.5" x2="551" y2="109.5" stroke="#2a2a2a" stroke-width="0.6"/>
<rect x="545" y="111" width="1.2" height="1.2" fill="#1a1a1a"/><rect x="548" y="111" width="1.2" height="1.2" fill="#1a1a1a"/>
<line x1="543.5" y1="113.5" x2="551" y2="113.5" stroke="#2a2a2a" stroke-width="0.6"/>
<rect x="545" y="114" width="1.2" height="1.2" fill="#1a1a1a"/><rect x="548" y="114" width="1.2" height="1.2" fill="#1a1a1a"/>
<line x1="543.5" y1="116.5" x2="551" y2="116.5" stroke="#2a2a2a" stroke-width="0.6"/>
<rect x="545" y="118" width="1.2" height="1.2" fill="#1a1a1a"/><rect x="548" y="118" width="1.2" height="1.2" fill="#1a1a1a"/>
<line x1="543.5" y1="120.5" x2="551" y2="120.5" stroke="#2a2a2a" stroke-width="0.6"/>
<rect x="545" y="121" width="1.2" height="1.2" fill="#1a1a1a"/><rect x="548" y="121" width="1.2" height="1.2" fill="#1a1a1a"/>
<line x1="543.5" y1="123.5" x2="551" y2="123.5" stroke="#2a2a2a" stroke-width="0.6"/>
<rect x="545" y="125" width="1.2" height="1.2" fill="#1a1a1a"/><rect x="548" y="125" width="1.2" height="1.2" fill="#1a1a1a"/>
<line x1="543.5" y1="127.5" x2="551" y2="127.5" stroke="#2a2a2a" stroke-width="0.6"/>
<rect x="545" y="129" width="1.2" height="1.2" fill="#1a1a1a"/><rect x="548" y="129" width="1.2" height="1.2" fill="#1a1a1a"/>
<line x1="543.5" y1="131.5" x2="551" y2="131.5" stroke="#2a2a2a" stroke-width="0.6"/>
<rect x="545" y="132" width="1.2" height="1.2" fill="#1a1a1a"/><rect x="548" y="132" width="1.2" height="1.2" fill="#1a1a1a"/>
<line x1="543.5" y1="134.5" x2="551" y2="134.5" stroke="#2a2a2a" stroke-width="0.6"/>
<rect x="545" y="136" width="1.2" height="1.2" fill="#1a1a1a"/><rect x="548" y="136" width="1.2" height="1.2" fill="#1a1a1a"/>
<line x1="543.5" y1="138.5" x2="551" y2="138.5" stroke="#2a2a2a" stroke-width="0.6"/>
<rect x="545" y="139" width="1.2" height="1.2" fill="#1a1a1a"/><rect x="548" y="139" width="1.2" height="1.2" fill="#1a1a1a"/>
<line x1="543.5" y1="141.5" x2="551" y2="141.5" stroke="#2a2a2a" stroke-width="0.6"/>
<rect x="545" y="143" width="1.2" height="1.2" fill="#1a1a1a"/><rect x="548" y="143" width="1.2" height="1.2" fill="#1a1a1a"/>
<line x1="543.5" y1="145.5" x2="551" y2="145.5" stroke="#2a2a2a" stroke-width="0.6"/>
<rect x="545" y="147" width="1.2" height="1.2" fill="#1a1a1a"/><rect x="548" y="147" width="1.2" height="1.2" fill="#1a1a1a"/>
<line x1="543.5" y1="149.5" x2="551" y2="149.5" stroke="#2a2a2a" stroke-width="0.6"/>
<rect x="545" y="150" width="1.2" height="1.2" fill="#1a1a1a"/><rect x="548" y="150" width="1.2" height="1.2" fill="#1a1a1a"/>
<line x1="543.5" y1="152.5" x2="551" y2="152.5" stroke="#2a2a2a" stroke-width="0.6"/>
<rect x="545" y="154" width="1.2" height="1.2" fill="#1a1a1a"/><rect x="548" y="154" width="1.2" height="1.2" fill="#1a1a1a"/>
<line x1="543.5" y1="156.5" x2="551" y2="156.5" stroke="#2a2a2a" stroke-width="0.6"/>
<rect x="545" y="157" width="1.2" height="1.2" fill="#1a1a1a"/><rect x="548" y="157" width="1.2" height="1.2" fill="#1a1a1a"/>
<line x1="543.5" y1="159.5" x2="551" y2="159.5" stroke="#2a2a2a" stroke-width="0.6"/>
<rect x="545" y="161" width="1.2" height="1.2" fill="#1a1a1a"/><rect x="548" y="161" width="1.2" height="1.2" fill="#1a1a1a"/>
<line x1="543.5" y1="163.5" x2="551" y2="163.5" stroke="#2a2a2a" stroke-width="0.6"/>
<rect x="545" y="165" width="1.2" height="1.2" fill="#1a1a1a"/><rect x="548" y="165" width="1.2" height="1.2" fill="#1a1a1a"/>
<line x1="543.5" y1="167.5" x2="551" y2="167.5" stroke="#2a2a2a" stroke-width="0.6"/>
<rect x="545" y="168" width="1.2" height="1.2" fill="#1a1a1a"/><rect x="548" y="168" width="1.2" height="1.2" fill="#1a1a1a"/>
<line x1="543.5" y1="170.5" x2="551" y2="170.5" stroke="#2a2a2a" stroke-width="0.6"/>
<rect x="545" y="172" width="1.2" height="1.2" fill="#1a1a1a"/><rect x="548" y="172" width="1.2" height="1.2" fill="#1a1a1a"/>
<line x1="543.5" y1="174.5" x2="551" y2="174.5" stroke="#2a2a2a" stroke-width="0.6"/>
<rect x="545" y="175" width="1.2" height="1.2" fill="#1a1a1a"/><rect x="548" y="175" width="1.2" height="1.2" fill="#1a1a1a"/>
<line x1="543.5" y1="177.5" x2="551" y2="177.5" stroke="#2a2a2a" stroke-width="0.6"/>
<rect x="545" y="179" width="1.2" height="1.2" fill="#1a1a1a"/><rect x="548" y="179" width="1.2" height="1.2" fill="#1a1a1a"/>
<line x1="543.5" y1="181.5" x2="551" y2="181.5" stroke="#2a2a2a" stroke-width="0.6"/>
<rect x="545" y="183" width="1.2" height="1.2" fill="#1a1a1a"/><rect x="548" y="183" width="1.2" height="1.2" fill="#1a1a1a"/>
<line x1="543.5" y1="185.5" x2="551" y2="185.5" stroke="#2a2a2a" stroke-width="0.6"/>
<rect x="545" y="186" width="1.2" height="1.2" fill="#1a1a1a"/><rect x="548" y="186" width="1.2" height="1.2" fill="#1a1a1a"/>
<line x1="543.5" y1="188.5" x2="551" y2="188.5" stroke="#2a2a2a" stroke-width="0.6"/>
<rect x="545" y="190" width="1.2" height="1.2" fill="#1a1a1a"/><rect x="548" y="190" width="1.2" height="1.2" fill="#1a1a1a"/>
<line x1="543.5" y1="192.5" x2="551" y2="192.5" stroke="#2a2a2a" stroke-width="0.6"/>
<rect x="545" y="193" width="1.2" height="1.2" fill="#1a1a1a"/><rect x="548" y="193" width="1.2" height="1.2" fill="#1a1a1a"/>
<line x1="543.5" y1="195.5" x2="551" y2="195.5" stroke="#2a2a2a" stroke-width="0.6"/>
<rect x="545" y="197" width="1.2" height="1.2" fill="#1a1a1a"/><rect x="548" y="197" width="1.2" height="1.2" fill="#1a1a1a"/>
<line x1="543.5" y1="199.5" x2="551" y2="199.5" stroke="#2a2a2a" stroke-width="0.6"/>
<rect x="545" y="201" width="1.2" height="1.2" fill="#1a1a1a"/><rect x="548" y="201" width="1.2" height="1.2" fill="#1a1a1a"/>
<line x1="543.5" y1="203.5" x2="551" y2="203.5" stroke="#2a2a2a" stroke-width="0.6"/>
<rect x="545" y="204" width="1.2" height="1.2" fill="#1a1a1a"/><rect x="548" y="204" width="1.2" height="1.2" fill="#1a1a1a"/>
<line x1="543.5" y1="206.5" x2="551" y2="206.5" stroke="#2a2a2a" stroke-width="0.6"/>
<rect x="545" y="208" width="1.2" height="1.2" fill="#1a1a1a"/><rect x="548" y="208" width="1.2" height="1.2" fill="#1a1a1a"/>
<line x1="543.5" y1="210.5" x2="551" y2="210.5" stroke="#2a2a2a" stroke-width="0.6"/>
<rect x="545" y="211" width="1.2" height="1.2" fill="#1a1a1a"/><rect x="548" y="211" width="1.2" height="1.2" fill="#1a1a1a"/>
<line x1="543.5" y1="213.5" x2="551" y2="213.5" stroke="#2a2a2a" stroke-width="0.6"/>
<rect x="545" y="215" width="1.2" height="1.2" fill="#1a1a1a"/><rect x="548" y="215" width="1.2" height="1.2" fill="#1a1a1a"/>
<line x1="543.5" y1="217.5" x2="551" y2="217.5" stroke="#2a2a2a" stroke-width="0.6"/>
<rect x="545" y="219" width="1.2" height="1.2" fill="#1a1a1a"/><rect x="548" y="219" width="1.2" height="1.2" fill="#1a1a1a"/>
<line x1="543.5" y1="221.5" x2="551" y2="221.5" stroke="#2a2a2a" stroke-width="0.6"/>
<rect x="545" y="222" width="1.2" height="1.2" fill="#1a1a1a"/><rect x="548" y="222" width="1.2" height="1.2" fill="#1a1a1a"/>
<line x1="543.5" y1="224.5" x2="551" y2="224.5" stroke="#2a2a2a" stroke-width="0.6"/>
<rect x="545" y="226" width="1.2" height="1.2" fill="#1a1a1a"/><rect x="548" y="226" width="1.2" height="1.2" fill="#1a1a1a"/>
<line x1="543.5" y1="228.5" x2="551" y2="228.5" stroke="#2a2a2a" stroke-width="0.6"/>
<rect x="545" y="229" width="1.2" height="1.2" fill="#1a1a1a"/><rect x="548" y="229" width="1.2" height="1.2" fill="#1a1a1a"/>
<line x1="543.5" y1="231.5" x2="551" y2="231.5" stroke="#2a2a2a" stroke-width="0.6"/>
<rect x="545" y="233" width="1.2" height="1.2" fill="#1a1a1a"/><rect x="548" y="233" width="1.2" height="1.2" fill="#1a1a1a"/>
<line x1="543.5" y1="235.5" x2="551" y2="235.5" stroke="#2a2a2a" stroke-width="0.6"/>
<rect x="545" y="237" width="1.2" height="1.2" fill="#1a1a1a"/><rect x="548" y="237" width="1.2" height="1.2" fill="#1a1a1a"/>
<line x1="543.5" y1="239.5" x2="551" y2="239.5" stroke="#2a2a2a" stroke-width="0.6"/>
<rect x="545" y="240" width="1.2" height="1.2" fill="#1a1a1a"/><rect x="548" y="240" width="1.2" height="1.2" fill="#1a1a1a"/>
<line x1="543.5" y1="242.5" x2="551" y2="242.5" stroke="#2a2a2a" stroke-width="0.6"/>
<rect x="545" y="244" width="1.2" height="1.2" fill="#1a1a1a"/><rect x="548" y="244" width="1.2" height="1.2" fill="#1a1a1a"/>
<line x1="543.5" y1="246.5" x2="551" y2="246.5" stroke="#2a2a2a" stroke-width="0.6"/>
<rect x="545" y="247" width="1.2" height="1.2" fill="#1a1a1a"/><rect x="548" y="247" width="1.2" height="1.2" fill="#1a1a1a"/>
<line x1="543.5" y1="249.5" x2="551" y2="249.5" stroke="#2a2a2a" stroke-width="0.6"/>
<rect x="545" y="251" width="1.2" height="1.2" fill="#1a1a1a"/><rect x="548" y="251" width="1.2" height="1.2" fill="#1a1a1a"/>
<line x1="543.5" y1="253.5" x2="551" y2="253.5" stroke="#2a2a2a" stroke-width="0.6"/>
<rect x="545" y="255" width="1.2" height="1.2" fill="#1a1a1a"/><rect x="548" y="255" width="1.2" height="1.2" fill="#1a1a1a"/>
<line x1="543.5" y1="257.5" x2="551" y2="257.5" stroke="#2a2a2a" stroke-width="0.6"/>
<rect x="545" y="258" width="1.2" height="1.2" fill="#1a1a1a"/><rect x="548" y="258" width="1.2" height="1.2" fill="#1a1a1a"/>
<line x1="543.5" y1="260.5" x2="551" y2="260.5" stroke="#2a2a2a" stroke-width="0.6"/>
<rect x="545" y="262" width="1.2" height="1.2" fill="#1a1a1a"/><rect x="548" y="262" width="1.2" height="1.2" fill="#1a1a1a"/>
<line x1="543.5" y1="264.5" x2="551" y2="264.5" stroke="#2a2a2a" stroke-width="0.6"/>
<rect x="545" y="265" width="1.2" height="1.2" fill="#1a1a1a"/><rect x="548" y="265" width="1.2" height="1.2" fill="#1a1a1a"/>
<line x1="543.5" y1="267.5" x2="551" y2="267.5" stroke="#2a2a2a" stroke-width="0.6"/>
<rect x="545" y="269" width="1.2" height="1.2" fill="#1a1a1a"/><rect x="548" y="269" width="1.2" height="1.2" fill="#1a1a1a"/>
<line x1="543.5" y1="271.5" x2="551" y2="271.5" stroke="#2a2a2a" stroke-width="0.6"/>
<rect x="545" y="273" width="1.2" height="1.2" fill="#1a1a1a"/><rect x="548" y="273" width="1.2" height="1.2" fill="#1a1a1a"/>
<line x1="543.5" y1="275.5" x2="551" y2="275.5" stroke="#2a2a2a" stroke-width="0.6"/>
<rect x="545" y="276" width="1.2" height="1.2" fill="#1a1a1a"/><rect x="548" y="276" width="1.2" height="1.2" fill="#1a1a1a"/>
<line x1="543.5" y1="278.5" x2="551" y2="278.5" stroke="#2a2a2a" stroke-width="0.6"/>
<rect x="545" y="280" width="1.2" height="1.2" fill="#1a1a1a"/><rect x="548" y="280" width="1.2" height="1.2" fill="#1a1a1a"/>
<line x1="543.5" y1="282.5" x2="551" y2="282.5" stroke="#2a2a2a" stroke-width="0.6"/>
<rect x="545" y="283" width="1.2" height="1.2" fill="#1a1a1a"/><rect x="548" y="283" width="1.2" height="1.2" fill="#1a1a1a"/>
<line x1="543.5" y1="285.5" x2="551" y2="285.5" stroke="#2a2a2a" stroke-width="0.6"/>
<rect x="545" y="287" width="1.2" height="1.2" fill="#1a1a1a"/><rect x="548" y="287" width="1.2" height="1.2" fill="#1a1a1a"/>
<line x1="543.5" y1="289.5" x2="551" y2="289.5" stroke="#2a2a2a" stroke-width="0.6"/>
<rect x="545" y="291" width="1.2" height="1.2" fill="#1a1a1a"/><rect x="548" y="291" width="1.2" height="1.2" fill="#1a1a1a"/>
<line x1="543.5" y1="293.5" x2="551" y2="293.5" stroke="#2a2a2a" stroke-width="0.6"/>
<rect x="545" y="294" width="1.2" height="1.2" fill="#1a1a1a"/><rect x="548" y="294" width="1.2" height="1.2" fill="#1a1a1a"/>
<line x1="543.5" y1="296.5" x2="551" y2="296.5" stroke="#2a2a2a" stroke-width="0.6"/>
<rect x="545" y="298" width="1.2" height="1.2" fill="#1a1a1a"/><rect x="548" y="298" width="1.2" height="1.2" fill="#1a1a1a"/>
<line x1="543.5" y1="300.5" x2="551" y2="300.5" stroke="#2a2a2a" stroke-width="0.6"/>
<rect x="545" y="302" width="1.2" height="1.2" fill="#1a1a1a"/><rect x="548" y="302" width="1.2" height="1.2" fill="#1a1a1a"/>
<line x1="543.5" y1="304.5" x2="551" y2="304.5" stroke="#2a2a2a" stroke-width="0.6"/>
<rect x="545" y="305" width="1.2" height="1.2" fill="#1a1a1a"/><rect x="548" y="305" width="1.2" height="1.2" fill="#1a1a1a"/>
<line x1="543.5" y1="307.5" x2="551" y2="307.5" stroke="#2a2a2a" stroke-width="0.6"/>
<rect x="545" y="309" width="1.2" height="1.2" fill="#1a1a1a"/><rect x="548" y="309" width="1.2" height="1.2" fill="#1a1a1a"/>
<line x1="543.5" y1="311.5" x2="551" y2="311.5" stroke="#2a2a2a" stroke-width="0.6"/>
<rect x="545" y="312" width="1.2" height="1.2" fill="#1a1a1a"/><rect x="548" y="312" width="1.2" height="1.2" fill="#1a1a1a"/>
<line x1="543.5" y1="314.5" x2="551" y2="314.5" stroke="#2a2a2a" stroke-width="0.6"/>
<rect x="545" y="316" width="1.2" height="1.2" fill="#1a1a1a"/><rect x="548" y="316" width="1.2" height="1.2" fill="#1a1a1a"/>
<line x1="543.5" y1="318.5" x2="551" y2="318.5" stroke="#2a2a2a" stroke-width="0.6"/>
<rect x="545" y="320" width="1.2" height="1.2" fill="#1a1a1a"/><rect x="548" y="320" width="1.2" height="1.2" fill="#1a1a1a"/>
<line x1="543.5" y1="322.5" x2="551" y2="322.5" stroke="#2a2a2a" stroke-width="0.6"/>
<rect x="545" y="323" width="1.2" height="1.2" fill="#1a1a1a"/><rect x="548" y="323" width="1.2" height="1.2" fill="#1a1a1a"/>
<line x1="543.5" y1="325.5" x2="551" y2="325.5" stroke="#2a2a2a" stroke-width="0.6"/>
<rect x="545" y="327" width="1.2" height="1.2" fill="#1a1a1a"/><rect x="548" y="327" width="1.2" height="1.2" fill="#1a1a1a"/>
<line x1="543.5" y1="329.5" x2="551" y2="329.5" stroke="#2a2a2a" stroke-width="0.6"/>
<rect x="545" y="330" width="1.2" height="1.2" fill="#1a1a1a"/><rect x="548" y="330" width="1.2" height="1.2" fill="#1a1a1a"/>
<line x1="543.5" y1="332.5" x2="551" y2="332.5" stroke="#2a2a2a" stroke-width="0.6"/>
<rect x="545" y="334" width="1.2" height="1.2" fill="#1a1a1a"/><rect x="548" y="334" width="1.2" height="1.2" fill="#1a1a1a"/>
<line x1="543.5" y1="336.5" x2="551" y2="336.5" stroke="#2a2a2a" stroke-width="0.6"/>
<rect x="545" y="338" width="1.2" height="1.2" fill="#1a1a1a"/><rect x="548" y="338" width="1.2" height="1.2" fill="#1a1a1a"/>
<line x1="543.5" y1="340.5" x2="551" y2="340.5" stroke="#2a2a2a" stroke-width="0.6"/>
<rect x="545" y="341" width="1.2" height="1.2" fill="#1a1a1a"/><rect x="548" y="341" width="1.2" height="1.2" fill="#1a1a1a"/>
<line x1="543.5" y1="343.5" x2="551" y2="343.5" stroke="#2a2a2a" stroke-width="0.6"/>
<rect x="545" y="345" width="1.2" height="1.2" fill="#1a1a1a"/><rect x="548" y="345" width="1.2" height="1.2" fill="#1a1a1a"/>
<line x1="543.5" y1="347.5" x2="551" y2="347.5" stroke="#2a2a2a" stroke-width="0.6"/>
<rect x="545" y="348" width="1.2" height="1.2" fill="#1a1a1a"/><rect x="548" y="348" width="1.2" height="1.2" fill="#1a1a1a"/>
<line x1="543.5" y1="350.5" x2="551" y2="350.5" stroke="#2a2a2a" stroke-width="0.6"/>
<rect x="545" y="352" width="1.2" height="1.2" fill="#1a1a1a"/><rect x="548" y="352" width="1.2" height="1.2" fill="#1a1a1a"/>
<line x1="543.5" y1="354.5" x2="551" y2="354.5" stroke="#2a2a2a" stroke-width="0.6"/>
<rect x="545" y="356" width="1.2" height="1.2" fill="#1a1a1a"/><rect x="548" y="356" width="1.2" height="1.2" fill="#1a1a1a"/>
<line x1="543.5" y1="358.5" x2="551" y2="358.5" stroke="#2a2a2a" stroke-width="0.6"/>
<rect x="545" y="359" width="1.2" height="1.2" fill="#1a1a1a"/><rect x="548" y="359" width="1.2" height="1.2" fill="#1a1a1a"/>
<line x1="543.5" y1="361.5" x2="551" y2="361.5" stroke="#2a2a2a" stroke-width="0.6"/>
<rect x="545" y="363" width="1.2" height="1.2" fill="#1a1a1a"/><rect x="548" y="363" width="1.2" height="1.2" fill="#1a1a1a"/>
<line x1="543.5" y1="365.5" x2="551" y2="365.5" stroke="#2a2a2a" stroke-width="0.6"/>
<rect x="545" y="366" width="1.2" height="1.2" fill="#1a1a1a"/><rect x="548" y="366" width="1.2" height="1.2" fill="#1a1a1a"/>
<line x1="543.5" y1="368.5" x2="551" y2="368.5" stroke="#2a2a2a" stroke-width="0.6"/>
<rect x="545" y="370" width="1.2" height="1.2" fill="#1a1a1a"/><rect x="548" y="370" width="1.2" height="1.2" fill="#1a1a1a"/>
<line x1="543.5" y1="372.5" x2="551" y2="372.5" stroke="#2a2a2a" stroke-width="0.6"/>
<rect x="545" y="374" width="1.2" height="1.2" fill="#1a1a1a"/><rect x="548" y="374" width="1.2" height="1.2" fill="#1a1a1a"/>
<line x1="543.5" y1="376.5" x2="551" y2="376.5" stroke="#2a2a2a" stroke-width="0.6"/>
<rect x="545" y="377" width="1.2" height="1.2" fill="#1a1a1a"/><rect x="548" y="377" width="1.2" height="1.2" fill="#1a1a1a"/>
<line x1="543.5" y1="379.5" x2="551" y2="379.5" stroke="#2a2a2a" stroke-width="0.6"/>
<rect x="545" y="381" width="1.2" height="1.2" fill="#1a1a1a"/><rect x="548" y="381" width="1.2" height="1.2" fill="#1a1a1a"/>
<line x1="543.5" y1="383.5" x2="551" y2="383.5" stroke="#2a2a2a" stroke-width="0.6"/>
<rect x="545" y="384" width="1.2" height="1.2" fill="#1a1a1a"/><rect x="548" y="384" width="1.2" height="1.2" fill="#1a1a1a"/>
<line x1="543.5" y1="386.5" x2="551" y2="386.5" stroke="#2a2a2a" stroke-width="0.6"/>
<rect x="545" y="388" width="1.2" height="1.2" fill="#1a1a1a"/><rect x="548" y="388" width="1.2" height="1.2" fill="#1a1a1a"/>
<line x1="543.5" y1="390.5" x2="551" y2="390.5" stroke="#2a2a2a" stroke-width="0.6"/>
<rect x="545" y="392" width="1.2" height="1.2" fill="#1a1a1a"/><rect x="548" y="392" width="1.2" height="1.2" fill="#1a1a1a"/>
<line x1="543.5" y1="394.5" x2="551" y2="394.5" stroke="#2a2a2a" stroke-width="0.6"/>
<rect x="545" y="395" width="1.2" height="1.2" fill="#1a1a1a"/><rect x="548" y="395" width="1.2" height="1.2" fill="#1a1a1a"/>
<line x1="543.5" y1="397.5" x2="551" y2="397.5" stroke="#2a2a2a" stroke-width="0.6"/>
<rect x="545" y="399" width="1.2" height="1.2" fill="#1a1a1a"/><rect x="548" y="399" width="1.2" height="1.2" fill="#1a1a1a"/>
<line x1="543.5" y1="401.5" x2="551" y2="401.5" stroke="#2a2a2a" stroke-width="0.6"/>
<rect x="545" y="402" width="1.2" height="1.2" fill="#1a1a1a"/><rect x="548" y="402" width="1.2" height="1.2" fill="#1a1a1a"/>
<line x1="543.5" y1="404.5" x2="551" y2="404.5" stroke="#2a2a2a" stroke-width="0.6"/>
<rect x="545" y="406" width="1.2" height="1.2" fill="#1a1a1a"/><rect x="548" y="406" width="1.2" height="1.2" fill="#1a1a1a"/>
<line x1="543.5" y1="408.5" x2="551" y2="408.5" stroke="#2a2a2a" stroke-width="0.6"/>
<rect x="545" y="410" width="1.2" height="1.2" fill="#1a1a1a"/><rect x="548" y="410" width="1.2" height="1.2" fill="#1a1a1a"/>
<line x1="543.5" y1="412.5" x2="551" y2="412.5" stroke="#2a2a2a" stroke-width="0.6"/>
<rect x="545" y="413" width="1.2" height="1.2" fill="#1a1a1a"/><rect x="548" y="413" width="1.2" height="1.2" fill="#1a1a1a"/>
<line x1="543.5" y1="415.5" x2="551" y2="415.5" stroke="#2a2a2a" stroke-width="0.6"/>
<rect x="545" y="417" width="1.2" height="1.2" fill="#1a1a1a"/><rect x="548" y="417" width="1.2" height="1.2" fill="#1a1a1a"/>
<line x1="543.5" y1="419.5" x2="551" y2="419.5" stroke="#2a2a2a" stroke-width="0.6"/>
<rect x="545" y="420" width="1.2" height="1.2" fill="#1a1a1a"/><rect x="548" y="420" width="1.2" height="1.2" fill="#1a1a1a"/>
<line x1="543.5" y1="422.5" x2="551" y2="422.5" stroke="#2a2a2a" stroke-width="0.6"/>
<rect x="545" y="424" width="1.2" height="1.2" fill="#1a1a1a"/><rect x="548" y="424" width="1.2" height="1.2" fill="#1a1a1a"/>
<line x1="543.5" y1="426.5" x2="551" y2="426.5" stroke="#2a2a2a" stroke-width="0.6"/>
<rect x="545" y="428" width="1.2" height="1.2" fill="#1a1a1a"/><rect x="548" y="428" width="1.2" height="1.2" fill="#1a1a1a"/>
<line x1="543.5" y1="430.5" x2="551" y2="430.5" stroke="#2a2a2a" stroke-width="0.6"/>
<rect x="545" y="431" width="1.2" height="1.2" fill="#1a1a1a"/><rect x="548" y="431" width="1.2" height="1.2" fill="#1a1a1a"/>
<line x1="543.5" y1="433.5" x2="551" y2="433.5" stroke="#2a2a2a" stroke-width="0.6"/>
<rect x="545" y="435" width="1.2" height="1.2" fill="#1a1a1a"/><rect x="548" y="435" width="1.2" height="1.2" fill="#1a1a1a"/>
<line x1="543.5" y1="437.5" x2="551" y2="437.5" stroke="#2a2a2a" stroke-width="0.6"/>
<rect x="545" y="438" width="1.2" height="1.2" fill="#1a1a1a"/><rect x="548" y="438" width="1.2" height="1.2" fill="#1a1a1a"/>
<line x1="543.5" y1="440.5" x2="551" y2="440.5" stroke="#2a2a2a" stroke-width="0.6"/>
<rect x="545" y="442" width="1.2" height="1.2" fill="#1a1a1a"/><rect x="548" y="442" width="1.2" height="1.2" fill="#1a1a1a"/>
<line x1="543.5" y1="444.5" x2="551" y2="444.5" stroke="#2a2a2a" stroke-width="0.6"/>
<rect x="545" y="446" width="1.2" height="1.2" fill="#1a1a1a"/><rect x="548" y="446" width="1.2" height="1.2" fill="#1a1a1a"/>
<line x1="543.5" y1="448.5" x2="551" y2="448.5" stroke="#2a2a2a" stroke-width="0.6"/>
<rect x="545" y="449" width="1.2" height="1.2" fill="#1a1a1a"/><rect x="548" y="449" width="1.2" height="1.2" fill="#1a1a1a"/>
<line x1="543.5" y1="451.5" x2="551" y2="451.5" stroke="#2a2a2a" stroke-width="0.6"/>
<rect x="545" y="453" width="1.2" height="1.2" fill="#1a1a1a"/><rect x="548" y="453" width="1.2" height="1.2" fill="#1a1a1a"/>
<line x1="543.5" y1="455.5" x2="551" y2="455.5" stroke="#2a2a2a" stroke-width="0.6"/>
<rect x="545" y="456" width="1.2" height="1.2" fill="#1a1a1a"/><rect x="548" y="456" width="1.2" height="1.2" fill="#1a1a1a"/>
<line x1="543.5" y1="458.5" x2="551" y2="458.5" stroke="#2a2a2a" stroke-width="0.6"/>
<rect x="545" y="460" width="1.2" height="1.2" fill="#1a1a1a"/><rect x="548" y="460" width="1.2" height="1.2" fill="#1a1a1a"/>
<line x1="543.5" y1="462.5" x2="551" y2="462.5" stroke="#2a2a2a" stroke-width="0.6"/>
<rect x="545" y="464" width="1.2" height="1.2" fill="#1a1a1a"/><rect x="548" y="464" width="1.2" height="1.2" fill="#1a1a1a"/>
<line x1="543.5" y1="466.5" x2="551" y2="466.5" stroke="#2a2a2a" stroke-width="0.6"/>
<rect x="545" y="467" width="1.2" height="1.2" fill="#1a1a1a"/><rect x="548" y="467" width="1.2" height="1.2" fill="#1a1a1a"/>
<line x1="543.5" y1="469.5" x2="551" y2="469.5" stroke="#2a2a2a" stroke-width="0.6"/>
<rect x="545" y="471" width="1.2" height="1.2" fill="#1a1a1a"/><rect x="548" y="471" width="1.2" height="1.2" fill="#1a1a1a"/>
<line x1="543.5" y1="473.5" x2="551" y2="473.5" stroke="#2a2a2a" stroke-width="0.6"/>
<rect x="545" y="474" width="1.2" height="1.2" fill="#1a1a1a"/><rect x="548" y="474" width="1.2" height="1.2" fill="#1a1a1a"/>
<line x1="543.5" y1="476.5" x2="551" y2="476.5" stroke="#2a2a2a" stroke-width="0.6"/>
<rect x="545" y="478" width="1.2" height="1.2" fill="#1a1a1a"/><rect x="548" y="478" width="1.2" height="1.2" fill="#1a1a1a"/>
<line x1="543.5" y1="480.5" x2="551" y2="480.5" stroke="#2a2a2a" stroke-width="0.6"/>
<rect x="545" y="482" width="1.2" height="1.2" fill="#1a1a1a"/><rect x="548" y="482" width="1.2" height="1.2" fill="#1a1a1a"/>
<line x1="543.5" y1="484.5" x2="551" y2="484.5" stroke="#2a2a2a" stroke-width="0.6"/>
<rect x="545" y="485" width="1.2" height="1.2" fill="#1a1a1a"/><rect x="548" y="485" width="1.2" height="1.2" fill="#1a1a1a"/>
<line x1="543.5" y1="487.5" x2="551" y2="487.5" stroke="#2a2a2a" stroke-width="0.6"/>
<rect x="545" y="489" width="1.2" height="1.2" fill="#1a1a1a"/><rect x="548" y="489" width="1.2" height="1.2" fill="#1a1a1a"/>
<line x1="543.5" y1="491.5" x2="551" y2="491.5" stroke="#2a2a2a" stroke-width="0.6"/>
<rect x="545" y="492" width="1.2" height="1.2" fill="#1a1a1a"/><rect x="548" y="492" width="1.2" height="1.2" fill="#1a1a1a"/>
<line x1="543.5" y1="494.5" x2="551" y2="494.5" stroke="#2a2a2a" stroke-width="0.6"/>
<rect x="545" y="496" width="1.2" height="1.2" fill="#1a1a1a"/><rect x="548" y="496" width="1.2" height="1.2" fill="#1a1a1a"/>
<line x1="543.5" y1="498.5" x2="551" y2="498.5" stroke="#2a2a2a" stroke-width="0.6"/>
<rect x="545" y="500" width="1.2" height="1.2" fill="#1a1a1a"/><rect x="548" y="500" width="1.2" height="1.2" fill="#1a1a1a"/>
<line x1="543.5" y1="502.5" x2="551" y2="502.5" stroke="#2a2a2a" stroke-width="0.6"/>
<rect x="545" y="503" width="1.2" height="1.2" fill="#1a1a1a"/><rect x="548" y="503" width="1.2" height="1.2" fill="#1a1a1a"/>
<line x1="543.5" y1="505.5" x2="551" y2="505.5" stroke="#2a2a2a" stroke-width="0.6"/>
<rect x="545" y="507" width="1.2" height="1.2" fill="#1a1a1a"/><rect x="548" y="507" width="1.2" height="1.2" fill="#1a1a1a"/>
<line x1="543.5" y1="509.5" x2="551" y2="509.5" stroke="#2a2a2a" stroke-width="0.6"/>
<rect x="545" y="510" width="1.2" height="1.2" fill="#1a1a1a"/><rect x="548" y="510" width="1.2" height="1.2" fill="#1a1a1a"/>
<line x1="543.5" y1="512.5" x2="551" y2="512.5" stroke="#2a2a2a" stroke-width="0.6"/>
<rect x="545" y="514" width="1.2" height="1.2" fill="#1a1a1a"/><rect x="548" y="514" width="1.2" height="1.2" fill="#1a1a1a"/>
<line x1="543.5" y1="516.5" x2="551" y2="516.5" stroke="#2a2a2a" stroke-width="0.6"/>
<rect x="545" y="518" width="1.2" height="1.2" fill="#1a1a1a"/><rect x="548" y="518" width="1.2" height="1.2" fill="#1a1a1a"/>
<line x1="543.5" y1="520.5" x2="551" y2="520.5" stroke="#2a2a2a" stroke-width="0.6"/>
<rect x="545" y="521" width="1.2" height="1.2" fill="#1a1a1a"/><rect x="548" y="521" width="1.2" height="1.2" fill="#1a1a1a"/>
<line x1="543.5" y1="523.5" x2="551" y2="523.5" stroke="#2a2a2a" stroke-width="0.6"/>
<rect x="545" y="525" width="1.2" height="1.2" fill="#1a1a1a"/><rect x="548" y="525" width="1.2" height="1.2" fill="#1a1a1a"/>
<line x1="543.5" y1="527.5" x2="551" y2="527.5" stroke="#2a2a2a" stroke-width="0.6"/>
<rect x="545" y="528" width="1.2" height="1.2" fill="#1a1a1a"/><rect x="548" y="528" width="1.2" height="1.2" fill="#1a1a1a"/>
<line x1="543.5" y1="530.5" x2="551" y2="530.5" stroke="#2a2a2a" stroke-width="0.6"/>
<rect x="543.5" y="54.20" width="39.00" height="2.40" rx="1" fill="#979797" stroke="#333" stroke-width="0.65"/>
<rect x="558.0" y="54.85" width="1.1" height="1.1" fill="#111"/>
<rect x="566.0" y="54.85" width="1.1" height="1.1" fill="#111"/>
<rect x="574.0" y="54.85" width="1.1" height="1.1" fill="#111"/>
<rect x="543.5" y="58.80" width="39.00" height="2.00" rx="1" fill="#979797" stroke="#333" stroke-width="0.65"/>
<rect x="558.0" y="59.25" width="1.1" height="1.1" fill="#111"/>
<rect x="566.0" y="59.25" width="1.1" height="1.1" fill="#111"/>
<rect x="574.0" y="59.25" width="1.1" height="1.1" fill="#111"/>
<rect x="543.5" y="65.50" width="23.40" height="2.00" rx="1" fill="#979797" stroke="#333" stroke-width="0.65"/>
<rect x="558.0" y="65.95" width="1.1" height="1.1" fill="#111"/>
<rect x="543.5" y="73.10" width="23.40" height="2.00" rx="1" fill="#979797" stroke="#333" stroke-width="0.65"/>
<rect x="558.0" y="73.55" width="1.1" height="1.1" fill="#111"/>
<rect x="543.5" y="79.90" width="23.40" height="3.40" rx="1" fill="#979797" stroke="#333" stroke-width="0.65"/>
<rect x="558.0" y="81.05" width="1.1" height="1.1" fill="#111"/>
<rect x="543.5" y="89.80" width="39.00" height="2.40" rx="1" fill="#979797" stroke="#333" stroke-width="0.65"/>
<rect x="558.0" y="90.45" width="1.1" height="1.1" fill="#111"/>
<rect x="566.0" y="90.45" width="1.1" height="1.1" fill="#111"/>
<rect x="574.0" y="90.45" width="1.1" height="1.1" fill="#111"/>
<rect x="543.5" y="95.70" width="30.90" height="3.20" rx="1" fill="#979797" stroke="#333" stroke-width="0.65"/>
<rect x="558.0" y="96.75" width="1.1" height="1.1" fill="#111"/>
<rect x="566.0" y="96.75" width="1.1" height="1.1" fill="#111"/>
<rect x="543.5" y="101.70" width="30.90" height="2.70" rx="1" fill="#979797" stroke="#333" stroke-width="0.65"/>
<rect x="558.0" y="102.50" width="1.1" height="1.1" fill="#111"/>
<rect x="566.0" y="102.50" width="1.1" height="1.1" fill="#111"/>
<rect x="543.5" y="106.10" width="15.25" height="2.10" rx="1" fill="#979797" stroke="#333" stroke-width="0.65"/>
<rect x="543.5" y="117.60" width="39.20" height="4.20" rx="1" fill="#979797" stroke="#333" stroke-width="0.65"/>
<rect x="558.0" y="119.15" width="1.1" height="1.1" fill="#111"/>
<rect x="566.0" y="119.15" width="1.1" height="1.1" fill="#111"/>
<rect x="574.0" y="119.15" width="1.1" height="1.1" fill="#111"/>
<rect x="543.5" y="127.50" width="23.10" height="2.10" rx="1" fill="#979797" stroke="#333" stroke-width="0.65"/>
<rect x="558.0" y="128.00" width="1.1" height="1.1" fill="#111"/>
<rect x="543.5" y="130.60" width="23.10" height="2.10" rx="1" fill="#979797" stroke="#333" stroke-width="0.65"/>
<rect x="558.0" y="131.10" width="1.1" height="1.1" fill="#111"/>
<rect x="543.5" y="137.40" width="30.90" height="2.40" rx="1" fill="#979797" stroke="#333" stroke-width="0.65"/>
<rect x="558.0" y="138.05" width="1.1" height="1.1" fill="#111"/>
<rect x="566.0" y="138.05" width="1.1" height="1.1" fill="#111"/>
<rect x="543.5" y="142.60" width="39.20" height="2.10" rx="1" fill="#979797" stroke="#333" stroke-width="0.65"/>
<rect x="558.0" y="143.10" width="1.1" height="1.1" fill="#111"/>
<rect x="566.0" y="143.10" width="1.1" height="1.1" fill="#111"/>
<rect x="574.0" y="143.10" width="1.1" height="1.1" fill="#111"/>
<rect x="543.5" y="146.25" width="39.20" height="2.05" rx="1" fill="#979797" stroke="#333" stroke-width="0.65"/>
<rect x="558.0" y="146.72" width="1.1" height="1.1" fill="#111"/>
<rect x="566.0" y="146.72" width="1.1" height="1.1" fill="#111"/>
<rect x="574.0" y="146.72" width="1.1" height="1.1" fill="#111"/>
<rect x="543.5" y="149.60" width="39.20" height="2.10" rx="1" fill="#979797" stroke="#333" stroke-width="0.65"/>
<rect x="558.0" y="150.10" width="1.1" height="1.1" fill="#111"/>
<rect x="566.0" y="150.10" width="1.1" height="1.1" fill="#111"/>
<rect x="574.0" y="150.10" width="1.1" height="1.1" fill="#111"/>
<rect x="543.5" y="154.30" width="39.20" height="2.10" rx="1" fill="#979797" stroke="#333" stroke-width="0.65"/>
<rect x="558.0" y="154.80" width="1.1" height="1.1" fill="#111"/>
<rect x="566.0" y="154.80" width="1.1" height="1.1" fill="#111"/>
<rect x="574.0" y="154.80" width="1.1" height="1.1" fill="#111"/>
<rect x="543.5" y="162.50" width="23.10" height="1.70" rx="1" fill="#979797" stroke="#333" stroke-width="0.65"/>
<rect x="558.0" y="162.80" width="1.1" height="1.1" fill="#111"/>
<rect x="543.5" y="166.00" width="23.10" height="1.90" rx="1" fill="#979797" stroke="#333" stroke-width="0.65"/>
<rect x="558.0" y="166.40" width="1.1" height="1.1" fill="#111"/>
<rect x="543.5" y="169.75" width="23.10" height="1.75" rx="1" fill="#979797" stroke="#333" stroke-width="0.65"/>
<rect x="558.0" y="170.07" width="1.1" height="1.1" fill="#111"/>
<rect x="543.5" y="174.10" width="30.90" height="2.60" rx="1" fill="#979797" stroke="#333" stroke-width="0.65"/>
<rect x="558.0" y="174.85" width="1.1" height="1.1" fill="#111"/>
<rect x="566.0" y="174.85" width="1.1" height="1.1" fill="#111"/>
<rect x="543.5" y="180.90" width="39.20" height="2.60" rx="1" fill="#979797" stroke="#333" stroke-width="0.65"/>
<rect x="558.0" y="181.65" width="1.1" height="1.1" fill="#111"/>
<rect x="566.0" y="181.65" width="1.1" height="1.1" fill="#111"/>
<rect x="574.0" y="181.65" width="1.1" height="1.1" fill="#111"/>
<rect x="543.5" y="187.10" width="39.20" height="6.30" rx="1" fill="#979797" stroke="#333" stroke-width="0.65"/>
<rect x="558.0" y="189.70" width="1.1" height="1.1" fill="#111"/>
<rect x="566.0" y="189.70" width="1.1" height="1.1" fill="#111"/>
<rect x="574.0" y="189.70" width="1.1" height="1.1" fill="#111"/>
<rect x="543.5" y="196.00" width="39.20" height="3.10" rx="1" fill="#979797" stroke="#333" stroke-width="0.65"/>
<rect x="558.0" y="197.00" width="1.1" height="1.1" fill="#111"/>
<rect x="566.0" y="197.00" width="1.1" height="1.1" fill="#111"/>
<rect x="574.0" y="197.00" width="1.1" height="1.1" fill="#111"/>
<rect x="543.5" y="200.70" width="39.20" height="2.10" rx="1" fill="#979797" stroke="#333" stroke-width="0.65"/>
<rect x="558.0" y="201.20" width="1.1" height="1.1" fill="#111"/>
<rect x="566.0" y="201.20" width="1.1" height="1.1" fill="#111"/>
<rect x="574.0" y="201.20" width="1.1" height="1.1" fill="#111"/>
<rect x="543.5" y="204.30" width="39.20" height="2.40" rx="1" fill="#979797" stroke="#333" stroke-width="0.65"/>
<rect x="558.0" y="204.95" width="1.1" height="1.1" fill="#111"/>
<rect x="566.0" y="204.95" width="1.1" height="1.1" fill="#111"/>
<rect x="574.0" y="204.95" width="1.1" height="1.1" fill="#111"/>
<rect x="543.5" y="207.70" width="39.20" height="2.10" rx="1" fill="#979797" stroke="#333" stroke-width="0.65"/>
<rect x="558.0" y="208.20" width="1.1" height="1.1" fill="#111"/>
<rect x="566.0" y="208.20" width="1.1" height="1.1" fill="#111"/>
<rect x="574.0" y="208.20" width="1.1" height="1.1" fill="#111"/>
<rect x="543.5" y="211.40" width="30.90" height="1.50" rx="1" fill="#979797" stroke="#333" stroke-width="0.65"/>
<rect x="558.0" y="211.60" width="1.1" height="1.1" fill="#111"/>
<rect x="566.0" y="211.60" width="1.1" height="1.1" fill="#111"/>
<rect x="543.5" y="214.50" width="23.10" height="2.60" rx="1" fill="#979797" stroke="#333" stroke-width="0.65"/>
<rect x="558.0" y="215.25" width="1.1" height="1.1" fill="#111"/>
<rect x="543.5" y="219.50" width="39.20" height="2.10" rx="1" fill="#979797" stroke="#333" stroke-width="0.65"/>
<rect x="558.0" y="220.00" width="1.1" height="1.1" fill="#111"/>
<rect x="566.0" y="220.00" width="1.1" height="1.1" fill="#111"/>
<rect x="574.0" y="220.00" width="1.1" height="1.1" fill="#111"/>
<rect x="543.5" y="222.30" width="23.10" height="2.40" rx="1" fill="#979797" stroke="#333" stroke-width="0.65"/>
<rect x="558.0" y="222.95" width="1.1" height="1.1" fill="#111"/>
<rect x="543.5" y="225.75" width="39.20" height="2.05" rx="1" fill="#979797" stroke="#333" stroke-width="0.65"/>
<rect x="558.0" y="226.22" width="1.1" height="1.1" fill="#111"/>
<rect x="566.0" y="226.22" width="1.1" height="1.1" fill="#111"/>
<rect x="574.0" y="226.22" width="1.1" height="1.1" fill="#111"/>
<rect x="543.5" y="234.30" width="39.20" height="2.60" rx="1" fill="#979797" stroke="#333" stroke-width="0.65"/>
<rect x="558.0" y="235.05" width="1.1" height="1.1" fill="#111"/>
<rect x="566.0" y="235.05" width="1.1" height="1.1" fill="#111"/>
<rect x="574.0" y="235.05" width="1.1" height="1.1" fill="#111"/>
<rect x="543.5" y="239.00" width="39.20" height="2.00" rx="1" fill="#979797" stroke="#333" stroke-width="0.65"/>
<rect x="558.0" y="239.45" width="1.1" height="1.1" fill="#111"/>
<rect x="566.0" y="239.45" width="1.1" height="1.1" fill="#111"/>
<rect x="574.0" y="239.45" width="1.1" height="1.1" fill="#111"/>
<rect x="543.5" y="243.70" width="39.20" height="3.10" rx="1" fill="#979797" stroke="#333" stroke-width="0.65"/>
<rect x="558.0" y="244.70" width="1.1" height="1.1" fill="#111"/>
<rect x="566.0" y="244.70" width="1.1" height="1.1" fill="#111"/>
<rect x="574.0" y="244.70" width="1.1" height="1.1" fill="#111"/>
<rect x="543.5" y="247.80" width="39.20" height="3.70" rx="1" fill="#979797" stroke="#333" stroke-width="0.65"/>
<rect x="558.0" y="249.10" width="1.1" height="1.1" fill="#111"/>
<rect x="566.0" y="249.10" width="1.1" height="1.1" fill="#111"/>
<rect x="574.0" y="249.10" width="1.1" height="1.1" fill="#111"/>
<rect x="543.5" y="255.10" width="23.10" height="2.10" rx="1" fill="#979797" stroke="#333" stroke-width="0.65"/>
<rect x="558.0" y="255.60" width="1.1" height="1.1" fill="#111"/>
<rect x="543.5" y="258.25" width="39.20" height="3.35" rx="1" fill="#979797" stroke="#333" stroke-width="0.65"/>
<rect x="558.0" y="259.38" width="1.1" height="1.1" fill="#111"/>
<rect x="566.0" y="259.38" width="1.1" height="1.1" fill="#111"/>
<rect x="574.0" y="259.38" width="1.1" height="1.1" fill="#111"/>
<rect x="543.5" y="263.20" width="39.20" height="2.10" rx="1" fill="#979797" stroke="#333" stroke-width="0.65"/>
<rect x="558.0" y="263.70" width="1.1" height="1.1" fill="#111"/>
<rect x="566.0" y="263.70" width="1.1" height="1.1" fill="#111"/>
<rect x="574.0" y="263.70" width="1.1" height="1.1" fill="#111"/>
<rect x="543.5" y="266.90" width="39.20" height="3.40" rx="1" fill="#979797" stroke="#333" stroke-width="0.65"/>
<rect x="558.0" y="268.05" width="1.1" height="1.1" fill="#111"/>
<rect x="566.0" y="268.05" width="1.1" height="1.1" fill="#111"/>
<rect x="574.0" y="268.05" width="1.1" height="1.1" fill="#111"/>
<rect x="543.5" y="274.10" width="39.20" height="2.10" rx="1" fill="#979797" stroke="#333" stroke-width="0.65"/>
<rect x="558.0" y="274.60" width="1.1" height="1.1" fill="#111"/>
<rect x="566.0" y="274.60" width="1.1" height="1.1" fill="#111"/>
<rect x="574.0" y="274.60" width="1.1" height="1.1" fill="#111"/>
<rect x="543.5" y="277.80" width="39.20" height="3.95" rx="1" fill="#979797" stroke="#333" stroke-width="0.65"/>
<rect x="558.0" y="279.22" width="1.1" height="1.1" fill="#111"/>
<rect x="566.0" y="279.22" width="1.1" height="1.1" fill="#111"/>
<rect x="574.0" y="279.22" width="1.1" height="1.1" fill="#111"/>
<rect x="543.5" y="284.90" width="39.20" height="2.10" rx="1" fill="#979797" stroke="#333" stroke-width="0.65"/>
<rect x="558.0" y="285.40" width="1.1" height="1.1" fill="#111"/>
<rect x="566.0" y="285.40" width="1.1" height="1.1" fill="#111"/>
<rect x="574.0" y="285.40" width="1.1" height="1.1" fill="#111"/>
<rect x="543.5" y="290.80" width="39.20" height="3.70" rx="1" fill="#979797" stroke="#333" stroke-width="0.65"/>
<rect x="558.0" y="292.10" width="1.1" height="1.1" fill="#111"/>
<rect x="566.0" y="292.10" width="1.1" height="1.1" fill="#111"/>
<rect x="574.0" y="292.10" width="1.1" height="1.1" fill="#111"/>
<rect x="543.5" y="300.70" width="23.10" height="1.90" rx="1" fill="#979797" stroke="#333" stroke-width="0.65"/>
<rect x="558.0" y="301.10" width="1.1" height="1.1" fill="#111"/>
<rect x="543.5" y="304.00" width="23.10" height="1.90" rx="1" fill="#979797" stroke="#333" stroke-width="0.65"/>
<rect x="558.0" y="304.40" width="1.1" height="1.1" fill="#111"/>
<rect x="543.5" y="309.00" width="39.20" height="3.20" rx="1" fill="#979797" stroke="#333" stroke-width="0.65"/>
<rect x="558.0" y="310.05" width="1.1" height="1.1" fill="#111"/>
<rect x="566.0" y="310.05" width="1.1" height="1.1" fill="#111"/>
<rect x="574.0" y="310.05" width="1.1" height="1.1" fill="#111"/>
<rect x="543.5" y="314.25" width="39.20" height="2.35" rx="1" fill="#979797" stroke="#333" stroke-width="0.65"/>
<rect x="558.0" y="314.88" width="1.1" height="1.1" fill="#111"/>
<rect x="566.0" y="314.88" width="1.1" height="1.1" fill="#111"/>
<rect x="574.0" y="314.88" width="1.1" height="1.1" fill="#111"/>
<rect x="543.5" y="319.20" width="39.20" height="2.10" rx="1" fill="#979797" stroke="#333" stroke-width="0.65"/>
<rect x="558.0" y="319.70" width="1.1" height="1.1" fill="#111"/>
<rect x="566.0" y="319.70" width="1.1" height="1.1" fill="#111"/>
<rect x="574.0" y="319.70" width="1.1" height="1.1" fill="#111"/>
<rect x="543.5" y="322.30" width="39.20" height="2.40" rx="1" fill="#979797" stroke="#333" stroke-width="0.65"/>
<rect x="558.0" y="322.95" width="1.1" height="1.1" fill="#111"/>
<rect x="566.0" y="322.95" width="1.1" height="1.1" fill="#111"/>
<rect x="574.0" y="322.95" width="1.1" height="1.1" fill="#111"/>
<rect x="543.5" y="325.70" width="39.20" height="1.30" rx="1" fill="#979797" stroke="#333" stroke-width="0.65"/>
<rect x="558.0" y="325.80" width="1.1" height="1.1" fill="#111"/>
<rect x="566.0" y="325.80" width="1.1" height="1.1" fill="#111"/>
<rect x="574.0" y="325.80" width="1.1" height="1.1" fill="#111"/>
<rect x="543.5" y="329.10" width="15.25" height="1.80" rx="1" fill="#979797" stroke="#333" stroke-width="0.65"/>
<rect x="543.5" y="332.75" width="15.25" height="2.65" rx="1" fill="#979797" stroke="#333" stroke-width="0.65"/>
<rect x="543.5" y="337.40" width="39.20" height="2.10" rx="1" fill="#979797" stroke="#333" stroke-width="0.65"/>
<rect x="558.0" y="337.90" width="1.1" height="1.1" fill="#111"/>
<rect x="566.0" y="337.90" width="1.1" height="1.1" fill="#111"/>
<rect x="574.0" y="337.90" width="1.1" height="1.1" fill="#111"/>
<rect x="543.5" y="345.00" width="39.20" height="2.10" rx="1" fill="#979797" stroke="#333" stroke-width="0.65"/>
<rect x="558.0" y="345.50" width="1.1" height="1.1" fill="#111"/>
<rect x="566.0" y="345.50" width="1.1" height="1.1" fill="#111"/>
<rect x="574.0" y="345.50" width="1.1" height="1.1" fill="#111"/>
<rect x="543.5" y="348.40" width="39.20" height="2.10" rx="1" fill="#979797" stroke="#333" stroke-width="0.65"/>
<rect x="558.0" y="348.90" width="1.1" height="1.1" fill="#111"/>
<rect x="566.0" y="348.90" width="1.1" height="1.1" fill="#111"/>
<rect x="574.0" y="348.90" width="1.1" height="1.1" fill="#111"/>
<rect x="543.5" y="352.75" width="30.90" height="2.05" rx="1" fill="#979797" stroke="#333" stroke-width="0.65"/>
<rect x="558.0" y="353.22" width="1.1" height="1.1" fill="#111"/>
<rect x="566.0" y="353.22" width="1.1" height="1.1" fill="#111"/>
<rect x="543.5" y="359.30" width="15.25" height="7.80" rx="1" fill="#979797" stroke="#333" stroke-width="0.65"/>
<rect x="543.5" y="369.70" width="15.25" height="1.80" rx="1" fill="#979797" stroke="#333" stroke-width="0.65"/>
<rect x="543.5" y="373.10" width="39.20" height="3.40" rx="1" fill="#979797" stroke="#333" stroke-width="0.65"/>
<rect x="558.0" y="374.25" width="1.1" height="1.1" fill="#111"/>
<rect x="566.0" y="374.25" width="1.1" height="1.1" fill="#111"/>
<rect x="574.0" y="374.25" width="1.1" height="1.1" fill="#111"/>
<rect x="543.5" y="378.10" width="39.20" height="1.80" rx="1" fill="#979797" stroke="#333" stroke-width="0.65"/>
<rect x="558.0" y="378.45" width="1.1" height="1.1" fill="#111"/>
<rect x="566.0" y="378.45" width="1.1" height="1.1" fill="#111"/>
<rect x="574.0" y="378.45" width="1.1" height="1.1" fill="#111"/>
<rect x="543.5" y="379.90" width="15.25" height="1.35" rx="1" fill="#979797" stroke="#333" stroke-width="0.65"/>
<rect x="543.5" y="385.60" width="30.90" height="3.15" rx="1" fill="#979797" stroke="#333" stroke-width="0.65"/>
<rect x="558.0" y="386.62" width="1.1" height="1.1" fill="#111"/>
<rect x="566.0" y="386.62" width="1.1" height="1.1" fill="#111"/>
<rect x="543.5" y="390.00" width="39.20" height="2.40" rx="1" fill="#979797" stroke="#333" stroke-width="0.65"/>
<rect x="558.0" y="390.65" width="1.1" height="1.1" fill="#111"/>
<rect x="566.0" y="390.65" width="1.1" height="1.1" fill="#111"/>
<rect x="574.0" y="390.65" width="1.1" height="1.1" fill="#111"/>
<rect x="543.5" y="395.00" width="39.20" height="2.30" rx="1" fill="#979797" stroke="#333" stroke-width="0.65"/>
<rect x="558.0" y="395.60" width="1.1" height="1.1" fill="#111"/>
<rect x="566.0" y="395.60" width="1.1" height="1.1" fill="#111"/>
<rect x="574.0" y="395.60" width="1.1" height="1.1" fill="#111"/>
<rect x="543.5" y="398.10" width="39.20" height="2.30" rx="1" fill="#979797" stroke="#333" stroke-width="0.65"/>
<rect x="558.0" y="398.70" width="1.1" height="1.1" fill="#111"/>
<rect x="566.0" y="398.70" width="1.1" height="1.1" fill="#111"/>
<rect x="574.0" y="398.70" width="1.1" height="1.1" fill="#111"/>
<rect x="543.5" y="401.80" width="39.20" height="3.10" rx="1" fill="#979797" stroke="#333" stroke-width="0.65"/>
<rect x="558.0" y="402.80" width="1.1" height="1.1" fill="#111"/>
<rect x="566.0" y="402.80" width="1.1" height="1.1" fill="#111"/>
<rect x="574.0" y="402.80" width="1.1" height="1.1" fill="#111"/>
<rect x="543.5" y="407.50" width="30.90" height="1.90" rx="1" fill="#979797" stroke="#333" stroke-width="0.65"/>
<rect x="558.0" y="407.90" width="1.1" height="1.1" fill="#111"/>
<rect x="566.0" y="407.90" width="1.1" height="1.1" fill="#111"/>
<rect x="543.5" y="409.60" width="39.20" height="2.10" rx="1" fill="#979797" stroke="#333" stroke-width="0.65"/>
<rect x="558.0" y="410.10" width="1.1" height="1.1" fill="#111"/>
<rect x="566.0" y="410.10" width="1.1" height="1.1" fill="#111"/>
<rect x="574.0" y="410.10" width="1.1" height="1.1" fill="#111"/>
<rect x="543.5" y="414.60" width="30.90" height="1.80" rx="1" fill="#979797" stroke="#333" stroke-width="0.65"/>
<rect x="558.0" y="414.95" width="1.1" height="1.1" fill="#111"/>
<rect x="566.0" y="414.95" width="1.1" height="1.1" fill="#111"/>
<rect x="543.5" y="418.75" width="39.20" height="2.05" rx="1" fill="#979797" stroke="#333" stroke-width="0.65"/>
<rect x="558.0" y="419.22" width="1.1" height="1.1" fill="#111"/>
<rect x="566.0" y="419.22" width="1.1" height="1.1" fill="#111"/>
<rect x="574.0" y="419.22" width="1.1" height="1.1" fill="#111"/>
<rect x="543.5" y="423.10" width="39.20" height="2.30" rx="1" fill="#979797" stroke="#333" stroke-width="0.65"/>
<rect x="558.0" y="423.70" width="1.1" height="1.1" fill="#111"/>
<rect x="566.0" y="423.70" width="1.1" height="1.1" fill="#111"/>
<rect x="574.0" y="423.70" width="1.1" height="1.1" fill="#111"/>
<rect x="543.5" y="426.80" width="15.25" height="1.50" rx="1" fill="#979797" stroke="#333" stroke-width="0.65"/>
<rect x="543.5" y="428.30" width="30.90" height="1.70" rx="1" fill="#979797" stroke="#333" stroke-width="0.65"/>
<rect x="558.0" y="428.60" width="1.1" height="1.1" fill="#111"/>
<rect x="566.0" y="428.60" width="1.1" height="1.1" fill="#111"/>
<rect x="543.5" y="431.20" width="39.20" height="1.90" rx="1" fill="#979797" stroke="#333" stroke-width="0.65"/>
<rect x="558.0" y="431.60" width="1.1" height="1.1" fill="#111"/>
<rect x="566.0" y="431.60" width="1.1" height="1.1" fill="#111"/>
<rect x="574.0" y="431.60" width="1.1" height="1.1" fill="#111"/>
<rect x="543.5" y="437.50" width="30.90" height="2.00" rx="1" fill="#979797" stroke="#333" stroke-width="0.65"/>
<rect x="558.0" y="437.95" width="1.1" height="1.1" fill="#111"/>
<rect x="566.0" y="437.95" width="1.1" height="1.1" fill="#111"/>
<rect x="543.5" y="443.20" width="30.90" height="1.80" rx="1" fill="#979797" stroke="#333" stroke-width="0.65"/>
<rect x="558.0" y="443.55" width="1.1" height="1.1" fill="#111"/>
<rect x="566.0" y="443.55" width="1.1" height="1.1" fill="#111"/>
<rect x="543.5" y="446.30" width="39.20" height="2.60" rx="1" fill="#979797" stroke="#333" stroke-width="0.65"/>
<rect x="558.0" y="447.05" width="1.1" height="1.1" fill="#111"/>
<rect x="566.0" y="447.05" width="1.1" height="1.1" fill="#111"/>
<rect x="574.0" y="447.05" width="1.1" height="1.1" fill="#111"/>
<rect x="543.5" y="449.75" width="39.20" height="2.05" rx="1" fill="#979797" stroke="#333" stroke-width="0.65"/>
<rect x="558.0" y="450.22" width="1.1" height="1.1" fill="#111"/>
<rect x="566.0" y="450.22" width="1.1" height="1.1" fill="#111"/>
<rect x="574.0" y="450.22" width="1.1" height="1.1" fill="#111"/>
<rect x="543.5" y="458.80" width="30.90" height="2.10" rx="1" fill="#979797" stroke="#333" stroke-width="0.65"/>
<rect x="558.0" y="459.30" width="1.1" height="1.1" fill="#111"/>
<rect x="566.0" y="459.30" width="1.1" height="1.1" fill="#111"/>
<rect x="543.5" y="461.20" width="15.25" height="1.05" rx="1" fill="#979797" stroke="#333" stroke-width="0.65"/>
<rect x="543.5" y="462.25" width="30.90" height="1.75" rx="1" fill="#979797" stroke="#333" stroke-width="0.65"/>
<rect x="558.0" y="462.57" width="1.1" height="1.1" fill="#111"/>
<rect x="566.0" y="462.57" width="1.1" height="1.1" fill="#111"/>
<rect x="543.5" y="465.40" width="23.10" height="2.10" rx="1" fill="#979797" stroke="#333" stroke-width="0.65"/>
<rect x="558.0" y="465.90" width="1.1" height="1.1" fill="#111"/>
<rect x="543.5" y="467.70" width="15.25" height="1.50" rx="1" fill="#979797" stroke="#333" stroke-width="0.65"/>
<rect x="543.5" y="469.50" width="39.20" height="2.30" rx="1" fill="#979797" stroke="#333" stroke-width="0.65"/>
<rect x="558.0" y="470.10" width="1.1" height="1.1" fill="#111"/>
<rect x="566.0" y="470.10" width="1.1" height="1.1" fill="#111"/>
<rect x="574.0" y="470.10" width="1.1" height="1.1" fill="#111"/>
<rect x="543.5" y="472.70" width="39.20" height="2.30" rx="1" fill="#979797" stroke="#333" stroke-width="0.65"/>
<rect x="558.0" y="473.30" width="1.1" height="1.1" fill="#111"/>
<rect x="566.0" y="473.30" width="1.1" height="1.1" fill="#111"/>
<rect x="574.0" y="473.30" width="1.1" height="1.1" fill="#111"/>
<rect x="543.5" y="476.20" width="30.90" height="2.10" rx="1" fill="#979797" stroke="#333" stroke-width="0.65"/>
<rect x="558.0" y="476.70" width="1.1" height="1.1" fill="#111"/>
<rect x="566.0" y="476.70" width="1.1" height="1.1" fill="#111"/>
<rect x="543.5" y="480.20" width="39.20" height="2.90" rx="1" fill="#979797" stroke="#333" stroke-width="0.65"/>
<rect x="558.0" y="481.10" width="1.1" height="1.1" fill="#111"/>
<rect x="566.0" y="481.10" width="1.1" height="1.1" fill="#111"/>
<rect x="574.0" y="481.10" width="1.1" height="1.1" fill="#111"/>
<rect x="543.5" y="485.70" width="39.20" height="2.40" rx="1" fill="#979797" stroke="#333" stroke-width="0.65"/>
<rect x="558.0" y="486.35" width="1.1" height="1.1" fill="#111"/>
<rect x="566.0" y="486.35" width="1.1" height="1.1" fill="#111"/>
<rect x="574.0" y="486.35" width="1.1" height="1.1" fill="#111"/>
<rect x="543.5" y="489.90" width="30.90" height="1.80" rx="1" fill="#979797" stroke="#333" stroke-width="0.65"/>
<rect x="558.0" y="490.25" width="1.1" height="1.1" fill="#111"/>
<rect x="566.0" y="490.25" width="1.1" height="1.1" fill="#111"/>
<rect x="543.5" y="492.70" width="39.20" height="1.90" rx="1" fill="#979797" stroke="#333" stroke-width="0.65"/>
<rect x="558.0" y="493.10" width="1.1" height="1.1" fill="#111"/>
<rect x="566.0" y="493.10" width="1.1" height="1.1" fill="#111"/>
<rect x="574.0" y="493.10" width="1.1" height="1.1" fill="#111"/>
<rect x="543.5" y="496.10" width="39.20" height="2.10" rx="1" fill="#979797" stroke="#333" stroke-width="0.65"/>
<rect x="558.0" y="496.60" width="1.1" height="1.1" fill="#111"/>
<rect x="566.0" y="496.60" width="1.1" height="1.1" fill="#111"/>
<rect x="574.0" y="496.60" width="1.1" height="1.1" fill="#111"/>
<rect x="543.5" y="498.50" width="23.10" height="1.50" rx="1" fill="#979797" stroke="#333" stroke-width="0.65"/>
<rect x="558.0" y="498.70" width="1.1" height="1.1" fill="#111"/>
<rect x="543.5" y="500.00" width="39.20" height="1.90" rx="1" fill="#979797" stroke="#333" stroke-width="0.65"/>
<rect x="558.0" y="500.40" width="1.1" height="1.1" fill="#111"/>
<rect x="566.0" y="500.40" width="1.1" height="1.1" fill="#111"/>
<rect x="574.0" y="500.40" width="1.1" height="1.1" fill="#111"/>
<rect x="543.5" y="507.30" width="39.20" height="1.90" rx="1" fill="#979797" stroke="#333" stroke-width="0.65"/>
<rect x="558.0" y="507.70" width="1.1" height="1.1" fill="#111"/>
<rect x="566.0" y="507.70" width="1.1" height="1.1" fill="#111"/>
<rect x="574.0" y="507.70" width="1.1" height="1.1" fill="#111"/>
<rect x="543.5" y="511.25" width="39.20" height="2.65" rx="1" fill="#979797" stroke="#333" stroke-width="0.65"/>
<rect x="558.0" y="512.03" width="1.1" height="1.1" fill="#111"/>
<rect x="566.0" y="512.03" width="1.1" height="1.1" fill="#111"/>
<rect x="574.0" y="512.03" width="1.1" height="1.1" fill="#111"/>
<rect x="543.5" y="516.50" width="30.90" height="2.60" rx="1" fill="#979797" stroke="#333" stroke-width="0.65"/>
<rect x="558.0" y="517.25" width="1.1" height="1.1" fill="#111"/>
<rect x="566.0" y="517.25" width="1.1" height="1.1" fill="#111"/>
<rect x="543.5" y="522.20" width="30.90" height="4.20" rx="1" fill="#979797" stroke="#333" stroke-width="0.65"/>
<rect x="558.0" y="523.75" width="1.1" height="1.1" fill="#111"/>
<rect x="566.0" y="523.75" width="1.1" height="1.1" fill="#111"/>
<rect x="543.5" y="528.40" width="39.20" height="3.20" rx="1" fill="#979797" stroke="#333" stroke-width="0.65"/>
<rect x="558.0" y="529.45" width="1.1" height="1.1" fill="#111"/>
<rect x="566.0" y="529.45" width="1.1" height="1.1" fill="#111"/>
<rect x="574.0" y="529.45" width="1.1" height="1.1" fill="#111"/>
<rect x="543.5" y="92.6" width="7.5" height="2.4000000000000057" fill="#c07a28" stroke="none" stroke-width="1"/>
<rect x="543.5" y="156.9" width="7.5" height="5.199999999999989" fill="#9a1c1c" stroke="none" stroke-width="1"/>
<rect x="543.5" y="327" width="7.5" height="2.1000000000000227" fill="#c07a28" stroke="none" stroke-width="1"/>
<rect x="543.5" y="329.1" width="15.25" height="1.7999999999999545" fill="#b87830" stroke="none" stroke-width="1"/>
<rect x="543.5" y="339.5" width="7.5" height="2.6000000000000227" fill="#c07a28" stroke="none" stroke-width="1"/>
<rect x="543.5" y="502.1" width="7.5" height="5.199999999999989" fill="#9a1c1c" stroke="none" stroke-width="1"/>
<line x1="543.8" y1="47" x2="543.8" y2="533" stroke="#333" stroke-width="0.8"/>
<line x1="551" y1="47" x2="551" y2="533" stroke="#333" stroke-width="0.8"/>
<polyline points="473.3,47.5 472.7,48.0 471.5,48.6 473.8,49.1 472.3,49.7 471.9,50.1 472.2,50.7 474.5,51.2 471.9,51.7 472.1,52.3 473.6,52.9 473.6,53.6 474.9,54.0 472.4,54.4 471.5,54.8 471.1,55.2 471.4,55.6 471.8,56.0 472.8,56.7 472.4,57.1 474.0,57.6 472.4,58.2 473.7,58.8 473.1,59.2 471.9,59.5 470.9,60.0 472.2,60.5 470.5,61.1 470.2,61.5 473.4,62.0 471.0,62.6 472.9,62.9 472.5,63.5 474.2,63.8 472.8,64.4 474.1,65.0 473.5,65.5 474.6,65.9 473.5,66.4 473.1,66.8 473.6,67.2 473.1,67.6 472.9,68.0 472.6,68.5 472.5,69.1 474.0,69.5 472.5,70.1 472.1,70.5 470.2,71.1 471.3,71.7 471.0,72.3 470.4,72.9 473.3,73.4 470.9,74.0 470.6,74.5 472.4,75.0 474.5,75.6 474.8,76.0 475.3,76.5 475.2,77.1 476.2,77.6 476.3,78.1 474.6,78.6 472.3,79.1 470.6,79.5 472.9,80.0 471.6,80.5 472.5,80.9 474.4,81.4 473.5,81.9 472.6,82.3 473.8,82.9 473.0,83.4 472.0,84.0 471.8,84.5 471.2,84.9 472.4,85.3 472.8,85.7 472.6,86.2 470.8,86.7 473.4,87.2 474.7,87.9 473.1,88.3 473.3,88.9 473.5,89.3 472.1,89.8 472.6,90.4 470.5,90.9 471.3,91.2 474.8,91.7 473.7,92.0 472.8,92.5 471.4,92.8 470.7,93.4 473.1,93.8 473.4,94.3 474.3,94.9 475.3,95.5 474.1,96.1 472.8,96.5 473.1,97.1 473.0,97.6 474.3,98.1 472.2,98.7 472.0,99.1 473.3,99.6 473.6,100.1 472.4,100.5 474.4,101.0 472.7,101.5 471.1,102.0 472.9,102.5 475.7,103.1 474.5,103.4 474.4,103.9 472.1,104.5 471.9,105.0 471.4,105.5 475.1,106.0 476.0,106.5 475.0,107.1 472.1,107.6 470.1,108.2 470.0,108.7 471.8,109.0 472.0,109.5 473.9,110.1 472.7,110.7 472.0,111.1 471.1,111.7 472.2,112.3 470.4,112.9 473.0,113.4 473.6,113.9 475.8,114.3 473.0,114.9 471.5,115.4 471.2,115.8 473.7,116.3 471.5,116.7 474.7,117.2 474.3,117.8 472.0,118.2 470.9,118.6 471.2,119.2 472.5,119.8 474.4,120.4 476.1,121.0 475.6,121.5 476.3,122.0 474.2,122.4 474.5,122.8 474.5,123.2 471.9,123.5 470.7,124.1 472.5,124.5 474.5,125.0 471.6,125.5 472.4,126.1 470.7,126.6 473.0,127.1 472.4,127.5 471.7,128.0 474.4,128.4 473.9,129.0 474.3,129.5 474.9,129.9 473.3,130.5 471.1,131.1 472.3,131.6 474.5,132.1 472.5,132.4 473.7,132.9 473.1,133.4 471.4,133.9 472.8,134.5 470.7,134.9 472.0,135.5 470.4,136.0 471.4,136.5 471.4,137.0 474.0,137.5 471.3,138.1 471.6,138.5 471.3,139.1 471.6,139.7 473.9,140.3 471.4,140.7 472.1,141.1 474.5,141.6 473.5,142.2 473.0,142.8 471.9,143.4 470.0,144.0 472.1,144.4 473.5,145.0 471.5,145.3 471.3,145.8 472.5,146.3 472.5,146.9 473.5,147.5 473.0,148.1 473.3,148.7 475.7,149.2 473.9,149.7 472.1,150.1 471.6,150.6 475.5,151.1 473.5,151.7 474.5,152.2 472.2,152.7 474.8,153.1 472.8,153.6 476.6,154.0 477.2,154.5 474.5,155.1 473.3,155.7 473.5,156.1 476.4,156.7 474.6,157.2 476.5,157.6 475.4,158.0 473.8,158.5 474.6,158.9 473.7,159.2 471.9,159.6 476.7,160.1 479.7,160.6 476.5,161.0 479.6,161.6 478.9,162.1 480.4,162.6 475.8,163.2 478.0,163.7 473.3,164.3 476.3,164.8 478.3,165.4 475.8,165.8 473.6,166.3 478.2,166.7 474.9,167.3 480.4,168.0 473.4,168.3 472.9,169.0 478.9,169.3 475.0,169.8 495.2,170.4 483.2,170.9 483.7,171.5 479.4,172.0 479.5,172.4 474.9,173.0 473.1,173.4 473.6,174.0 470.4,174.6 477.5,174.9 494.1,175.4 477.3,175.9 475.7,176.4 473.6,176.9 477.5,177.3 475.1,177.7 476.1,178.3 474.7,178.8 473.3,179.2 472.2,179.6 473.1,180.1 476.1,180.6 481.8,181.0 482.3,181.5 481.4,182.1 483.3,182.5 477.2,182.9 497.1,183.3 479.5,183.8 475.7,184.3 480.5,184.7 478.8,185.1 474.5,185.7 470.2,186.2 472.4,186.6 476.1,187.2 474.1,187.8 475.6,188.4 475.6,189.0 483.7,189.4 480.5,189.9 473.5,190.3 471.3,190.9 477.7,191.4 476.8,191.9 474.8,192.5 471.9,193.0 473.9,193.6 471.9,193.9 479.1,194.4 479.0,195.0 483.8,195.4 475.2,196.0 474.4,196.5 480.6,197.1 483.6,197.6 497.5,198.2 480.8,198.6 482.9,199.2 482.6,199.6 496.5,200.0 481.6,200.5 484.8,200.9 476.3,201.4 476.9,202.0 474.4,202.5 475.0,203.1 474.6,203.7 472.1,204.2 471.2,204.8 479.9,205.3 476.8,205.7 478.7,206.3 481.1,207.0 478.7,207.6 482.5,208.2 475.5,208.7 478.7,209.0 480.8,209.5 480.0,209.9 476.8,210.4 473.9,210.9 476.1,211.3 474.2,212.0 479.0,212.4 479.1,212.9 482.6,213.3 480.3,213.9 483.0,214.4 477.5,214.9 481.5,215.4 476.9,215.8 480.4,216.4 477.1,216.8 476.9,217.5 476.0,218.0 473.6,218.5 477.4,219.0 478.7,219.5 480.5,219.8 480.9,220.3 474.8,220.7 470.8,221.3 471.7,221.8 476.9,222.5 481.3,222.9 474.4,223.3 473.1,223.9 475.4,224.3 480.4,224.9 477.4,225.5 479.2,225.9 473.6,226.5 473.2,226.9 480.0,227.6 478.3,228.0 472.8,228.6 473.0,229.1 472.5,229.5 476.0,230.1 473.8,230.6 475.1,231.1 476.1,231.8 475.3,232.3 475.0,232.6 479.7,233.1 495.6,233.6 479.6,234.1 475.0,234.6 476.8,235.1 477.4,235.6 475.4,236.1 475.4,236.5 480.5,237.0 499.1,237.4 475.3,238.0 472.1,238.6 476.8,239.1 478.2,239.6 473.3,240.2 474.0,240.7 473.4,241.1 475.9,241.6 480.6,242.2 482.3,242.6 482.7,243.1 475.9,243.7 472.9,244.3 477.9,244.7 474.2,245.2 474.3,245.7 474.6,246.2 482.4,246.6 479.1,247.3 474.0,247.8 500.8,248.1 490.9,248.7 476.7,249.3 477.3,249.6 479.6,250.2 475.1,250.6 478.6,251.1 479.9,251.5 474.8,251.9 480.5,252.3 480.6,252.9 479.7,253.4 473.5,253.9 478.2,254.5 480.0,255.2 473.7,255.8 470.6,256.2 474.9,256.6 471.3,257.2 472.4,257.8 476.3,258.4 473.2,258.8 492.9,259.2 494.0,259.8 473.7,260.1 475.2,260.6 474.5,261.1 479.5,261.7 475.9,262.3 476.2,262.6 475.0,263.1 475.1,263.7 473.0,264.3 478.5,264.9 475.9,265.4 474.3,265.9 478.5,266.6 474.2,267.2 478.0,267.5 476.9,268.2 478.6,268.8 474.6,269.3 479.8,269.9 475.5,270.4 474.9,270.9 478.9,271.3 479.4,271.9 475.4,272.4 472.2,272.9 470.1,273.3 471.2,274.0 475.8,274.6 473.5,275.1 470.0,275.6 472.0,276.1 470.6,276.6 471.7,277.3 475.4,277.6 475.9,278.2 474.3,278.7 474.8,279.3 478.3,279.7 479.7,280.2 475.9,280.6 476.1,281.1 477.7,281.5 480.8,282.1 480.0,282.6 477.2,283.0 479.6,283.6 479.7,283.9 476.8,284.5 473.8,285.0 474.9,285.6 475.5,286.0 474.7,286.5 475.7,287.0 473.4,287.6 474.4,288.1 471.0,288.7 500.6,289.3 475.2,289.9 475.2,290.3 473.0,290.8 474.1,291.5 475.2,292.0 473.3,292.6 474.4,293.2 476.2,293.5 472.2,293.9 471.9,294.5 470.1,294.9 475.3,295.5 476.1,295.9 475.0,296.4 471.2,296.9 470.4,297.3 474.4,297.9 478.8,298.4 475.8,298.8 477.8,299.3 477.4,299.8 473.2,300.4 473.6,300.9 474.3,301.5 473.6,302.0 500.4,302.5 472.0,302.9 471.3,303.3 472.8,303.9 476.9,304.5 472.5,305.1 475.1,305.7 474.1,306.3 472.7,306.7 473.4,307.2 474.5,307.7 477.5,308.1 477.4,308.7 473.6,309.0 469.9,309.6 472.4,310.0 473.9,310.5 501.5,311.0 475.7,311.6 477.1,312.1 478.2,312.6 474.7,313.0 479.4,313.6 479.0,314.3 477.5,314.7 473.3,315.2 474.5,315.8 494.3,316.2 470.0,316.6 475.8,317.1 475.1,317.6 495.4,318.2 477.0,318.6 478.7,319.0 476.0,319.6 474.2,319.9 476.2,320.5 477.8,321.1 472.7,321.6 469.6,322.2 470.4,322.7 472.1,323.3 471.3,323.8 474.4,324.2 470.9,324.6 476.7,325.1 474.9,325.7 470.6,326.1 469.2,326.6 470.2,327.1 471.7,327.7 470.7,328.3 470.3,328.9 474.7,329.5 477.2,329.9 480.0,330.3 479.4,330.9 475.3,331.5 478.5,332.1 473.8,332.7 472.0,333.3 472.1,333.8 470.5,334.4 474.5,334.9 495.9,335.3 474.5,335.8 473.9,336.3 471.1,336.6 477.5,337.3 473.4,337.8 475.2,338.3 473.5,338.7 473.0,339.1 472.9,339.7 474.8,340.1 473.2,340.6 473.0,341.0 477.8,341.6 472.7,342.2 472.3,342.6 475.5,343.0 476.9,343.5 491.0,344.0 470.7,344.5 475.2,345.0 473.3,345.3 476.8,345.7 477.2,346.2 478.5,346.8 474.5,347.2 477.6,347.8 479.9,348.2 474.8,348.6 473.9,349.0 473.6,349.3 470.0,349.7 491.3,350.0 472.7,350.6 475.9,351.2 478.7,351.7 478.6,352.3 475.7,352.8 476.9,353.3 472.6,353.8 472.4,354.4 476.2,354.8 473.6,355.3 478.9,355.8 477.8,356.2 472.3,356.8 472.3,357.4 478.2,357.9 474.4,358.4 477.7,358.9 479.8,359.5 480.6,360.0 482.0,360.4 477.1,361.0 474.4,361.6 470.9,362.1 475.6,362.6 477.1,362.9 473.1,363.4 478.7,363.9 478.4,364.4 478.5,364.9 477.0,365.5 479.7,365.8 474.8,366.4 478.0,366.8 478.9,367.3 473.0,367.8 475.5,368.4 479.2,368.7 476.3,369.1 473.1,369.6 474.1,370.1 477.3,370.7 474.1,371.1 475.5,371.6 496.8,372.2 475.9,372.9 474.6,373.4 502.5,374.0 469.6,374.6 469.9,375.2 471.3,375.6 468.9,376.0 470.4,376.6 477.9,377.2 478.4,377.7 472.9,378.1 471.0,378.5 474.9,379.0 475.5,379.6 474.1,380.2 470.2,380.5 475.9,381.1 471.3,381.8 473.1,382.3 475.6,382.8 478.7,383.2 480.1,383.7 478.0,384.2 479.3,384.7 479.3,385.1 475.1,385.5 474.2,386.1 471.6,386.7 471.5,387.1 472.3,387.7 471.0,388.2 470.0,388.8 468.6,389.5 471.7,390.1 473.4,390.7 477.0,391.1 497.9,391.7 471.9,392.1 477.6,392.5 474.1,393.2 494.8,393.6 475.2,394.1 471.7,394.6 473.8,395.2 471.5,395.6 471.1,396.1 471.2,396.6 477.6,397.0 475.9,397.6 476.4,398.0 476.7,398.5 476.7,399.0 477.5,399.6 475.5,400.2 472.5,400.8 479.1,401.2 475.2,401.8 476.0,402.1 473.5,402.6 471.4,403.0 471.6,403.4 477.7,404.0 476.8,404.5 474.9,404.9 475.6,405.4 471.9,405.8 469.4,406.3 474.4,406.7 473.3,407.3 474.7,407.9 472.3,408.5 477.1,408.9 472.1,409.5 472.8,409.9 476.7,410.5 479.3,411.0 475.8,411.6 479.1,412.0 474.3,412.6 472.9,413.1 471.9,413.5 473.2,414.0 473.1,414.6 471.7,415.2 478.2,415.6 473.8,416.0 472.2,416.4 469.6,416.9 473.2,417.4 479.3,418.0 474.3,418.6 473.0,419.1 472.2,419.7 476.8,420.2 475.0,420.7 470.9,421.2 478.1,421.9 475.8,422.2 473.9,422.8 474.6,423.3 476.2,423.7 472.3,424.3 471.7,424.8 476.6,425.2 475.1,425.7 476.6,426.1 478.6,426.6 474.6,427.0 472.4,427.5 475.2,427.9 479.9,428.5 499.8,429.0 478.6,429.4 476.9,429.9 473.6,430.4 473.4,430.9 470.0,431.5 469.4,431.9 468.6,432.3 500.7,432.7 472.8,433.2 478.8,433.6 477.6,434.1 478.3,434.4 473.9,435.0 476.1,435.4 476.0,435.9 475.0,436.4 472.2,436.8 477.9,437.3 474.5,437.9 472.1,438.5 471.8,439.0 475.6,439.6 475.1,440.0 472.1,440.4 474.6,440.9 471.8,441.4 474.9,441.9 474.5,442.5 475.1,442.8 492.2,443.4 472.3,443.9 480.0,444.3 481.4,444.7 480.2,445.3 497.8,446.0 480.7,446.5 475.3,447.0 479.0,447.6 475.9,448.1 470.5,448.6 473.8,449.1 473.7,449.5 476.1,449.9 481.6,450.5 474.0,451.0 478.0,451.5 502.7,452.0 481.0,452.4 477.1,453.0 482.3,453.3 481.9,453.7 477.0,454.1 474.3,454.5 472.3,455.0 470.4,455.5 471.1,456.1 473.0,456.5 477.9,456.9 480.2,457.4 473.8,457.7 499.0,458.3 472.1,458.9 470.7,459.4 479.2,459.8 475.7,460.4 475.1,460.8 478.3,461.4 474.3,462.0 476.2,462.4 479.3,463.0 479.3,463.5 492.7,463.9 476.1,464.5 477.6,465.1 477.1,465.6 472.8,466.2 479.8,466.8 482.5,467.5 484.7,468.0 486.2,468.4 480.7,468.8 474.8,469.2 472.8,469.6 478.2,470.2 473.9,470.7 472.6,471.3 473.0,471.6 477.7,472.0 478.3,472.5 473.6,473.2 478.2,473.7 478.0,474.2 474.6,474.6 472.8,475.2 475.0,475.6 472.9,476.2 472.0,476.6 470.7,477.1 470.0,477.7 468.6,478.3 470.7,478.8 469.9,479.2 475.5,479.6 472.0,480.3 473.5,480.9 479.2,481.2 480.8,481.6 478.4,482.1 474.3,482.6 473.9,483.2 471.2,483.5 472.4,484.1 479.5,484.7 481.8,485.4 483.5,485.8 476.8,486.3 478.5,486.9 480.1,487.5 482.6,487.9 480.2,488.5 475.7,489.0 477.1,489.6 476.5,489.9 479.0,490.5 474.0,491.0 475.0,491.5 471.8,492.0 470.1,492.4 475.7,493.0 481.7,493.4 476.5,493.8 472.0,494.4 470.7,495.0 473.7,495.4 481.3,496.1 475.4,496.6 477.7,497.1 475.1,497.7 474.0,498.1 482.5,498.4 476.2,498.8 480.4,499.5 480.0,500.1 478.7,500.7 475.3,501.2 478.0,501.6 480.9,502.0 482.5,502.4 482.7,503.0 475.8,503.6 471.5,504.0 472.5,504.6 479.2,505.0 480.6,505.4 476.7,505.7 478.1,506.1 472.5,506.5 476.7,507.1 475.4,507.7 480.2,508.2 478.2,508.6 478.7,509.2 474.5,509.7 473.1,510.3 479.3,510.8 476.3,511.2 473.8,511.8 477.4,512.3 477.2,512.8 473.9,513.3 479.5,513.8 479.0,514.2 480.4,514.8 480.0,515.4 474.5,516.0 479.0,516.6 475.8,517.1 478.2,517.6 476.6,518.2 476.8,518.6 481.1,519.0 479.0,519.6 481.3,520.2 479.7,520.7 481.0,521.2 474.4,521.7 475.1,522.1 473.7,522.5 474.1,523.2 475.1,523.7 493.4,524.3 476.2,524.8 477.8,525.2 474.6,525.6 476.3,526.0 480.1,526.5 478.2,526.9 480.5,527.5 480.5,528.1 496.5,528.7 476.6,529.2 473.1,529.7 471.6,530.2 475.4,530.6 471.3,531.2 469.8,531.8 478.5,532.3" fill="none" stroke="#3a62c6" stroke-width="0.9" stroke-opacity="0.75"/>
<polyline points="487.6,47.5 487.8,48.0 481.3,48.6 481.3,49.1 478.7,49.7 479.1,50.1 485.9,50.7 486.4,51.2 483.7,51.7 486.8,52.3 479.3,52.9 481.8,53.6 479.3,54.0 479.8,54.4 486.0,54.8 487.9,55.2 496.4,55.6 491.3,56.0 484.2,56.7 479.0,57.1 483.1,57.6 490.6,58.2 484.2,58.8 495.3,59.2 486.3,59.5 493.0,60.0 482.7,60.5 485.3,61.1 484.7,61.5 481.3,62.0 489.3,62.6 495.9,62.9 492.1,63.5 491.7,63.8 496.0,64.4 496.5,65.0 492.9,65.5 494.6,65.9 494.7,66.4 492.5,66.8 493.1,67.2 482.4,67.6 493.4,68.0 491.7,68.5 495.1,69.1 492.7,69.5 485.6,70.1 487.2,70.5 495.4,71.1 485.5,71.7 479.2,72.3 480.2,72.9 488.7,73.4 484.5,74.0 489.4,74.5 490.2,75.0 493.8,75.6 490.8,76.0 497.0,76.5 488.7,77.1 486.8,77.6 492.1,78.1 483.9,78.6 481.9,79.1 485.8,79.5 493.2,80.0 495.7,80.5 495.8,80.9 488.5,81.4 496.7,81.9 492.7,82.3 490.6,82.9 490.9,83.4 495.5,84.0 498.4,84.5 496.6,84.9 486.3,85.3 488.6,85.7 484.3,86.2 486.8,86.7 491.1,87.2 487.4,87.9 488.3,88.3 482.7,88.9 492.1,89.3 491.4,89.8 495.9,90.4 493.5,90.9 492.2,91.2 488.0,91.7 484.8,92.0 487.9,92.5 494.1,92.8 488.7,93.4 497.2,93.8 491.7,94.3 489.1,94.9 490.3,95.5 494.0,96.1 488.9,96.5 487.9,97.1 490.8,97.6 494.9,98.1 494.6,98.7 488.1,99.1 492.0,99.6 493.9,100.1 496.8,100.5 492.4,101.0 492.1,101.5 488.9,102.0 481.4,102.5 489.1,103.1 496.1,103.4 495.1,103.9 497.7,104.5 486.5,105.0 491.7,105.5 495.6,106.0 486.6,106.5 486.1,107.1 492.5,107.6 499.8,108.2 493.5,108.7 486.3,109.0 487.6,109.5 481.4,110.1 482.8,110.7 493.0,111.1 498.0,111.7 485.0,112.3 487.2,112.9 482.3,113.4 481.8,113.9 491.6,114.3 491.9,114.9 500.3,115.4 491.8,115.8 496.4,116.3 499.1,116.7 495.1,117.2 486.1,117.8 495.3,118.2 497.4,118.6 495.2,119.2 495.5,119.8 499.1,120.4 500.7,121.0 496.2,121.5 488.8,122.0 485.6,122.4 484.6,122.8 482.1,123.2 480.6,123.5 488.0,124.1 493.6,124.5 490.5,125.0 498.6,125.5 498.4,126.1 502.8,126.6 495.1,127.1 486.7,127.5 494.7,128.0 494.8,128.4 485.1,129.0 491.3,129.5 496.0,129.9 489.0,130.5 487.0,131.1 493.1,131.6 494.2,132.1 491.9,132.4 486.6,132.9 486.3,133.4 489.2,133.9 490.6,134.5 494.9,134.9 495.0,135.5 485.3,136.0 485.0,136.5 495.7,137.0 485.2,137.5 493.0,138.1 493.1,138.5 498.5,139.1 494.7,139.7 501.3,140.3 503.5,140.7 498.6,141.1 492.2,141.6 493.4,142.2 502.5,142.8 494.6,143.4 488.4,144.0 501.3,144.4 498.9,145.0 489.7,145.3 486.4,145.8 490.4,146.3 493.4,146.9 498.4,147.5 500.1,148.1 495.8,148.7 487.6,149.2 494.1,149.7 492.3,150.1 491.7,150.6 487.3,151.1 491.1,151.7 496.8,152.2 499.1,152.7 489.7,153.1 490.8,153.6 494.3,154.0 492.1,154.5 490.0,155.1 487.5,155.7 485.6,156.1 492.0,156.7 484.1,157.2 483.1,157.6 494.1,158.0 501.3,158.5 503.6,158.9 497.2,159.2 492.1,159.6 489.4,160.1 495.3,160.6 495.4,161.0 494.1,161.6 499.3,162.1 490.4,162.6 487.6,163.2 483.7,163.7 482.5,164.3 487.1,164.8 492.3,165.4 487.2,165.8 487.5,166.3 485.2,166.7 482.4,167.3 481.5,168.0 489.5,168.3 485.2,169.0 485.0,169.3 486.3,169.8 487.6,170.4 482.8,170.9 488.3,171.5 487.2,172.0 489.5,172.4 486.2,173.0 480.8,173.4 484.2,174.0 496.0,174.6 499.8,174.9 488.6,175.4 490.4,175.9 484.6,176.4 495.1,176.9 486.4,177.3 496.0,177.7 499.2,178.3 487.1,178.8 489.3,179.2 488.8,179.6 492.6,180.1 485.3,180.6 481.5,181.0 483.6,181.5 499.0,182.1 493.2,182.5 487.0,182.9 484.4,183.3 485.7,183.8 499.0,184.3 500.2,184.7 497.8,185.1 494.1,185.7 484.8,186.2 491.0,186.6 483.5,187.2 486.8,187.8 497.2,188.4 498.1,189.0 487.0,189.4 490.5,189.9 494.1,190.3 486.1,190.9 489.2,191.4 499.3,191.9 487.6,192.5 483.8,193.0 484.7,193.6 484.9,193.9 497.7,194.4 490.8,195.0 502.4,195.4 488.4,196.0 495.2,196.5 485.7,197.1 498.0,197.6 494.6,198.2 491.3,198.6 489.0,199.2 494.8,199.6 485.1,200.0 487.7,200.5 494.0,200.9 493.3,201.4 488.7,202.0 490.6,202.5 495.0,203.1 494.3,203.7 495.3,204.2 498.4,204.8 493.4,205.3 502.4,205.7 504.4,206.3 500.0,207.0 489.3,207.6 490.7,208.2 501.7,208.7 495.9,209.0 501.5,209.5 501.0,209.9 486.7,210.4 493.2,210.9 489.2,211.3 497.1,212.0 497.0,212.4 502.2,212.9 502.4,213.3 496.3,213.9 490.5,214.4 487.6,214.9 490.7,215.4 497.8,215.8 494.7,216.4 491.6,216.8 504.7,217.5 504.4,218.0 505.0,218.5 488.4,219.0 499.1,219.5 505.0,219.8 496.3,220.3 494.0,220.7 489.0,221.3 493.6,221.8 493.9,222.5 483.1,222.9 488.2,223.3 495.9,223.9 501.5,224.3 498.0,224.9 490.3,225.5 489.4,225.9 489.1,226.5 488.9,226.9 483.8,227.6 487.5,228.0 494.1,228.6 494.9,229.1 505.4,229.5 498.3,230.1 504.5,230.6 490.0,231.1 486.5,231.8 488.2,232.3 499.4,232.6 504.9,233.1 502.3,233.6 502.9,234.1 491.4,234.6 486.2,235.1 497.1,235.6 497.5,236.1 489.2,236.5 496.5,237.0 497.6,237.4 495.6,238.0 488.9,238.6 486.9,239.1 491.9,239.6 487.7,240.2 485.3,240.7 493.6,241.1 496.4,241.6 488.0,242.2 490.6,242.6 488.7,243.1 486.7,243.7 490.3,244.3 497.2,244.7 487.5,245.2 487.5,245.7 495.9,246.2 501.5,246.6 502.5,247.3 502.0,247.8 491.8,248.1 494.4,248.7 505.7,249.3 502.2,249.6 494.7,250.2 495.9,250.6 494.0,251.1 492.3,251.5 497.4,251.9 495.2,252.3 499.3,252.9 500.8,253.4 490.7,253.9 500.7,254.5 488.4,255.2 490.7,255.8 486.0,256.2 492.3,256.6 483.8,257.2 488.7,257.8 501.6,258.4 508.7,258.8 490.8,259.2 494.1,259.8 490.3,260.1 492.5,260.6 493.0,261.1 487.3,261.7 487.2,262.3 494.7,262.6 489.1,263.1 489.3,263.7 487.9,264.3 496.7,264.9 504.2,265.4 492.8,265.9 503.5,266.6 493.1,267.2 493.3,267.5 494.3,268.2 488.6,268.8 486.2,269.3 499.7,269.9 490.3,270.4 499.9,270.9 500.6,271.3 495.2,271.9 490.3,272.4 494.0,272.9 488.0,273.3 494.6,274.0 486.3,274.6 503.3,275.1 492.8,275.6 499.9,276.1 495.1,276.6 482.7,277.3 489.3,277.6 492.2,278.2 480.8,278.7 497.0,279.3 489.5,279.7 499.3,280.2 494.5,280.6 500.0,281.1 507.9,281.5 496.4,282.1 496.6,282.6 496.6,283.0 488.6,283.6 496.3,283.9 502.3,284.5 501.4,285.0 505.0,285.6 503.5,286.0 490.7,286.5 501.9,287.0 503.4,287.6 486.6,288.1 499.4,288.7 499.8,289.3 491.5,289.9 491.6,290.3 502.2,290.8 493.4,291.5 486.0,292.0 484.7,292.6 483.8,293.2 490.8,293.5 484.1,293.9 486.8,294.5 484.9,294.9 483.5,295.5 500.8,295.9 494.1,296.4 503.3,296.9 504.9,297.3 503.5,297.9 509.4,298.4 510.4,298.8 508.0,299.3 499.7,299.8 498.9,300.4 489.4,300.9 480.1,301.5 488.9,302.0 501.1,302.5 486.9,302.9 488.7,303.3 482.7,303.9 483.3,304.5 491.5,305.1 501.3,305.7 493.7,306.3 486.9,306.7 499.0,307.2 488.0,307.7 485.0,308.1 493.1,308.7 486.0,309.0 496.7,309.6 484.4,310.0 485.7,310.5 481.7,311.0 487.9,311.6 490.7,312.1 500.9,312.6 506.7,313.0 496.4,313.6 509.0,314.3 498.4,314.7 492.6,315.2 487.4,315.8 492.2,316.2 506.0,316.6 506.2,317.1 496.0,317.6 503.7,318.2 503.6,318.6 486.6,319.0 486.0,319.6 480.6,319.9 483.3,320.5 495.1,321.1 497.6,321.6 495.9,322.2 508.6,322.7 500.0,323.3 504.9,323.8 489.3,324.2 492.4,324.6 482.5,325.1 483.2,325.7 484.2,326.1 502.4,326.6 495.6,327.1 506.4,327.7 487.8,328.3 486.6,328.9 487.3,329.5 479.9,329.9 483.9,330.3 494.0,330.9 493.2,331.5 489.4,332.1 491.0,332.7 501.9,333.3 503.4,333.8 493.9,334.4 496.3,334.9 482.9,335.3 482.6,335.8 503.2,336.3 496.0,336.6 499.8,337.3 504.3,337.8 504.5,338.3 486.1,338.7 491.2,339.1 497.0,339.7 491.7,340.1 486.1,340.6 484.5,341.0 485.6,341.6 502.3,342.2 509.9,342.6 505.1,343.0 494.7,343.5 482.6,344.0 503.5,344.5 489.6,345.0 483.0,345.3 481.6,345.7 486.3,346.2 497.5,346.8 500.1,347.2 492.3,347.8 488.1,348.2 487.8,348.6 490.4,349.0 496.1,349.3 488.6,349.7 500.6,350.0 498.0,350.6 506.8,351.2 500.9,351.7 500.3,352.3 504.9,352.8 502.4,353.3 508.6,353.8 492.0,354.4 486.9,354.8 493.1,355.3 499.6,355.8 489.8,356.2 484.7,356.8 477.9,357.4 482.5,357.9 496.9,358.4 496.1,358.9 509.2,359.5 491.0,360.0 498.8,360.4 501.5,361.0 504.7,361.6 496.3,362.1 487.7,362.6 501.9,362.9 487.9,363.4 497.1,363.9 484.4,364.4 481.3,364.9 500.2,365.5 491.1,365.8 482.0,366.4 496.3,366.8 481.7,367.3 484.6,367.8 499.2,368.4 488.9,368.7 495.1,369.1 492.7,369.6 485.5,370.1 506.3,370.7 497.4,371.1 492.4,371.6 493.3,372.2 495.5,372.9 496.1,373.4 493.4,374.0 506.6,374.6 505.2,375.2 486.6,375.6 500.0,376.0 486.9,376.6 482.9,377.2 478.4,377.7 497.1,378.1 499.5,378.5 502.0,379.0 485.3,379.6 482.2,380.2 494.3,380.5 503.0,381.1 486.5,381.8 488.2,382.3 498.1,382.8 492.0,383.2 506.3,383.7 489.7,384.2 505.4,384.7 497.9,385.1 494.1,385.5 503.0,386.1 498.5,386.7 484.9,387.1 489.9,387.7 492.7,388.2 494.3,388.8 484.9,389.5 478.9,390.1 493.5,390.7 504.7,391.1 493.2,391.7 486.2,392.1 504.9,392.5 501.8,393.2 503.4,393.6 506.6,394.1 500.6,394.6 506.2,395.2 502.6,395.6 487.1,396.1 492.3,396.6 500.2,397.0 490.2,397.6 508.0,398.0 485.2,398.5 491.5,399.0 491.8,399.6 490.5,400.2 486.7,400.8 496.9,401.2 491.8,401.8 494.3,402.1 506.5,402.6 502.3,403.0 496.1,403.4 500.6,404.0 501.5,404.5 505.7,404.9 503.4,405.4 488.9,405.8 497.4,406.3 498.9,406.7 498.4,407.3 493.1,407.9 481.8,408.5 495.4,408.9 493.8,409.5 479.4,409.9 485.1,410.5 493.7,411.0 481.4,411.6 500.5,412.0 495.6,412.6 490.5,413.1 492.7,413.5 488.3,414.0 490.6,414.6 494.5,415.2 481.4,415.6 497.1,416.0 504.5,416.4 496.2,416.9 495.1,417.4 498.5,418.0 495.2,418.6 496.8,419.1 503.6,419.7 506.2,420.2 498.4,420.7 495.3,421.2 488.8,421.9 498.7,422.2 501.9,422.8 503.5,423.3 500.4,423.7 501.2,424.3 509.7,424.8 507.5,425.2 497.0,425.7 483.6,426.1 493.0,426.6 506.9,427.0 494.5,427.5 500.8,427.9 504.6,428.5 486.1,429.0 489.5,429.4 486.9,429.9 490.6,430.4 501.0,430.9 498.0,431.5 487.3,431.9 483.5,432.3 497.9,432.7 500.9,433.2 511.2,433.6 497.2,434.1 487.2,434.4 490.8,435.0 507.9,435.4 488.7,435.9 494.1,436.4 489.5,436.8 500.8,437.3 484.4,437.9 492.6,438.5 493.7,439.0 491.0,439.6 502.3,440.0 486.7,440.4 502.6,440.9 505.5,441.4 497.9,441.9 495.8,442.5 495.5,442.8 505.1,443.4 506.2,443.9 490.6,444.3 500.4,444.7 495.2,445.3 492.0,446.0 505.7,446.5 494.7,447.0 486.5,447.6 478.9,448.1 476.4,448.6 485.9,449.1 482.6,449.5 491.2,449.9 501.2,450.5 491.9,451.0 494.0,451.5 479.9,452.0 496.0,452.4 486.2,453.0 483.4,453.3 497.7,453.7 483.3,454.1 494.2,454.5 495.8,455.0 500.0,455.5 497.1,456.1 486.3,456.5 493.3,456.9 494.2,457.4 496.9,457.7 484.1,458.3 501.4,458.9 500.5,459.4 495.4,459.8 494.1,460.4 484.1,460.8 500.6,461.4 494.8,462.0 498.2,462.4 503.0,463.0 501.9,463.5 495.7,463.9 493.7,464.5 484.8,465.1 506.4,465.6 507.9,466.2 492.2,466.8 501.2,467.5 490.1,468.0 498.0,468.4 485.6,468.8 498.5,469.2 499.2,469.6 492.1,470.2 502.4,470.7 497.8,471.3 483.8,471.6 498.0,472.0 495.0,472.5 485.0,473.2 483.7,473.7 481.6,474.2 487.6,474.6 501.6,475.2 487.3,475.6 491.9,476.2 490.5,476.6 479.4,477.1 496.2,477.7 506.4,478.3 485.0,478.8 485.6,479.2 505.6,479.6 499.7,480.3 511.4,480.9 496.6,481.2 504.7,481.6 511.3,482.1 492.3,482.6 489.8,483.2 491.6,483.5 495.0,484.1 493.3,484.7 504.6,485.4 495.7,485.8 497.9,486.3 491.0,486.9 495.9,487.5 489.7,487.9 506.7,488.5 491.9,489.0 492.9,489.6 499.6,489.9 482.9,490.5 487.3,491.0 496.7,491.5 497.8,492.0 489.2,492.4 504.4,493.0 498.7,493.4 484.2,493.8 497.4,494.4 497.0,495.0 502.0,495.4 492.2,496.1 496.0,496.6 481.6,497.1 493.8,497.7 481.6,498.1 483.9,498.4 496.6,498.8 502.5,499.5 506.2,500.1 496.7,500.7 508.3,501.2 509.9,501.6 494.0,502.0 488.1,502.4 494.9,503.0 500.4,503.6 507.5,504.0 493.6,504.6 499.7,505.0 503.7,505.4 506.9,505.7 507.4,506.1 503.3,506.5 504.6,507.1 486.9,507.7 489.5,508.2 490.5,508.6 491.7,509.2 499.2,509.7 500.8,510.3 499.1,510.8 489.6,511.2 491.0,511.8 492.4,512.3 488.1,512.8 495.3,513.3 495.1,513.8 492.4,514.2 491.3,514.8 483.1,515.4 493.4,516.0 499.2,516.6 509.1,517.1 505.2,517.6 508.0,518.2 497.7,518.6 490.6,519.0 489.8,519.6 499.1,520.2 489.7,520.7 498.0,521.2 496.2,521.7 505.1,522.1 493.0,522.5 493.1,523.2 483.2,523.7 476.6,524.3 488.0,524.8 493.3,525.2 502.3,525.6 504.8,526.0 489.1,526.5 492.9,526.9 482.1,527.5 496.1,528.1 506.8,528.7 498.0,529.2 487.8,529.7 502.6,530.2 497.2,530.6 486.9,531.2 491.1,531.8 499.2,532.3" fill="none" stroke="#e2352c" stroke-width="0.95" stroke-opacity="0.72"/>
<line x1="478" y1="193" x2="524.5" y2="193" stroke="#3d64c4" stroke-width="0.8"/>
<line x1="478" y1="282" x2="521" y2="282" stroke="#3d64c4" stroke-width="0.8"/>
<line x1="478" y1="482.5" x2="518.7" y2="482.5" stroke="#3d64c4" stroke-width="0.8"/>
<line x1="478" y1="531" x2="523" y2="531" stroke="#3d64c4" stroke-width="0.8"/>
<line x1="495" y1="434" x2="526" y2="434" stroke="#e2302a" stroke-width="0.8"/>
<path d="M660.8,47.5 C660.6,48.5 659.3,51.3 659.8,53.3 C660.3,55.3 662.8,57.5 664,59.6 C665.2,61.7 666.6,63.7 667.1,65.8 C667.6,67.9 667.5,69.6 667.1,72 C666.8,74.4 665.4,78.1 665,80.4 C664.6,82.7 664.6,83.9 665,85.6 C665.4,87.3 666.6,88.9 667.1,90.8 C667.6,92.7 667.8,94.9 667.7,97 C667.6,99.1 667.5,101.4 666.7,103.3 C665.9,105.2 663.9,106.8 662.9,108.5 C661.9,110.2 661.0,111.8 660.8,113.75 C660.6,115.7 661.9,118.1 661.9,120 C661.9,121.9 660.6,123.5 660.8,125.2 C661.0,126.9 662.4,128.7 662.9,130.4 C663.4,132.1 664.4,133.2 664,135.6 C663.6,138.0 661.8,141.7 660.8,145 C659.8,148.3 657.9,152.8 657.7,155.4 C657.5,158.0 658.8,159.1 659.8,160.6 C660.8,162.1 662.9,163.0 664,164.5 C665.1,166.0 666.9,167.9 666.7,169.4 C666.5,170.9 664.4,172.1 662.9,173.5 C661.4,174.9 658.7,176.3 657.7,177.7 C656.7,179.1 656.4,180.2 656.7,181.9 C657.1,183.6 658.8,185.7 659.8,188.1 C660.8,190.5 662.5,193.7 662.9,196.5 C663.2,199.3 662.5,202.0 661.9,204.8 C661.3,207.6 659.6,210.5 659.2,213.1 C658.9,215.7 659.0,217.8 659.8,220.4 C660.6,223.0 663.1,226.5 664,228.75 C664.9,231.0 665.2,232.1 665,234 C664.8,235.9 663.2,238.3 662.9,240.2 C662.5,242.1 662.2,243.5 662.9,245.4 C663.6,247.3 666.8,249.6 667.1,251.7 C667.5,253.8 665.5,255.8 665,257.9 C664.5,260.0 663.8,262.1 664,264.2 C664.2,266.3 665.3,268.5 666,270.4 C666.7,272.3 668.5,273.8 668.1,275.6 C667.8,277.4 664.8,279.3 663.9,281 C663.0,282.7 663.7,283.6 662.7,286 C661.8,288.4 658.6,292.6 658.2,295.3 C657.8,298.0 659.8,299.8 660.5,302.1 C661.2,304.4 663.1,306.6 662.7,308.9 C662.3,311.1 658.8,313.7 658.2,315.6 C657.6,317.5 658.5,318.4 659.3,320.1 C660.0,321.8 662.5,323.9 662.7,325.8 C662.9,327.7 662.2,329.1 660.5,331.4 C658.8,333.6 654.1,337.4 652.6,339.3 C651.1,341.2 650.8,341.2 651.4,342.7 C652.0,344.2 655.4,346.5 656,348.4 C656.6,350.3 656.1,351.8 654.8,354 C653.5,356.2 649.8,359.6 648.1,361.9 C646.4,364.2 644.9,365.9 644.7,367.6 C644.5,369.3 645.6,370.6 646.9,372.1 C648.2,373.6 651.9,374.9 652.6,376.6 C653.4,378.3 652.9,379.9 651.4,382.2 C649.9,384.4 645.0,388.0 643.5,390.1 C642.0,392.2 641.8,393.1 642.4,394.6 C643.0,396.1 645.0,397.7 646.9,399.2 C648.8,400.7 654.2,402.0 653.7,403.7 C653.2,405.4 645.9,407.7 644.1,409.4 C642.3,411.1 642.3,412.0 642.9,414.1 C643.5,416.2 645.8,419.6 647.6,422.3 C649.4,425.0 653.1,428.1 653.5,430.5 C653.9,432.9 652.0,434.8 650,436.4 C648.0,438.0 643.1,438.5 641.7,439.9 C640.3,441.3 640.5,442.7 641.7,444.6 C642.9,446.6 647.0,449.7 648.8,451.6 C650.6,453.6 652.1,454.7 652.3,456.3 C652.5,457.9 651.4,459.4 650,461 C648.6,462.6 645.1,464.1 644.1,465.7 C643.1,467.3 642.9,469.0 644.1,470.4 C645.3,471.8 649.4,472.7 651.1,473.9 C652.9,475.1 654.6,476.1 654.6,477.5 C654.6,478.9 652.3,480.6 651.1,482.2 C649.9,483.8 648.2,485.1 647.6,486.9 C647.0,488.6 646.6,490.8 647.6,492.7 C648.6,494.6 651.5,497.0 653.5,498.6 C655.5,500.2 658.7,500.9 659.3,502.1 C659.9,503.3 658.2,504.4 657,505.6 C655.8,506.8 652.7,507.6 652.3,509.2 C651.9,510.8 653.4,513.5 654.6,515 C655.8,516.5 658.9,517.3 659.3,518.5 C659.7,519.7 657.6,521.1 657,522.1 C656.4,523.1 655.2,523.6 655.8,524.4 C656.4,525.2 658.5,525.8 660.5,526.8 C662.5,527.8 666.4,529.7 667.6,530.3" fill="none" stroke="#37ace0" stroke-width="1.1"/>
<rect x="419.5" y="2.5" width="263.0" height="530.5" fill="none" stroke="#4e4e4e" stroke-width="1"/>
<line x1="419.5" y1="47" x2="682.5" y2="47" stroke="#4e4e4e" stroke-width="1"/>
<line x1="443.5" y1="2.5" x2="443.5" y2="533" stroke="#4e4e4e" stroke-width="1"/>
<line x1="465.5" y1="2.5" x2="465.5" y2="533" stroke="#4e4e4e" stroke-width="1"/>
<line x1="527.5" y1="2.5" x2="527.5" y2="533" stroke="#4e4e4e" stroke-width="1"/>
<line x1="543.5" y1="2.5" x2="543.5" y2="533" stroke="#4e4e4e" stroke-width="1"/>
<line x1="590.5" y1="2.5" x2="590.5" y2="533" stroke="#4e4e4e" stroke-width="1"/>
<line x1="610.5" y1="2.5" x2="610.5" y2="533" stroke="#4e4e4e" stroke-width="1"/>
<line x1="630.5" y1="2.5" x2="630.5" y2="533" stroke="#4e4e4e" stroke-width="1"/>
<line x1="419.5" y1="217" x2="443.5" y2="217" stroke="#4e4e4e" stroke-width="1"/>
<line x1="443.5" y1="121.5" x2="465.5" y2="121.5" stroke="#4e4e4e" stroke-width="1"/>
<line x1="443.5" y1="217" x2="465.5" y2="217" stroke="#4e4e4e" stroke-width="1"/>
<line x1="443.5" y1="299.5" x2="465.5" y2="299.5" stroke="#4e4e4e" stroke-width="1"/>
<line x1="443.5" y1="410.5" x2="465.5" y2="410.5" stroke="#4e4e4e" stroke-width="1"/>
<line x1="443.5" y1="470.5" x2="465.5" y2="470.5" stroke="#4e4e4e" stroke-width="1"/>
<line x1="539" y1="101.5" x2="543.5" y2="101.5" stroke="#4e4e4e" stroke-width="1"/>
<text transform="translate(539.2,112.5) rotate(-90)" x="0" y="0" font-size="10.2" fill="#1c1c1c" textLength="22.0" lengthAdjust="spacingAndGlyphs">3000</text>
<line x1="539" y1="158.5" x2="543.5" y2="158.5" stroke="#4e4e4e" stroke-width="1"/>
<text transform="translate(539.2,169.5) rotate(-90)" x="0" y="0" font-size="10.2" fill="#1c1c1c" textLength="22.0" lengthAdjust="spacingAndGlyphs">3100</text>
<line x1="539" y1="215" x2="543.5" y2="215" stroke="#4e4e4e" stroke-width="1"/>
<text transform="translate(539.2,226) rotate(-90)" x="0" y="0" font-size="10.2" fill="#1c1c1c" textLength="22" lengthAdjust="spacingAndGlyphs">3200</text>
<line x1="539" y1="271.5" x2="543.5" y2="271.5" stroke="#4e4e4e" stroke-width="1"/>
<text transform="translate(539.2,282.5) rotate(-90)" x="0" y="0" font-size="10.2" fill="#1c1c1c" textLength="22.0" lengthAdjust="spacingAndGlyphs">3300</text>
<line x1="539" y1="327" x2="543.5" y2="327" stroke="#4e4e4e" stroke-width="1"/>
<text transform="translate(539.2,338) rotate(-90)" x="0" y="0" font-size="10.2" fill="#1c1c1c" textLength="22" lengthAdjust="spacingAndGlyphs">3400</text>
<line x1="539" y1="383.5" x2="543.5" y2="383.5" stroke="#4e4e4e" stroke-width="1"/>
<text transform="translate(539.2,394.5) rotate(-90)" x="0" y="0" font-size="10.2" fill="#1c1c1c" textLength="22.0" lengthAdjust="spacingAndGlyphs">3500</text>
<line x1="539" y1="440" x2="543.5" y2="440" stroke="#4e4e4e" stroke-width="1"/>
<text transform="translate(539.2,451) rotate(-90)" x="0" y="0" font-size="10.2" fill="#1c1c1c" textLength="22" lengthAdjust="spacingAndGlyphs">3600</text>
<line x1="539" y1="496.5" x2="543.5" y2="496.5" stroke="#4e4e4e" stroke-width="1"/>
<text transform="translate(539.2,507.5) rotate(-90)" x="0" y="0" font-size="10.2" fill="#1c1c1c" textLength="22.0" lengthAdjust="spacingAndGlyphs">3700</text>
<text transform="translate(428.7,41.2) rotate(-90)" x="0" y="0" font-size="11.2" fill="#1c1c1c" textLength="35.6" lengthAdjust="spacingAndGlyphs">Subme</text>
<text transform="translate(440.4,41.7) rotate(-90)" x="0" y="0" font-size="11.2" fill="#1c1c1c" textLength="29.500000000000004" lengthAdjust="spacingAndGlyphs">-mber</text>
<text transform="translate(450.9,38.2) rotate(-90)" x="0" y="0" font-size="11.2" fill="#1c1c1c" textLength="30.400000000000002" lengthAdjust="spacingAndGlyphs">Sequ-</text>
<text transform="translate(464.0,38.2) rotate(-90)" x="0" y="0" font-size="11.2" fill="#1c1c1c" textLength="24.300000000000004" lengthAdjust="spacingAndGlyphs">ence</text>
<text x="488.9" y="14.3" font-size="10.2" fill="#1c1c1c" textLength="14.600000000000023" lengthAdjust="spacingAndGlyphs">GR</text>
<line x1="467.7" y1="18.3" x2="525.7" y2="18.3" stroke="#e04040" stroke-width="1.3"/>
<text x="466.9" y="25.8" font-size="8.4" fill="#1c1c1c" textLength="7.900000000000034" lengthAdjust="spacingAndGlyphs">35</text>
<text x="491" y="25.8" font-size="8.4" fill="#1c1c1c" textLength="11.300000000000011" lengthAdjust="spacingAndGlyphs">API</text>
<text x="516" y="25.8" font-size="8.4" fill="#1c1c1c" textLength="10.600000000000023" lengthAdjust="spacingAndGlyphs">110</text>
<text x="490.8" y="35.2" font-size="10.2" fill="#1c1c1c" textLength="11.699999999999989" lengthAdjust="spacingAndGlyphs">R4</text>
<line x1="467.7" y1="38.2" x2="525.7" y2="38.2" stroke="#5a86d0" stroke-width="1.3"/>
<text x="467.4" y="44.8" font-size="8.4" fill="#1c1c1c" textLength="2.2000000000000455" lengthAdjust="spacingAndGlyphs">1</text>
<text x="491" y="44.8" font-size="8.4" fill="#666" textLength="12" lengthAdjust="spacingAndGlyphs">ΩM</text>
<text x="519.4" y="44.8" font-size="8.4" fill="#1c1c1c" textLength="6.7000000000000455" lengthAdjust="spacingAndGlyphs">21</text>
<text transform="translate(537.4,46) rotate(-90)" x="0" y="0" font-size="10.8" fill="#1c1c1c" textLength="28.6" lengthAdjust="spacingAndGlyphs">Depth</text>
<text transform="translate(538.0,16) rotate(-90)" x="0" y="0" font-size="8.5" fill="#1c1c1c" textLength="12.5" lengthAdjust="spacingAndGlyphs">(m)</text>
<text x="543.8" y="29.1" font-size="11.3" fill="#1c1c1c" textLength="46.0" lengthAdjust="spacingAndGlyphs">Lithology</text>
<text transform="translate(598.2,37.8) rotate(-90)" x="0" y="0" font-size="10.8" fill="#1c1c1c" textLength="30.4" lengthAdjust="spacingAndGlyphs">Fourth</text>
<text transform="translate(609.7,34.7) rotate(-90)" x="0" y="0" font-size="10.8" fill="#1c1c1c" textLength="23.800000000000004" lengthAdjust="spacingAndGlyphs">order</text>
<text transform="translate(618.2,33.4) rotate(-90)" x="0" y="0" font-size="10.8" fill="#1c1c1c" textLength="21.2" lengthAdjust="spacingAndGlyphs">Third</text>
<text transform="translate(629.7,35.2) rotate(-90)" x="0" y="0" font-size="10.8" fill="#1c1c1c" textLength="24.300000000000004" lengthAdjust="spacingAndGlyphs">order</text>
<text x="631.5" y="28.6" font-size="11.4" fill="#1c1c1c" textLength="50.299999999999955" lengthAdjust="spacingAndGlyphs">Lake level</text>
<line x1="632.8" y1="43.4" x2="635.8" y2="43.4" stroke="#333" stroke-width="1"/>
<line x1="675.3" y1="42.5" x2="680.5" y2="42.5" stroke="#333" stroke-width="1"/>
<line x1="677.9" y1="40" x2="677.9" y2="45" stroke="#333" stroke-width="1"/>
<text x="445.7" y="88.4" font-size="11.2" fill="#1c1c1c" textLength="18.600000000000023" lengthAdjust="spacingAndGlyphs">SQ1</text>
<text x="445.7" y="172.5" font-size="11.2" fill="#1c1c1c" textLength="18.600000000000023" lengthAdjust="spacingAndGlyphs">SQ2</text>
<text x="445.7" y="262.4" font-size="11.2" fill="#1c1c1c" textLength="18.600000000000023" lengthAdjust="spacingAndGlyphs">SQ3</text>
<text x="445.7" y="360.5" font-size="11.2" fill="#1c1c1c" textLength="18.600000000000023" lengthAdjust="spacingAndGlyphs">SQ4</text>
<text x="445.7" y="444.6" font-size="11.2" fill="#1c1c1c" textLength="18.600000000000023" lengthAdjust="spacingAndGlyphs">SQ5</text>
<text x="445.7" y="506.5" font-size="11.2" fill="#1c1c1c" textLength="18.600000000000023" lengthAdjust="spacingAndGlyphs">SQ6</text>
<text x="421.2" y="136.7" font-size="11" fill="#1c1c1c" textLength="11.9" lengthAdjust="spacingAndGlyphs">Es</text>
<text x="434.7" y="138.89999999999998" font-size="8.2" fill="#1c1c1c">3</text>
<text x="437.0" y="131.89999999999998" font-size="8.2" fill="#1c1c1c">2</text>
<text x="421.1" y="372.7" font-size="11" fill="#1c1c1c" textLength="11.9" lengthAdjust="spacingAndGlyphs">Es</text>
<text x="434.6" y="374.9" font-size="8.2" fill="#1c1c1c">3</text>
<text x="436.90000000000003" y="367.9" font-size="8.2" fill="#1c1c1c">3</text>
<rect x="24.2" y="540" width="38.0" height="13.799999999999955" fill="#f8df8c" stroke="#333" stroke-width="1"/>
<rect x="88.2" y="540" width="37.39999999999999" height="13.799999999999955" fill="#f8df8c" stroke="#333" stroke-width="1"/>
<rect x="151.7" y="540" width="38.10000000000002" height="13.799999999999955" fill="#f8df8c" stroke="#333" stroke-width="1"/>
<rect x="212.2" y="540" width="38.5" height="13.799999999999955" fill="#bad2e2" stroke="#333" stroke-width="1"/>
<rect x="275.9" y="540" width="38.60000000000002" height="13.799999999999955" fill="#b7976b" stroke="#333" stroke-width="1"/>
<rect x="342.8" y="540" width="30.599999999999966" height="13.799999999999955" fill="#fff" stroke="#333" stroke-width="1"/>
<rect x="398.8" y="540" width="30.099999999999966" height="13.799999999999955" fill="#fff" stroke="#333" stroke-width="1"/>
<rect x="454.9" y="540" width="30.900000000000034" height="13.799999999999955" fill="#fff" stroke="#333" stroke-width="1"/>
<rect x="512.7" y="540" width="30.09999999999991" height="13.799999999999955" fill="#fff" stroke="#333" stroke-width="1"/>
<rect x="569.7" y="540" width="30.59999999999991" height="13.799999999999955" fill="#fff" stroke="#333" stroke-width="1"/>
<rect x="627.2" y="540" width="30.59999999999991" height="13.799999999999955" fill="#fff" stroke="#333" stroke-width="1"/>
<circle cx="26.7" cy="543.0" r="1.2" fill="none" stroke="#333" stroke-width="0.55"/>
<rect x="33" y="542" width="1.5" height="1.5" fill="#111"/>
<rect x="39" y="542" width="1.5" height="1.5" fill="#111"/>
<rect x="45" y="543" width="1.5" height="1.5" fill="#111"/>
<rect x="50" y="542" width="1.5" height="1.5" fill="#111"/>
<rect x="56" y="543" width="1.5" height="1.5" fill="#111"/>
<rect x="29" y="546" width="1.5" height="1.5" fill="#111"/>
<rect x="36" y="546" width="1.5" height="1.5" fill="#111"/>
<rect x="41" y="547" width="1.5" height="1.5" fill="#111"/>
<rect x="48" y="546" width="1.5" height="1.5" fill="#111"/>
<rect x="53" y="547" width="1.5" height="1.5" fill="#111"/>
<rect x="59" y="547" width="1.5" height="1.5" fill="#111"/>
<rect x="27" y="551" width="1.5" height="1.5" fill="#111"/>
<rect x="32" y="551" width="1.5" height="1.5" fill="#111"/>
<rect x="37" y="551" width="1.5" height="1.5" fill="#111"/>
<circle cx="44.0" cy="552.0" r="1.2" fill="none" stroke="#333" stroke-width="0.55"/>
<circle cx="51.2" cy="551.5" r="1.2" fill="none" stroke="#333" stroke-width="0.55"/>
<circle cx="55.9" cy="551.3" r="1.2" fill="none" stroke="#333" stroke-width="0.55"/>
<rect x="92" y="542" width="1.5" height="1.5" fill="#111"/>
<rect x="97" y="542" width="1.5" height="1.5" fill="#111"/>
<rect x="103" y="542" width="1.5" height="1.5" fill="#111"/>
<rect x="109" y="542" width="1.5" height="1.5" fill="#111"/>
<rect x="115" y="542" width="1.5" height="1.5" fill="#111"/>
<rect x="119" y="542" width="1.5" height="1.5" fill="#111"/>
<rect x="94" y="546" width="1.5" height="1.5" fill="#111"/>
<rect x="99" y="546" width="1.5" height="1.5" fill="#111"/>
<rect x="104" y="546" width="1.5" height="1.5" fill="#111"/>
<rect x="110" y="546" width="1.5" height="1.5" fill="#111"/>
<rect x="117" y="547" width="1.5" height="1.5" fill="#111"/>
<rect x="123" y="547" width="1.5" height="1.5" fill="#111"/>
<rect x="91" y="551" width="1.5" height="1.5" fill="#111"/>
<rect x="97" y="551" width="1.5" height="1.5" fill="#111"/>
<rect x="103" y="551" width="1.5" height="1.5" fill="#111"/>
<rect x="107" y="551" width="1.5" height="1.5" fill="#111"/>
<rect x="114" y="551" width="1.5" height="1.5" fill="#111"/>
<rect x="119" y="551" width="1.5" height="1.5" fill="#111"/>
<rect x="157" y="544" width="1.3" height="1.3" fill="#222"/><rect x="159.4" y="544" width="1.3" height="1.3" fill="#222"/>
<rect x="169" y="544" width="1.3" height="1.3" fill="#222"/><rect x="171.4" y="544" width="1.3" height="1.3" fill="#222"/>
<rect x="181" y="544" width="1.3" height="1.3" fill="#222"/><rect x="183.4" y="544" width="1.3" height="1.3" fill="#222"/>
<rect x="159.5" y="550" width="1.3" height="1.3" fill="#222"/><rect x="161.9" y="550" width="1.3" height="1.3" fill="#222"/>
<rect x="171.5" y="550" width="1.3" height="1.3" fill="#222"/><rect x="173.9" y="550" width="1.3" height="1.3" fill="#222"/>
<rect x="183.5" y="550" width="1.3" height="1.3" fill="#222"/><rect x="185.9" y="550" width="1.3" height="1.3" fill="#222"/>
<line x1="216.8" y1="544" x2="221.60000000000002" y2="544" stroke="#333" stroke-width="1.1"/>
<line x1="226.5" y1="544" x2="231.3" y2="544" stroke="#333" stroke-width="1.1"/>
<line x1="236.5" y1="544" x2="241.3" y2="544" stroke="#333" stroke-width="1.1"/>
<line x1="223.3" y1="550.5" x2="228.3" y2="550.5" stroke="#333" stroke-width="1.1"/>
<line x1="233.2" y1="550.5" x2="238.2" y2="550.5" stroke="#333" stroke-width="1.1"/>
<line x1="243.6" y1="550.5" x2="248.6" y2="550.5" stroke="#333" stroke-width="1.1"/>
<clipPath id="cv2"><rect x="275.9" y="540" width="38.6" height="13.8"/></clipPath>
<g clip-path="url(#cv2)">
<line x1="267.9" y1="553.8" x2="274.9" y2="540" stroke="#333" stroke-width="1"/>
<line x1="274.3" y1="553.8" x2="281.3" y2="540" stroke="#333" stroke-width="1"/>
<line x1="280.7" y1="553.8" x2="287.7" y2="540" stroke="#333" stroke-width="1"/>
<line x1="287.1" y1="553.8" x2="294.1" y2="540" stroke="#333" stroke-width="1"/>
<line x1="293.5" y1="553.8" x2="300.5" y2="540" stroke="#333" stroke-width="1"/>
<line x1="299.9" y1="553.8" x2="306.9" y2="540" stroke="#333" stroke-width="1"/>
<line x1="306.3" y1="553.8" x2="313.3" y2="540" stroke="#333" stroke-width="1"/>
<line x1="312.7" y1="553.8" x2="319.7" y2="540" stroke="#333" stroke-width="1"/>
</g>
<rect x="275.9" y="540" width="38.60000000000002" height="13.799999999999955" fill="none" stroke="#333" stroke-width="1"/>
<rect x="345" y="542" width="1.7" height="1.7" fill="#222"/>
<rect x="368.5" y="542" width="1.7" height="1.7" fill="#222"/>
<rect x="355" y="542.3" width="1.0" height="1.0" fill="#222"/>
<rect x="361" y="542.3" width="1.0" height="1.0" fill="#222"/>
<rect x="345" y="546" width="1.7" height="1.7" fill="#222"/>
<rect x="368.5" y="546" width="1.7" height="1.7" fill="#222"/>
<rect x="355" y="546.3" width="1.0" height="1.0" fill="#222"/>
<rect x="361" y="546.3" width="1.0" height="1.0" fill="#222"/>
<rect x="345" y="550" width="1.7" height="1.7" fill="#222"/>
<rect x="368.5" y="550" width="1.7" height="1.7" fill="#222"/>
<rect x="355" y="550.3" width="1.0" height="1.0" fill="#222"/>
<rect x="361" y="550.3" width="1.0" height="1.0" fill="#222"/>
<rect x="403" y="543" width="1.0" height="1.0" fill="#222"/>
<rect x="410" y="543" width="1.0" height="1.0" fill="#222"/>
<rect x="417" y="543" width="1.0" height="1.0" fill="#222"/>
<rect x="424" y="543" width="1.0" height="1.0" fill="#222"/>
<rect x="406" y="549" width="1.0" height="1.0" fill="#222"/>
<rect x="413" y="549" width="1.0" height="1.0" fill="#222"/>
<rect x="420" y="549" width="1.0" height="1.0" fill="#222"/>
<rect x="426" y="549" width="1.0" height="1.0" fill="#222"/>
<rect x="459" y="543" width="1.1" height="1.1" fill="#222"/>
<rect x="461" y="543" width="1.1" height="1.1" fill="#222"/>
<rect x="466" y="543" width="1.1" height="1.1" fill="#222"/>
<rect x="468" y="543" width="1.1" height="1.1" fill="#222"/>
<rect x="473" y="543" width="1.1" height="1.1" fill="#222"/>
<rect x="475" y="543" width="1.1" height="1.1" fill="#222"/>
<rect x="463" y="549" width="1.1" height="1.1" fill="#222"/>
<rect x="465" y="549" width="1.1" height="1.1" fill="#222"/>
<rect x="470" y="549" width="1.1" height="1.1" fill="#222"/>
<rect x="472" y="549" width="1.1" height="1.1" fill="#222"/>
<rect x="477" y="549" width="1.1" height="1.1" fill="#222"/>
<rect x="479" y="549" width="1.1" height="1.1" fill="#222"/>
<line x1="518.0" y1="543.5" x2="520.4" y2="543.5" stroke="#333" stroke-width="1"/>
<line x1="518.0" y1="549.5" x2="520.4" y2="549.5" stroke="#333" stroke-width="1"/>
<line x1="522.2" y1="543.5" x2="524.6" y2="543.5" stroke="#333" stroke-width="1"/>
<line x1="522.2" y1="549.5" x2="524.6" y2="549.5" stroke="#333" stroke-width="1"/>
<line x1="526.4" y1="543.5" x2="528.8" y2="543.5" stroke="#333" stroke-width="1"/>
<line x1="526.4" y1="549.5" x2="528.8" y2="549.5" stroke="#333" stroke-width="1"/>
<line x1="530.6" y1="543.5" x2="533.0" y2="543.5" stroke="#333" stroke-width="1"/>
<line x1="530.6" y1="549.5" x2="533.0" y2="549.5" stroke="#333" stroke-width="1"/>
<line x1="573" y1="543.5" x2="575.3" y2="543.5" stroke="#333" stroke-width="1"/>
<line x1="576.3" y1="543.5" x2="578.5999999999999" y2="543.5" stroke="#333" stroke-width="1"/>
<line x1="579.6" y1="543.5" x2="581.9" y2="543.5" stroke="#333" stroke-width="1"/>
<line x1="584.5" y1="543.5" x2="586.8" y2="543.5" stroke="#333" stroke-width="1"/>
<line x1="587.8" y1="543.5" x2="590.0999999999999" y2="543.5" stroke="#333" stroke-width="1"/>
<line x1="591.1" y1="543.5" x2="593.4" y2="543.5" stroke="#333" stroke-width="1"/>
<line x1="573.0" y1="549.5" x2="575.4" y2="549.5" stroke="#333" stroke-width="1"/>
<line x1="576.5" y1="549.5" x2="578.9" y2="549.5" stroke="#333" stroke-width="1"/>
<line x1="580.0" y1="549.5" x2="582.4" y2="549.5" stroke="#333" stroke-width="1"/>
<line x1="583.5" y1="549.5" x2="585.9" y2="549.5" stroke="#333" stroke-width="1"/>
<line x1="587.0" y1="549.5" x2="589.4" y2="549.5" stroke="#333" stroke-width="1"/>
<line x1="590.5" y1="549.5" x2="592.9" y2="549.5" stroke="#333" stroke-width="1"/>
<line x1="594.0" y1="549.5" x2="596.4" y2="549.5" stroke="#333" stroke-width="1"/>
<line x1="630.5" y1="543.5" x2="633.5" y2="543.5" stroke="#333" stroke-width="1"/>
<line x1="635" y1="549.5" x2="638" y2="549.5" stroke="#333" stroke-width="1"/>
<line x1="635.5" y1="543.5" x2="638.5" y2="543.5" stroke="#333" stroke-width="1"/>
<line x1="640" y1="549.5" x2="643" y2="549.5" stroke="#333" stroke-width="1"/>
<line x1="640.5" y1="543.5" x2="643.5" y2="543.5" stroke="#333" stroke-width="1"/>
<line x1="645" y1="549.5" x2="648" y2="549.5" stroke="#333" stroke-width="1"/>
<line x1="645.5" y1="543.5" x2="648.5" y2="543.5" stroke="#333" stroke-width="1"/>
<line x1="650" y1="549.5" x2="653" y2="549.5" stroke="#333" stroke-width="1"/>
<text x="13.1" y="568.9" font-size="9.2" fill="#333" textLength="60.1" lengthAdjust="spacingAndGlyphs">Conglomerates</text>
<text x="85.1" y="568.5" font-size="9.2" fill="#333" textLength="47.5" lengthAdjust="spacingAndGlyphs">Sandstones</text>
<text x="151.3" y="568.5" font-size="9.2" fill="#333" textLength="39.0" lengthAdjust="spacingAndGlyphs">Siltstones</text>
<text x="209.8" y="568.5" font-size="9.2" fill="#333" textLength="43.5" lengthAdjust="spacingAndGlyphs">Mudstones</text>
<text x="267" y="568.5" font-size="9.2" fill="#333" textLength="59.89999999999998" lengthAdjust="spacingAndGlyphs">Voclanic Rocks</text>
<text x="331.7" y="563.6" font-size="9.2" fill="#333" textLength="59.30000000000001" lengthAdjust="spacingAndGlyphs">Gravel-bearing</text>
<text x="340" y="572.6" font-size="9.2" fill="#333" textLength="42.5" lengthAdjust="spacingAndGlyphs">sandstone</text>
<text x="416.4" y="563.6" font-size="9.2" fill="#333" text-anchor="middle">Fine</text>
<text x="396.5" y="572.6" font-size="9.2" fill="#333" textLength="45.5" lengthAdjust="spacingAndGlyphs">sandstones</text>
<text x="453.7" y="568" font-size="9.2" fill="#333" textLength="39.10000000000002" lengthAdjust="spacingAndGlyphs">Siltstones</text>
<text x="527.3" y="563.6" font-size="9.2" fill="#333" text-anchor="middle">Sandy</text>
<text x="510.7" y="572.6" font-size="9.2" fill="#333" textLength="37.900000000000034" lengthAdjust="spacingAndGlyphs">siltstones</text>
<text x="585" y="563.6" font-size="9.2" fill="#333" text-anchor="middle">Silty</text>
<text x="568.2" y="572.6" font-size="9.2" fill="#333" textLength="38.799999999999955" lengthAdjust="spacingAndGlyphs">mudstone</text>
<text x="621.6" y="568" font-size="9.2" fill="#333" textLength="43.0" lengthAdjust="spacingAndGlyphs">Mudstones</text>
</svg></body></html>
